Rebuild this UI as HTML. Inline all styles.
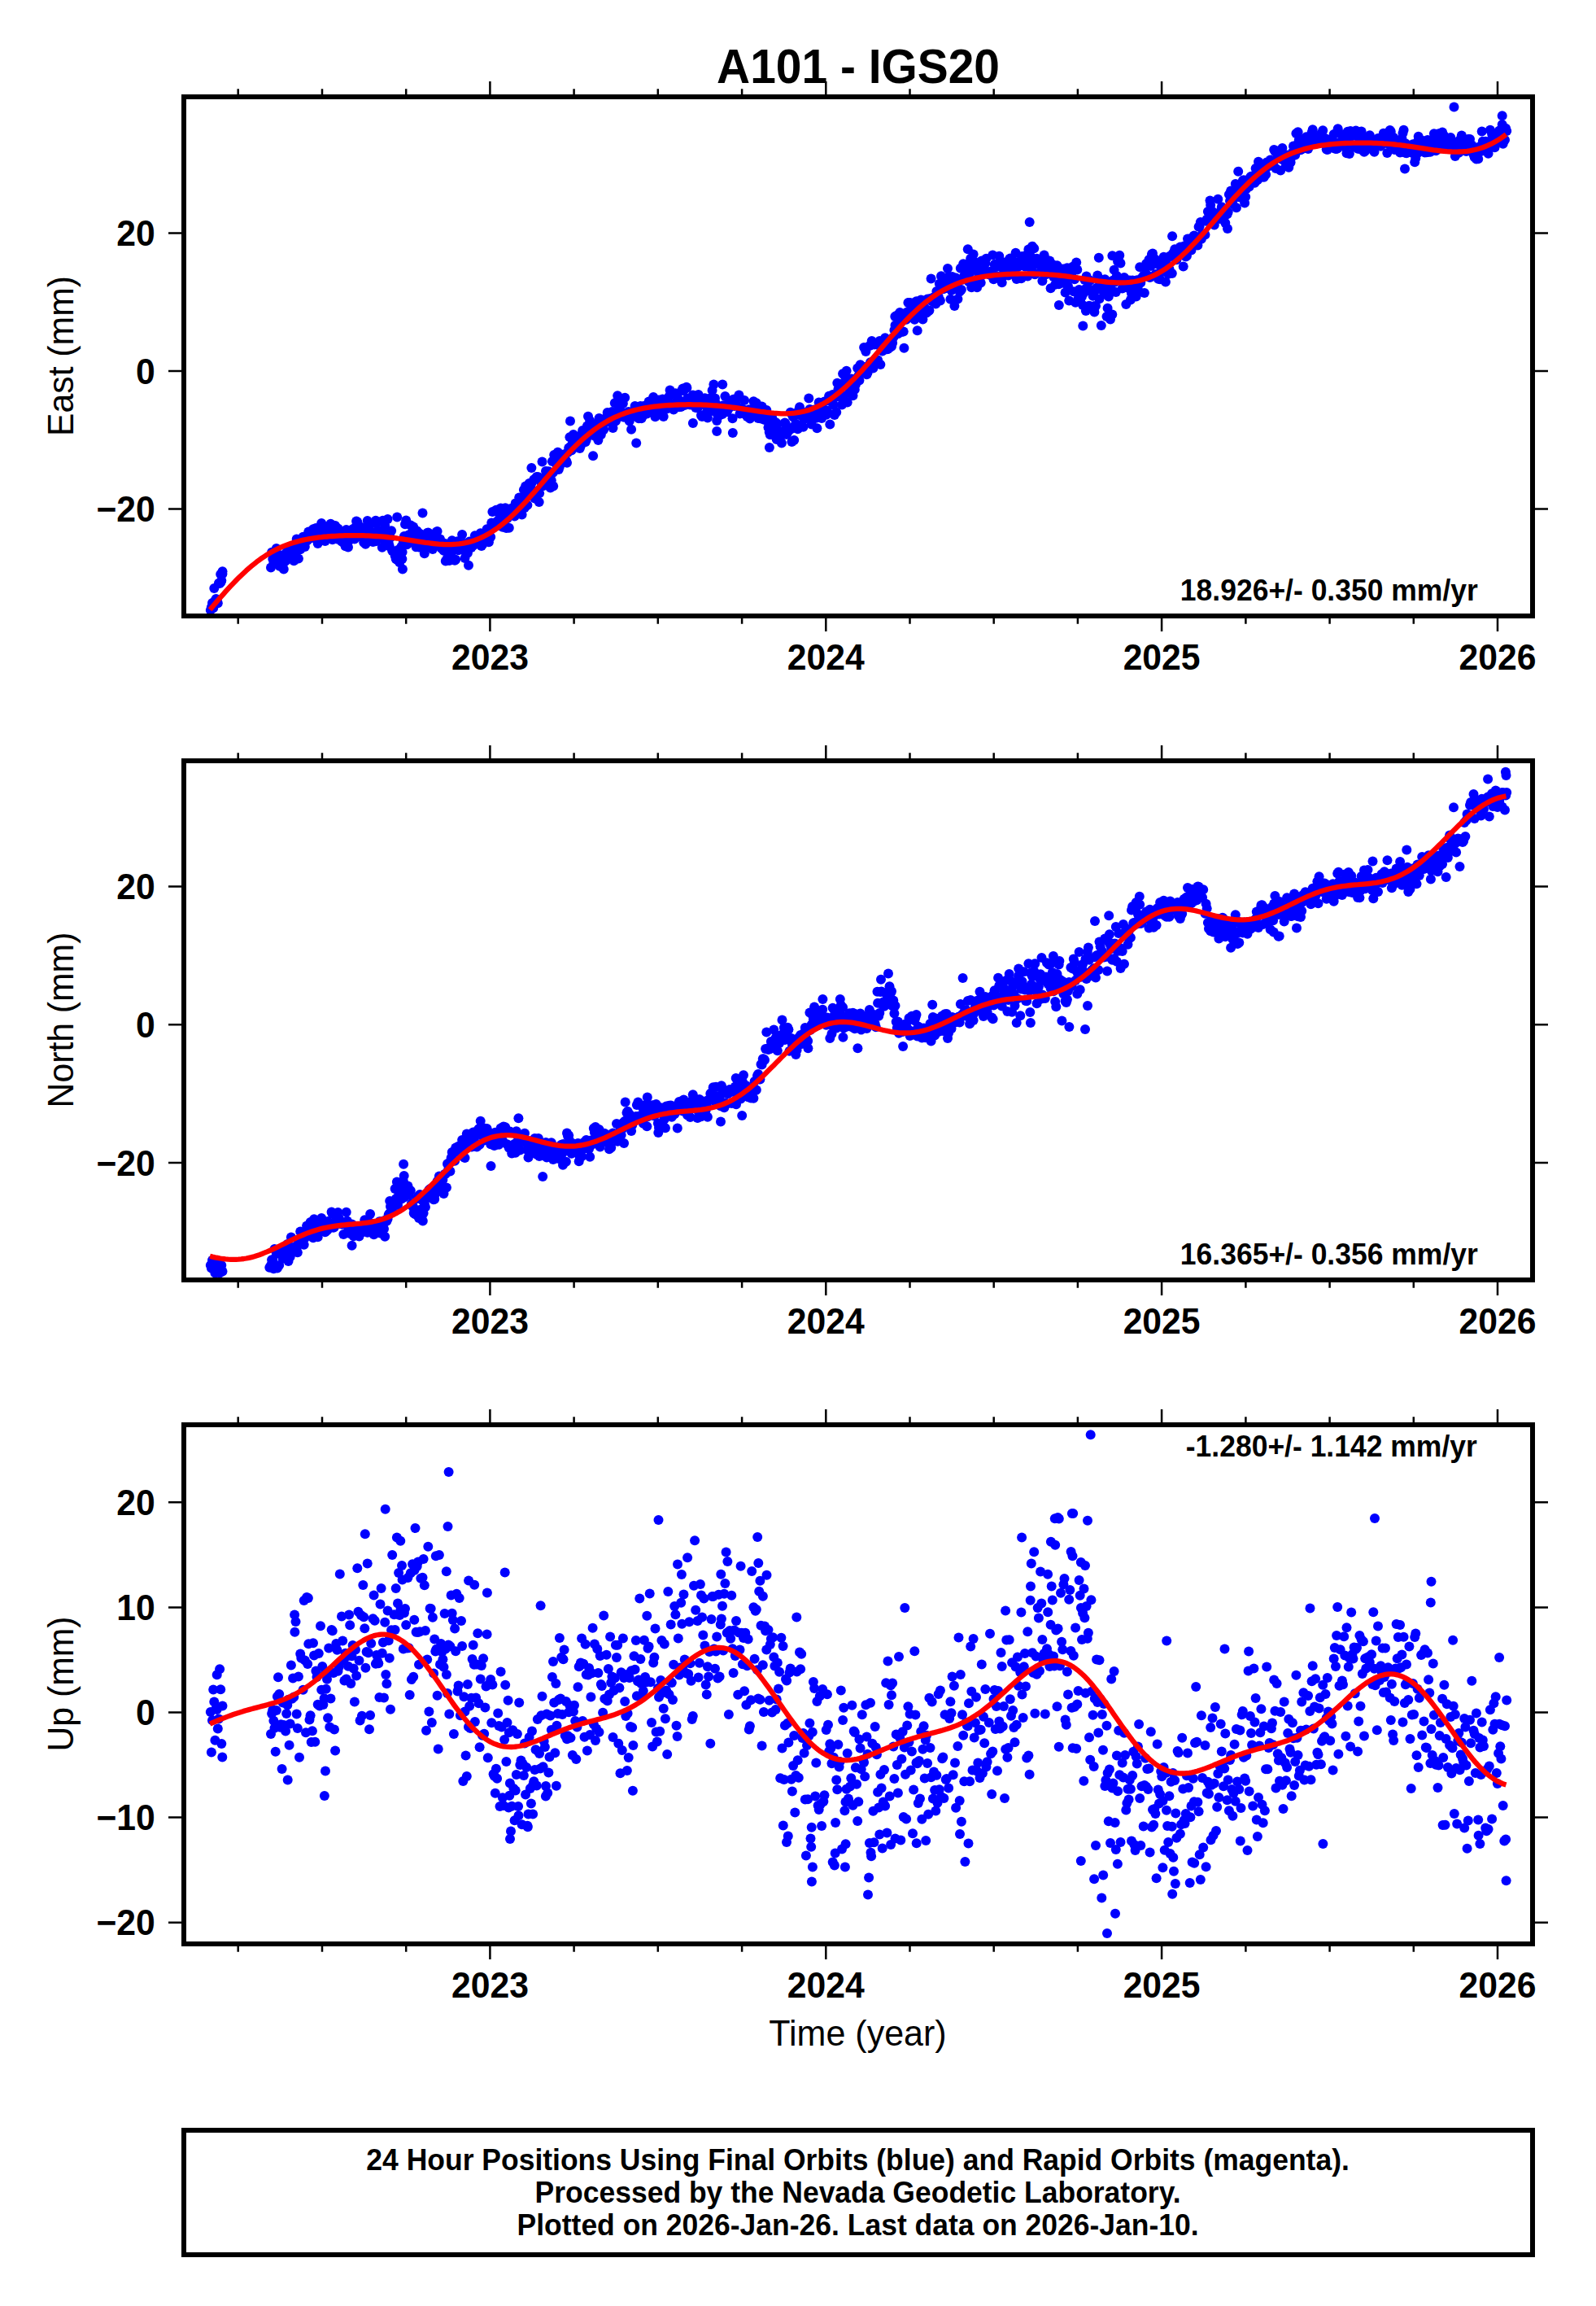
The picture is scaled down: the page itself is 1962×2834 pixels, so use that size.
<!DOCTYPE html>
<html lang="en"><head><meta charset="utf-8"><title>A101 - IGS20</title>
<style>html,body{margin:0;padding:0;background:#fff}svg{display:block}</style></head>
<body>
<svg width="1962" height="2834" viewBox="0 0 1962 2834" font-family='"Liberation Sans", Arial, Helvetica, sans-serif'>
<rect width="1962" height="2834" fill="#fff"/>
<text transform="translate(1055.0 102.0) scale(1 1.035)" font-size="56.9" font-weight="bold" text-anchor="middle">A101 - IGS20</text>
<g fill="#00f" id="dots0">
<circle cx="258.8" cy="749.9" r="6"/><circle cx="259.9" cy="746.3" r="6"/><circle cx="261.0" cy="740.9" r="6"/><circle cx="262.2" cy="747.2" r="6"/><circle cx="263.3" cy="723.1" r="6"/><circle cx="264.4" cy="738.6" r="6"/><circle cx="265.6" cy="735.9" r="6"/><circle cx="266.7" cy="737.8" r="6"/><circle cx="267.8" cy="741.3" r="6"/><circle cx="268.9" cy="716.8" r="6"/><circle cx="270.1" cy="717.1" r="6"/><circle cx="271.2" cy="705.7" r="6"/><circle cx="272.3" cy="713.4" r="6"/><circle cx="273.5" cy="702.3" r="6"/><circle cx="333.0" cy="697.6" r="6"/><circle cx="334.1" cy="678.7" r="6"/><circle cx="335.3" cy="687.0" r="6"/><circle cx="336.4" cy="691.9" r="6"/><circle cx="337.5" cy="687.7" r="6"/><circle cx="338.7" cy="684.7" r="6"/><circle cx="339.8" cy="674.1" r="6"/><circle cx="340.9" cy="681.0" r="6"/><circle cx="342.0" cy="689.4" r="6"/><circle cx="343.2" cy="695.1" r="6"/><circle cx="344.3" cy="696.0" r="6"/><circle cx="345.4" cy="682.4" r="6"/><circle cx="346.6" cy="685.6" r="6"/><circle cx="347.7" cy="692.9" r="6"/><circle cx="348.8" cy="699.5" r="6"/><circle cx="350.0" cy="686.3" r="6"/><circle cx="351.1" cy="689.5" r="6"/><circle cx="352.2" cy="678.7" r="6"/><circle cx="353.3" cy="681.0" r="6"/><circle cx="354.5" cy="680.2" r="6"/><circle cx="355.6" cy="677.0" r="6"/><circle cx="356.7" cy="675.5" r="6"/><circle cx="357.9" cy="682.8" r="6"/><circle cx="359.0" cy="672.8" r="6"/><circle cx="360.1" cy="683.5" r="6"/><circle cx="361.3" cy="689.2" r="6"/><circle cx="362.4" cy="679.3" r="6"/><circle cx="363.5" cy="669.4" r="6"/><circle cx="364.7" cy="662.5" r="6"/><circle cx="365.8" cy="672.7" r="6"/><circle cx="366.9" cy="686.6" r="6"/><circle cx="368.0" cy="671.0" r="6"/><circle cx="369.2" cy="675.3" r="6"/><circle cx="370.3" cy="670.4" r="6"/><circle cx="372.6" cy="659.7" r="6"/><circle cx="373.7" cy="670.2" r="6"/><circle cx="374.8" cy="671.9" r="6"/><circle cx="376.0" cy="663.2" r="6"/><circle cx="377.1" cy="664.7" r="6"/><circle cx="378.2" cy="663.7" r="6"/><circle cx="379.3" cy="653.5" r="6"/><circle cx="380.5" cy="659.6" r="6"/><circle cx="381.6" cy="656.9" r="6"/><circle cx="382.7" cy="659.0" r="6"/><circle cx="383.9" cy="660.9" r="6"/><circle cx="385.0" cy="650.3" r="6"/><circle cx="386.1" cy="657.2" r="6"/><circle cx="387.3" cy="654.8" r="6"/><circle cx="388.4" cy="649.1" r="6"/><circle cx="389.5" cy="658.0" r="6"/><circle cx="390.7" cy="668.1" r="6"/><circle cx="391.8" cy="661.6" r="6"/><circle cx="392.9" cy="662.4" r="6"/><circle cx="394.0" cy="652.3" r="6"/><circle cx="395.2" cy="642.9" r="6"/><circle cx="396.3" cy="653.8" r="6"/><circle cx="397.4" cy="658.5" r="6"/><circle cx="398.6" cy="648.8" r="6"/><circle cx="399.7" cy="664.9" r="6"/><circle cx="400.8" cy="656.3" r="6"/><circle cx="402.0" cy="655.4" r="6"/><circle cx="403.1" cy="658.7" r="6"/><circle cx="404.2" cy="657.7" r="6"/><circle cx="405.3" cy="655.4" r="6"/><circle cx="406.5" cy="643.8" r="6"/><circle cx="407.6" cy="653.7" r="6"/><circle cx="408.7" cy="663.2" r="6"/><circle cx="409.9" cy="657.6" r="6"/><circle cx="411.0" cy="654.6" r="6"/><circle cx="412.1" cy="645.9" r="6"/><circle cx="413.3" cy="659.1" r="6"/><circle cx="414.4" cy="662.4" r="6"/><circle cx="415.5" cy="649.6" r="6"/><circle cx="416.7" cy="651.9" r="6"/><circle cx="417.8" cy="660.7" r="6"/><circle cx="420.0" cy="665.5" r="6"/><circle cx="421.2" cy="662.7" r="6"/><circle cx="422.3" cy="656.2" r="6"/><circle cx="423.4" cy="667.9" r="6"/><circle cx="424.6" cy="671.2" r="6"/><circle cx="425.7" cy="651.1" r="6"/><circle cx="426.8" cy="670.3" r="6"/><circle cx="428.0" cy="672.6" r="6"/><circle cx="429.1" cy="664.2" r="6"/><circle cx="430.2" cy="660.4" r="6"/><circle cx="431.3" cy="655.5" r="6"/><circle cx="432.5" cy="652.4" r="6"/><circle cx="433.6" cy="650.2" r="6"/><circle cx="434.7" cy="655.9" r="6"/><circle cx="435.9" cy="662.5" r="6"/><circle cx="437.0" cy="648.1" r="6"/><circle cx="438.1" cy="640.5" r="6"/><circle cx="439.3" cy="641.5" r="6"/><circle cx="440.4" cy="644.9" r="6"/><circle cx="441.5" cy="648.4" r="6"/><circle cx="442.6" cy="659.4" r="6"/><circle cx="443.8" cy="650.2" r="6"/><circle cx="444.9" cy="654.4" r="6"/><circle cx="447.2" cy="666.8" r="6"/><circle cx="448.3" cy="648.3" r="6"/><circle cx="449.4" cy="668.7" r="6"/><circle cx="450.6" cy="661.7" r="6"/><circle cx="451.7" cy="639.9" r="6"/><circle cx="452.8" cy="659.0" r="6"/><circle cx="454.0" cy="654.9" r="6"/><circle cx="455.1" cy="643.9" r="6"/><circle cx="456.2" cy="653.5" r="6"/><circle cx="458.5" cy="666.0" r="6"/><circle cx="459.6" cy="659.4" r="6"/><circle cx="460.7" cy="654.1" r="6"/><circle cx="461.9" cy="665.3" r="6"/><circle cx="463.0" cy="643.1" r="6"/><circle cx="464.1" cy="652.7" r="6"/><circle cx="465.3" cy="652.8" r="6"/><circle cx="466.4" cy="652.1" r="6"/><circle cx="467.5" cy="653.8" r="6"/><circle cx="468.6" cy="662.0" r="6"/><circle cx="469.8" cy="672.7" r="6"/><circle cx="470.9" cy="654.1" r="6"/><circle cx="472.0" cy="657.4" r="6"/><circle cx="473.2" cy="645.5" r="6"/><circle cx="474.3" cy="668.2" r="6"/><circle cx="475.4" cy="657.9" r="6"/><circle cx="476.6" cy="638.1" r="6"/><circle cx="477.7" cy="667.4" r="6"/><circle cx="478.8" cy="671.5" r="6"/><circle cx="480.0" cy="660.5" r="6"/><circle cx="481.1" cy="652.2" r="6"/><circle cx="482.2" cy="676.9" r="6"/><circle cx="484.5" cy="677.9" r="6"/><circle cx="485.6" cy="682.9" r="6"/><circle cx="486.7" cy="686.9" r="6"/><circle cx="487.9" cy="687.8" r="6"/><circle cx="489.0" cy="675.9" r="6"/><circle cx="490.1" cy="681.8" r="6"/><circle cx="491.3" cy="691.2" r="6"/><circle cx="492.4" cy="686.3" r="6"/><circle cx="493.5" cy="671.7" r="6"/><circle cx="494.6" cy="678.5" r="6"/><circle cx="495.8" cy="665.9" r="6"/><circle cx="496.9" cy="658.9" r="6"/><circle cx="498.0" cy="644.2" r="6"/><circle cx="499.2" cy="639.6" r="6"/><circle cx="500.3" cy="669.2" r="6"/><circle cx="501.4" cy="657.9" r="6"/><circle cx="502.6" cy="657.5" r="6"/><circle cx="503.7" cy="661.1" r="6"/><circle cx="504.8" cy="645.4" r="6"/><circle cx="505.9" cy="654.9" r="6"/><circle cx="507.1" cy="663.9" r="6"/><circle cx="508.2" cy="647.5" r="6"/><circle cx="509.3" cy="656.2" r="6"/><circle cx="510.5" cy="668.7" r="6"/><circle cx="511.6" cy="672.2" r="6"/><circle cx="512.7" cy="652.4" r="6"/><circle cx="513.9" cy="665.0" r="6"/><circle cx="515.0" cy="672.5" r="6"/><circle cx="516.1" cy="655.8" r="6"/><circle cx="517.3" cy="672.7" r="6"/><circle cx="519.5" cy="667.3" r="6"/><circle cx="520.6" cy="669.7" r="6"/><circle cx="521.8" cy="680.2" r="6"/><circle cx="522.9" cy="659.6" r="6"/><circle cx="524.0" cy="673.5" r="6"/><circle cx="525.2" cy="654.9" r="6"/><circle cx="526.3" cy="654.4" r="6"/><circle cx="527.4" cy="656.3" r="6"/><circle cx="528.6" cy="657.7" r="6"/><circle cx="529.7" cy="660.0" r="6"/><circle cx="530.8" cy="660.1" r="6"/><circle cx="531.9" cy="675.1" r="6"/><circle cx="533.1" cy="666.3" r="6"/><circle cx="534.2" cy="664.8" r="6"/><circle cx="535.3" cy="657.8" r="6"/><circle cx="536.5" cy="653.8" r="6"/><circle cx="537.6" cy="653.1" r="6"/><circle cx="538.7" cy="668.3" r="6"/><circle cx="539.9" cy="668.5" r="6"/><circle cx="541.0" cy="662.6" r="6"/><circle cx="542.1" cy="673.1" r="6"/><circle cx="543.3" cy="674.2" r="6"/><circle cx="544.4" cy="673.4" r="6"/><circle cx="545.5" cy="676.8" r="6"/><circle cx="546.6" cy="667.8" r="6"/><circle cx="547.8" cy="689.5" r="6"/><circle cx="548.9" cy="675.6" r="6"/><circle cx="550.0" cy="685.7" r="6"/><circle cx="551.2" cy="674.2" r="6"/><circle cx="552.3" cy="688.9" r="6"/><circle cx="553.4" cy="679.0" r="6"/><circle cx="554.6" cy="681.8" r="6"/><circle cx="555.7" cy="664.3" r="6"/><circle cx="556.8" cy="687.8" r="6"/><circle cx="557.9" cy="671.7" r="6"/><circle cx="559.1" cy="688.8" r="6"/><circle cx="560.2" cy="687.8" r="6"/><circle cx="561.3" cy="671.4" r="6"/><circle cx="562.5" cy="665.3" r="6"/><circle cx="563.6" cy="676.3" r="6"/><circle cx="564.7" cy="668.9" r="6"/><circle cx="565.9" cy="671.3" r="6"/><circle cx="567.0" cy="669.9" r="6"/><circle cx="568.1" cy="657.1" r="6"/><circle cx="569.3" cy="675.7" r="6"/><circle cx="570.4" cy="667.9" r="6"/><circle cx="571.5" cy="686.0" r="6"/><circle cx="572.6" cy="679.1" r="6"/><circle cx="573.8" cy="668.3" r="6"/><circle cx="574.9" cy="679.8" r="6"/><circle cx="576.0" cy="694.7" r="6"/><circle cx="577.2" cy="665.4" r="6"/><circle cx="578.3" cy="666.1" r="6"/><circle cx="579.4" cy="672.9" r="6"/><circle cx="580.6" cy="669.3" r="6"/><circle cx="581.7" cy="670.6" r="6"/><circle cx="582.8" cy="667.5" r="6"/><circle cx="583.9" cy="658.3" r="6"/><circle cx="585.1" cy="666.1" r="6"/><circle cx="586.2" cy="666.2" r="6"/><circle cx="587.3" cy="667.1" r="6"/><circle cx="588.5" cy="664.1" r="6"/><circle cx="589.6" cy="669.2" r="6"/><circle cx="590.7" cy="655.2" r="6"/><circle cx="591.9" cy="671.1" r="6"/><circle cx="593.0" cy="669.3" r="6"/><circle cx="594.1" cy="660.0" r="6"/><circle cx="595.2" cy="659.7" r="6"/><circle cx="596.4" cy="654.8" r="6"/><circle cx="597.5" cy="655.0" r="6"/><circle cx="598.6" cy="650.3" r="6"/><circle cx="599.8" cy="664.3" r="6"/><circle cx="600.9" cy="666.3" r="6"/><circle cx="603.2" cy="659.9" r="6"/><circle cx="604.3" cy="642.4" r="6"/><circle cx="605.4" cy="628.9" r="6"/><circle cx="606.6" cy="647.9" r="6"/><circle cx="607.7" cy="646.3" r="6"/><circle cx="608.8" cy="644.1" r="6"/><circle cx="609.9" cy="626.8" r="6"/><circle cx="611.1" cy="640.8" r="6"/><circle cx="612.2" cy="642.6" r="6"/><circle cx="613.3" cy="646.0" r="6"/><circle cx="614.5" cy="635.6" r="6"/><circle cx="615.6" cy="624.6" r="6"/><circle cx="616.7" cy="635.2" r="6"/><circle cx="617.9" cy="647.7" r="6"/><circle cx="619.0" cy="629.5" r="6"/><circle cx="620.1" cy="638.5" r="6"/><circle cx="621.2" cy="624.2" r="6"/><circle cx="622.4" cy="649.0" r="6"/><circle cx="623.5" cy="637.3" r="6"/><circle cx="624.6" cy="635.0" r="6"/><circle cx="625.8" cy="648.7" r="6"/><circle cx="626.9" cy="629.7" r="6"/><circle cx="628.0" cy="625.1" r="6"/><circle cx="629.2" cy="630.2" r="6"/><circle cx="630.3" cy="624.7" r="6"/><circle cx="631.4" cy="626.3" r="6"/><circle cx="632.6" cy="634.5" r="6"/><circle cx="633.7" cy="618.6" r="6"/><circle cx="634.8" cy="630.4" r="6"/><circle cx="635.9" cy="626.5" r="6"/><circle cx="637.1" cy="630.9" r="6"/><circle cx="638.2" cy="611.4" r="6"/><circle cx="639.3" cy="623.0" r="6"/><circle cx="640.5" cy="621.8" r="6"/><circle cx="641.6" cy="632.4" r="6"/><circle cx="642.7" cy="612.3" r="6"/><circle cx="643.9" cy="602.0" r="6"/><circle cx="645.0" cy="624.0" r="6"/><circle cx="646.1" cy="597.5" r="6"/><circle cx="647.2" cy="602.4" r="6"/><circle cx="648.4" cy="620.7" r="6"/><circle cx="649.5" cy="606.5" r="6"/><circle cx="650.6" cy="593.9" r="6"/><circle cx="651.8" cy="602.4" r="6"/><circle cx="652.9" cy="600.0" r="6"/><circle cx="654.0" cy="593.1" r="6"/><circle cx="655.2" cy="603.9" r="6"/><circle cx="656.3" cy="589.3" r="6"/><circle cx="657.4" cy="612.4" r="6"/><circle cx="658.6" cy="612.5" r="6"/><circle cx="659.7" cy="586.1" r="6"/><circle cx="660.8" cy="586.6" r="6"/><circle cx="661.9" cy="586.2" r="6"/><circle cx="663.1" cy="606.2" r="6"/><circle cx="664.2" cy="589.8" r="6"/><circle cx="665.3" cy="592.8" r="6"/><circle cx="666.5" cy="567.6" r="6"/><circle cx="667.6" cy="597.2" r="6"/><circle cx="668.7" cy="595.0" r="6"/><circle cx="669.9" cy="586.4" r="6"/><circle cx="671.0" cy="579.1" r="6"/><circle cx="672.1" cy="590.4" r="6"/><circle cx="673.2" cy="586.0" r="6"/><circle cx="674.4" cy="579.3" r="6"/><circle cx="675.5" cy="580.8" r="6"/><circle cx="676.6" cy="599.4" r="6"/><circle cx="677.8" cy="590.5" r="6"/><circle cx="678.9" cy="567.0" r="6"/><circle cx="680.0" cy="580.7" r="6"/><circle cx="681.2" cy="559.1" r="6"/><circle cx="682.3" cy="564.0" r="6"/><circle cx="683.4" cy="564.4" r="6"/><circle cx="684.5" cy="571.6" r="6"/><circle cx="685.7" cy="555.7" r="6"/><circle cx="686.8" cy="577.0" r="6"/><circle cx="687.9" cy="573.3" r="6"/><circle cx="689.1" cy="561.1" r="6"/><circle cx="690.2" cy="558.5" r="6"/><circle cx="691.3" cy="565.8" r="6"/><circle cx="692.5" cy="566.4" r="6"/><circle cx="693.6" cy="559.4" r="6"/><circle cx="694.7" cy="557.9" r="6"/><circle cx="695.9" cy="566.0" r="6"/><circle cx="697.0" cy="568.8" r="6"/><circle cx="698.1" cy="555.9" r="6"/><circle cx="699.2" cy="550.6" r="6"/><circle cx="700.4" cy="537.3" r="6"/><circle cx="701.5" cy="548.8" r="6"/><circle cx="702.6" cy="553.6" r="6"/><circle cx="703.8" cy="545.0" r="6"/><circle cx="704.9" cy="534.1" r="6"/><circle cx="706.0" cy="549.9" r="6"/><circle cx="707.2" cy="540.9" r="6"/><circle cx="708.3" cy="544.6" r="6"/><circle cx="709.4" cy="543.4" r="6"/><circle cx="710.5" cy="549.3" r="6"/><circle cx="711.7" cy="537.2" r="6"/><circle cx="712.8" cy="550.9" r="6"/><circle cx="713.9" cy="547.8" r="6"/><circle cx="715.1" cy="533.8" r="6"/><circle cx="716.2" cy="529.0" r="6"/><circle cx="717.3" cy="531.6" r="6"/><circle cx="718.5" cy="531.8" r="6"/><circle cx="719.6" cy="543.2" r="6"/><circle cx="720.7" cy="540.7" r="6"/><circle cx="721.9" cy="523.4" r="6"/><circle cx="723.0" cy="511.7" r="6"/><circle cx="724.1" cy="535.1" r="6"/><circle cx="725.2" cy="516.9" r="6"/><circle cx="726.4" cy="521.4" r="6"/><circle cx="727.5" cy="527.2" r="6"/><circle cx="728.6" cy="532.1" r="6"/><circle cx="729.8" cy="531.3" r="6"/><circle cx="730.9" cy="535.8" r="6"/><circle cx="732.0" cy="521.5" r="6"/><circle cx="733.2" cy="533.3" r="6"/><circle cx="734.3" cy="523.9" r="6"/><circle cx="735.4" cy="541.0" r="6"/><circle cx="736.5" cy="513.9" r="6"/><circle cx="737.7" cy="515.7" r="6"/><circle cx="738.8" cy="534.2" r="6"/><circle cx="739.9" cy="520.5" r="6"/><circle cx="741.1" cy="522.0" r="6"/><circle cx="742.2" cy="528.1" r="6"/><circle cx="743.3" cy="519.5" r="6"/><circle cx="745.6" cy="512.7" r="6"/><circle cx="746.7" cy="506.9" r="6"/><circle cx="747.9" cy="518.2" r="6"/><circle cx="749.0" cy="513.6" r="6"/><circle cx="750.1" cy="509.9" r="6"/><circle cx="751.2" cy="510.8" r="6"/><circle cx="752.4" cy="506.0" r="6"/><circle cx="753.5" cy="526.1" r="6"/><circle cx="754.6" cy="513.6" r="6"/><circle cx="755.8" cy="495.2" r="6"/><circle cx="756.9" cy="517.6" r="6"/><circle cx="758.0" cy="511.1" r="6"/><circle cx="759.2" cy="486.3" r="6"/><circle cx="760.3" cy="512.5" r="6"/><circle cx="761.4" cy="501.3" r="6"/><circle cx="762.5" cy="504.7" r="6"/><circle cx="763.7" cy="507.4" r="6"/><circle cx="764.8" cy="495.6" r="6"/><circle cx="765.9" cy="496.0" r="6"/><circle cx="767.1" cy="512.8" r="6"/><circle cx="768.2" cy="488.7" r="6"/><circle cx="769.3" cy="512.3" r="6"/><circle cx="770.5" cy="507.6" r="6"/><circle cx="771.6" cy="509.3" r="6"/><circle cx="772.7" cy="506.0" r="6"/><circle cx="773.8" cy="517.6" r="6"/><circle cx="775.0" cy="507.2" r="6"/><circle cx="776.1" cy="527.8" r="6"/><circle cx="777.2" cy="508.4" r="6"/><circle cx="778.4" cy="511.6" r="6"/><circle cx="779.5" cy="509.0" r="6"/><circle cx="780.6" cy="499.1" r="6"/><circle cx="781.8" cy="500.4" r="6"/><circle cx="782.9" cy="505.1" r="6"/><circle cx="784.0" cy="500.2" r="6"/><circle cx="785.2" cy="514.3" r="6"/><circle cx="786.3" cy="505.9" r="6"/><circle cx="787.4" cy="499.0" r="6"/><circle cx="788.5" cy="514.2" r="6"/><circle cx="789.7" cy="511.9" r="6"/><circle cx="790.8" cy="509.0" r="6"/><circle cx="791.9" cy="499.1" r="6"/><circle cx="793.1" cy="499.1" r="6"/><circle cx="794.2" cy="503.5" r="6"/><circle cx="795.3" cy="508.6" r="6"/><circle cx="796.5" cy="497.6" r="6"/><circle cx="797.6" cy="493.4" r="6"/><circle cx="798.7" cy="495.7" r="6"/><circle cx="799.8" cy="505.8" r="6"/><circle cx="801.0" cy="493.5" r="6"/><circle cx="802.1" cy="499.2" r="6"/><circle cx="803.2" cy="488.1" r="6"/><circle cx="804.4" cy="502.5" r="6"/><circle cx="805.5" cy="512.2" r="6"/><circle cx="806.6" cy="498.3" r="6"/><circle cx="807.8" cy="504.5" r="6"/><circle cx="808.9" cy="500.8" r="6"/><circle cx="810.0" cy="491.5" r="6"/><circle cx="811.2" cy="507.3" r="6"/><circle cx="812.3" cy="494.7" r="6"/><circle cx="813.4" cy="493.7" r="6"/><circle cx="814.5" cy="490.4" r="6"/><circle cx="815.7" cy="512.0" r="6"/><circle cx="816.8" cy="497.2" r="6"/><circle cx="817.9" cy="502.1" r="6"/><circle cx="819.1" cy="500.1" r="6"/><circle cx="820.2" cy="502.2" r="6"/><circle cx="821.3" cy="496.9" r="6"/><circle cx="822.5" cy="487.2" r="6"/><circle cx="823.6" cy="479.4" r="6"/><circle cx="824.7" cy="485.3" r="6"/><circle cx="825.8" cy="499.5" r="6"/><circle cx="827.0" cy="485.1" r="6"/><circle cx="828.1" cy="503.4" r="6"/><circle cx="829.2" cy="496.2" r="6"/><circle cx="830.4" cy="483.2" r="6"/><circle cx="831.5" cy="498.6" r="6"/><circle cx="832.6" cy="487.1" r="6"/><circle cx="833.8" cy="494.0" r="6"/><circle cx="834.9" cy="500.2" r="6"/><circle cx="836.0" cy="492.8" r="6"/><circle cx="837.2" cy="500.1" r="6"/><circle cx="838.3" cy="479.7" r="6"/><circle cx="839.4" cy="477.5" r="6"/><circle cx="840.5" cy="480.1" r="6"/><circle cx="841.7" cy="497.9" r="6"/><circle cx="843.9" cy="475.7" r="6"/><circle cx="845.1" cy="489.4" r="6"/><circle cx="846.2" cy="491.5" r="6"/><circle cx="847.3" cy="491.5" r="6"/><circle cx="848.5" cy="497.6" r="6"/><circle cx="849.6" cy="492.0" r="6"/><circle cx="850.7" cy="490.1" r="6"/><circle cx="851.8" cy="485.4" r="6"/><circle cx="853.0" cy="491.7" r="6"/><circle cx="854.1" cy="496.0" r="6"/><circle cx="855.2" cy="500.9" r="6"/><circle cx="857.5" cy="501.4" r="6"/><circle cx="858.6" cy="485.0" r="6"/><circle cx="859.8" cy="492.3" r="6"/><circle cx="860.9" cy="495.9" r="6"/><circle cx="862.0" cy="510.4" r="6"/><circle cx="863.1" cy="512.1" r="6"/><circle cx="864.3" cy="493.0" r="6"/><circle cx="865.4" cy="493.9" r="6"/><circle cx="866.5" cy="489.3" r="6"/><circle cx="867.7" cy="498.7" r="6"/><circle cx="868.8" cy="506.5" r="6"/><circle cx="869.9" cy="513.5" r="6"/><circle cx="871.1" cy="506.6" r="6"/><circle cx="872.2" cy="491.0" r="6"/><circle cx="873.3" cy="491.2" r="6"/><circle cx="874.5" cy="488.6" r="6"/><circle cx="875.6" cy="479.8" r="6"/><circle cx="876.7" cy="505.1" r="6"/><circle cx="877.8" cy="503.1" r="6"/><circle cx="879.0" cy="489.6" r="6"/><circle cx="880.1" cy="496.1" r="6"/><circle cx="881.2" cy="517.0" r="6"/><circle cx="882.4" cy="510.7" r="6"/><circle cx="883.5" cy="505.0" r="6"/><circle cx="884.6" cy="510.4" r="6"/><circle cx="885.8" cy="504.3" r="6"/><circle cx="886.9" cy="505.0" r="6"/><circle cx="888.0" cy="508.9" r="6"/><circle cx="889.1" cy="498.2" r="6"/><circle cx="890.3" cy="499.2" r="6"/><circle cx="891.4" cy="487.0" r="6"/><circle cx="893.7" cy="506.3" r="6"/><circle cx="894.8" cy="496.8" r="6"/><circle cx="895.9" cy="502.1" r="6"/><circle cx="897.1" cy="498.0" r="6"/><circle cx="898.2" cy="493.9" r="6"/><circle cx="899.3" cy="492.7" r="6"/><circle cx="900.5" cy="514.3" r="6"/><circle cx="901.6" cy="490.7" r="6"/><circle cx="902.7" cy="499.0" r="6"/><circle cx="903.8" cy="497.7" r="6"/><circle cx="905.0" cy="497.1" r="6"/><circle cx="907.2" cy="488.3" r="6"/><circle cx="908.4" cy="485.4" r="6"/><circle cx="909.5" cy="508.5" r="6"/><circle cx="910.6" cy="502.1" r="6"/><circle cx="911.8" cy="504.6" r="6"/><circle cx="912.9" cy="507.1" r="6"/><circle cx="914.0" cy="503.4" r="6"/><circle cx="915.1" cy="492.0" r="6"/><circle cx="916.3" cy="509.3" r="6"/><circle cx="917.4" cy="507.7" r="6"/><circle cx="918.5" cy="511.9" r="6"/><circle cx="919.7" cy="507.0" r="6"/><circle cx="920.8" cy="503.3" r="6"/><circle cx="921.9" cy="514.6" r="6"/><circle cx="923.1" cy="503.5" r="6"/><circle cx="924.2" cy="510.3" r="6"/><circle cx="926.4" cy="493.3" r="6"/><circle cx="927.6" cy="500.8" r="6"/><circle cx="928.7" cy="503.5" r="6"/><circle cx="929.8" cy="495.3" r="6"/><circle cx="931.0" cy="508.3" r="6"/><circle cx="932.1" cy="514.0" r="6"/><circle cx="933.2" cy="513.1" r="6"/><circle cx="934.4" cy="504.2" r="6"/><circle cx="935.5" cy="514.4" r="6"/><circle cx="936.6" cy="499.6" r="6"/><circle cx="937.8" cy="510.4" r="6"/><circle cx="938.9" cy="513.5" r="6"/><circle cx="940.0" cy="515.9" r="6"/><circle cx="941.1" cy="507.2" r="6"/><circle cx="942.3" cy="504.1" r="6"/><circle cx="944.5" cy="525.2" r="6"/><circle cx="945.7" cy="531.1" r="6"/><circle cx="946.8" cy="534.3" r="6"/><circle cx="947.9" cy="519.7" r="6"/><circle cx="949.1" cy="512.9" r="6"/><circle cx="950.2" cy="534.5" r="6"/><circle cx="951.3" cy="523.7" r="6"/><circle cx="952.4" cy="530.3" r="6"/><circle cx="953.6" cy="519.1" r="6"/><circle cx="954.7" cy="540.0" r="6"/><circle cx="955.8" cy="520.9" r="6"/><circle cx="957.0" cy="539.1" r="6"/><circle cx="958.1" cy="537.2" r="6"/><circle cx="959.2" cy="530.0" r="6"/><circle cx="960.4" cy="531.4" r="6"/><circle cx="961.5" cy="534.8" r="6"/><circle cx="962.6" cy="531.6" r="6"/><circle cx="963.8" cy="532.4" r="6"/><circle cx="964.9" cy="519.6" r="6"/><circle cx="966.0" cy="521.2" r="6"/><circle cx="967.1" cy="533.9" r="6"/><circle cx="968.3" cy="528.8" r="6"/><circle cx="969.4" cy="529.7" r="6"/><circle cx="970.5" cy="526.7" r="6"/><circle cx="971.7" cy="506.7" r="6"/><circle cx="972.8" cy="526.9" r="6"/><circle cx="973.9" cy="509.9" r="6"/><circle cx="975.1" cy="512.4" r="6"/><circle cx="976.2" cy="541.1" r="6"/><circle cx="977.3" cy="522.9" r="6"/><circle cx="978.4" cy="520.8" r="6"/><circle cx="979.6" cy="523.6" r="6"/><circle cx="980.7" cy="527.3" r="6"/><circle cx="981.8" cy="504.5" r="6"/><circle cx="983.0" cy="500.3" r="6"/><circle cx="984.1" cy="510.6" r="6"/><circle cx="985.2" cy="523.0" r="6"/><circle cx="986.4" cy="506.8" r="6"/><circle cx="987.5" cy="524.7" r="6"/><circle cx="988.6" cy="515.3" r="6"/><circle cx="989.8" cy="507.2" r="6"/><circle cx="990.9" cy="506.7" r="6"/><circle cx="992.0" cy="509.2" r="6"/><circle cx="993.1" cy="508.7" r="6"/><circle cx="994.3" cy="489.4" r="6"/><circle cx="995.4" cy="503.0" r="6"/><circle cx="996.5" cy="513.5" r="6"/><circle cx="997.7" cy="521.5" r="6"/><circle cx="998.8" cy="506.6" r="6"/><circle cx="999.9" cy="512.8" r="6"/><circle cx="1001.1" cy="503.4" r="6"/><circle cx="1002.2" cy="510.4" r="6"/><circle cx="1003.3" cy="513.8" r="6"/><circle cx="1004.4" cy="526.2" r="6"/><circle cx="1005.6" cy="512.9" r="6"/><circle cx="1006.7" cy="494.6" r="6"/><circle cx="1007.8" cy="505.0" r="6"/><circle cx="1009.0" cy="499.2" r="6"/><circle cx="1010.1" cy="514.1" r="6"/><circle cx="1011.2" cy="494.9" r="6"/><circle cx="1012.4" cy="505.6" r="6"/><circle cx="1013.5" cy="493.5" r="6"/><circle cx="1015.7" cy="509.7" r="6"/><circle cx="1016.9" cy="504.5" r="6"/><circle cx="1018.0" cy="508.1" r="6"/><circle cx="1019.1" cy="486.8" r="6"/><circle cx="1020.3" cy="521.5" r="6"/><circle cx="1021.4" cy="493.6" r="6"/><circle cx="1022.5" cy="489.8" r="6"/><circle cx="1023.7" cy="484.9" r="6"/><circle cx="1024.8" cy="497.4" r="6"/><circle cx="1025.9" cy="510.1" r="6"/><circle cx="1027.1" cy="487.8" r="6"/><circle cx="1028.2" cy="506.6" r="6"/><circle cx="1029.3" cy="470.8" r="6"/><circle cx="1030.4" cy="478.4" r="6"/><circle cx="1031.6" cy="487.2" r="6"/><circle cx="1032.7" cy="487.5" r="6"/><circle cx="1033.8" cy="472.0" r="6"/><circle cx="1035.0" cy="497.6" r="6"/><circle cx="1036.1" cy="459.2" r="6"/><circle cx="1037.2" cy="486.6" r="6"/><circle cx="1038.4" cy="461.9" r="6"/><circle cx="1039.5" cy="473.1" r="6"/><circle cx="1040.6" cy="455.8" r="6"/><circle cx="1041.7" cy="494.5" r="6"/><circle cx="1042.9" cy="470.8" r="6"/><circle cx="1044.0" cy="478.5" r="6"/><circle cx="1045.1" cy="483.6" r="6"/><circle cx="1046.3" cy="465.4" r="6"/><circle cx="1047.4" cy="481.2" r="6"/><circle cx="1048.5" cy="486.3" r="6"/><circle cx="1049.7" cy="474.2" r="6"/><circle cx="1050.8" cy="478.8" r="6"/><circle cx="1051.9" cy="472.5" r="6"/><circle cx="1053.1" cy="464.9" r="6"/><circle cx="1054.2" cy="452.6" r="6"/><circle cx="1055.3" cy="461.7" r="6"/><circle cx="1056.4" cy="467.5" r="6"/><circle cx="1057.6" cy="448.2" r="6"/><circle cx="1058.7" cy="456.8" r="6"/><circle cx="1059.8" cy="456.7" r="6"/><circle cx="1061.0" cy="456.4" r="6"/><circle cx="1062.1" cy="427.0" r="6"/><circle cx="1063.2" cy="451.1" r="6"/><circle cx="1064.4" cy="432.1" r="6"/><circle cx="1065.5" cy="460.3" r="6"/><circle cx="1066.6" cy="457.9" r="6"/><circle cx="1068.9" cy="424.9" r="6"/><circle cx="1070.0" cy="445.2" r="6"/><circle cx="1071.1" cy="448.5" r="6"/><circle cx="1072.3" cy="447.1" r="6"/><circle cx="1073.4" cy="452.5" r="6"/><circle cx="1074.5" cy="423.5" r="6"/><circle cx="1075.7" cy="445.5" r="6"/><circle cx="1076.8" cy="423.2" r="6"/><circle cx="1077.9" cy="446.5" r="6"/><circle cx="1079.1" cy="442.6" r="6"/><circle cx="1080.2" cy="424.2" r="6"/><circle cx="1081.3" cy="419.1" r="6"/><circle cx="1082.4" cy="448.1" r="6"/><circle cx="1083.6" cy="422.9" r="6"/><circle cx="1084.7" cy="431.4" r="6"/><circle cx="1085.8" cy="426.8" r="6"/><circle cx="1087.0" cy="429.7" r="6"/><circle cx="1088.1" cy="415.3" r="6"/><circle cx="1089.2" cy="421.2" r="6"/><circle cx="1090.4" cy="429.3" r="6"/><circle cx="1091.5" cy="429.1" r="6"/><circle cx="1092.6" cy="427.7" r="6"/><circle cx="1093.7" cy="427.0" r="6"/><circle cx="1094.9" cy="419.6" r="6"/><circle cx="1096.0" cy="425.7" r="6"/><circle cx="1097.1" cy="421.5" r="6"/><circle cx="1098.3" cy="414.5" r="6"/><circle cx="1099.4" cy="405.8" r="6"/><circle cx="1100.5" cy="399.7" r="6"/><circle cx="1101.7" cy="408.9" r="6"/><circle cx="1102.8" cy="387.5" r="6"/><circle cx="1103.9" cy="410.3" r="6"/><circle cx="1105.0" cy="402.2" r="6"/><circle cx="1106.2" cy="384.0" r="6"/><circle cx="1107.3" cy="392.9" r="6"/><circle cx="1108.4" cy="408.0" r="6"/><circle cx="1109.6" cy="392.9" r="6"/><circle cx="1110.7" cy="407.5" r="6"/><circle cx="1111.8" cy="387.9" r="6"/><circle cx="1113.0" cy="387.5" r="6"/><circle cx="1114.1" cy="392.8" r="6"/><circle cx="1115.2" cy="383.6" r="6"/><circle cx="1116.4" cy="372.0" r="6"/><circle cx="1117.5" cy="371.9" r="6"/><circle cx="1118.6" cy="371.9" r="6"/><circle cx="1119.7" cy="380.0" r="6"/><circle cx="1120.9" cy="385.8" r="6"/><circle cx="1122.0" cy="386.1" r="6"/><circle cx="1123.1" cy="372.3" r="6"/><circle cx="1124.3" cy="392.7" r="6"/><circle cx="1125.4" cy="382.0" r="6"/><circle cx="1126.5" cy="370.2" r="6"/><circle cx="1127.7" cy="406.3" r="6"/><circle cx="1128.8" cy="379.3" r="6"/><circle cx="1129.9" cy="389.3" r="6"/><circle cx="1131.0" cy="380.5" r="6"/><circle cx="1132.2" cy="368.6" r="6"/><circle cx="1133.3" cy="383.9" r="6"/><circle cx="1134.4" cy="392.4" r="6"/><circle cx="1135.6" cy="381.8" r="6"/><circle cx="1136.7" cy="378.2" r="6"/><circle cx="1137.8" cy="381.9" r="6"/><circle cx="1139.0" cy="384.6" r="6"/><circle cx="1140.1" cy="367.4" r="6"/><circle cx="1141.2" cy="382.4" r="6"/><circle cx="1142.4" cy="381.6" r="6"/><circle cx="1143.5" cy="367.0" r="6"/><circle cx="1144.6" cy="342.5" r="6"/><circle cx="1145.7" cy="370.2" r="6"/><circle cx="1146.9" cy="365.8" r="6"/><circle cx="1148.0" cy="370.0" r="6"/><circle cx="1149.1" cy="367.6" r="6"/><circle cx="1150.3" cy="373.6" r="6"/><circle cx="1151.4" cy="358.1" r="6"/><circle cx="1152.5" cy="365.8" r="6"/><circle cx="1153.7" cy="364.4" r="6"/><circle cx="1154.8" cy="348.7" r="6"/><circle cx="1155.9" cy="369.5" r="6"/><circle cx="1157.0" cy="339.2" r="6"/><circle cx="1158.2" cy="346.3" r="6"/><circle cx="1159.3" cy="355.3" r="6"/><circle cx="1160.4" cy="348.6" r="6"/><circle cx="1161.6" cy="354.6" r="6"/><circle cx="1162.7" cy="347.0" r="6"/><circle cx="1163.8" cy="352.5" r="6"/><circle cx="1165.0" cy="330.1" r="6"/><circle cx="1166.1" cy="340.0" r="6"/><circle cx="1167.2" cy="344.5" r="6"/><circle cx="1168.4" cy="367.7" r="6"/><circle cx="1169.5" cy="357.1" r="6"/><circle cx="1170.6" cy="340.1" r="6"/><circle cx="1171.7" cy="348.4" r="6"/><circle cx="1172.9" cy="352.8" r="6"/><circle cx="1174.0" cy="352.1" r="6"/><circle cx="1175.1" cy="341.4" r="6"/><circle cx="1177.4" cy="367.5" r="6"/><circle cx="1178.5" cy="355.0" r="6"/><circle cx="1179.7" cy="358.6" r="6"/><circle cx="1180.8" cy="329.8" r="6"/><circle cx="1181.9" cy="356.1" r="6"/><circle cx="1183.0" cy="343.7" r="6"/><circle cx="1184.2" cy="324.3" r="6"/><circle cx="1185.3" cy="338.9" r="6"/><circle cx="1186.4" cy="330.2" r="6"/><circle cx="1187.6" cy="333.6" r="6"/><circle cx="1188.7" cy="324.7" r="6"/><circle cx="1189.8" cy="306.3" r="6"/><circle cx="1191.0" cy="346.3" r="6"/><circle cx="1192.1" cy="335.8" r="6"/><circle cx="1193.2" cy="317.8" r="6"/><circle cx="1194.3" cy="353.2" r="6"/><circle cx="1195.5" cy="331.8" r="6"/><circle cx="1196.6" cy="312.6" r="6"/><circle cx="1197.7" cy="321.6" r="6"/><circle cx="1198.9" cy="323.2" r="6"/><circle cx="1200.0" cy="348.8" r="6"/><circle cx="1201.1" cy="353.3" r="6"/><circle cx="1202.3" cy="330.4" r="6"/><circle cx="1203.4" cy="337.9" r="6"/><circle cx="1204.5" cy="334.9" r="6"/><circle cx="1205.7" cy="347.6" r="6"/><circle cx="1206.8" cy="320.5" r="6"/><circle cx="1207.9" cy="336.7" r="6"/><circle cx="1209.0" cy="334.4" r="6"/><circle cx="1210.2" cy="330.9" r="6"/><circle cx="1211.3" cy="323.8" r="6"/><circle cx="1212.4" cy="317.7" r="6"/><circle cx="1213.6" cy="336.0" r="6"/><circle cx="1215.8" cy="337.2" r="6"/><circle cx="1217.0" cy="337.8" r="6"/><circle cx="1218.1" cy="333.4" r="6"/><circle cx="1219.2" cy="336.1" r="6"/><circle cx="1220.3" cy="313.6" r="6"/><circle cx="1221.5" cy="343.2" r="6"/><circle cx="1222.6" cy="325.1" r="6"/><circle cx="1223.7" cy="324.8" r="6"/><circle cx="1224.9" cy="327.9" r="6"/><circle cx="1226.0" cy="339.4" r="6"/><circle cx="1227.1" cy="323.8" r="6"/><circle cx="1228.3" cy="314.8" r="6"/><circle cx="1229.4" cy="324.3" r="6"/><circle cx="1230.5" cy="321.0" r="6"/><circle cx="1231.7" cy="347.2" r="6"/><circle cx="1232.8" cy="339.7" r="6"/><circle cx="1233.9" cy="332.3" r="6"/><circle cx="1235.0" cy="327.5" r="6"/><circle cx="1236.2" cy="324.7" r="6"/><circle cx="1237.3" cy="336.5" r="6"/><circle cx="1238.4" cy="326.8" r="6"/><circle cx="1239.6" cy="338.5" r="6"/><circle cx="1240.7" cy="318.7" r="6"/><circle cx="1241.8" cy="317.4" r="6"/><circle cx="1243.0" cy="328.2" r="6"/><circle cx="1244.1" cy="319.5" r="6"/><circle cx="1245.2" cy="331.7" r="6"/><circle cx="1246.3" cy="333.3" r="6"/><circle cx="1247.5" cy="332.7" r="6"/><circle cx="1248.6" cy="310.8" r="6"/><circle cx="1249.7" cy="342.9" r="6"/><circle cx="1250.9" cy="322.1" r="6"/><circle cx="1252.0" cy="327.7" r="6"/><circle cx="1254.3" cy="324.7" r="6"/><circle cx="1255.4" cy="342.3" r="6"/><circle cx="1256.5" cy="314.9" r="6"/><circle cx="1257.7" cy="318.4" r="6"/><circle cx="1258.8" cy="322.2" r="6"/><circle cx="1259.9" cy="327.4" r="6"/><circle cx="1261.0" cy="327.4" r="6"/><circle cx="1262.2" cy="313.2" r="6"/><circle cx="1263.3" cy="339.5" r="6"/><circle cx="1264.4" cy="306.6" r="6"/><circle cx="1265.6" cy="324.3" r="6"/><circle cx="1266.7" cy="314.4" r="6"/><circle cx="1267.8" cy="330.3" r="6"/><circle cx="1269.0" cy="302.7" r="6"/><circle cx="1270.1" cy="320.4" r="6"/><circle cx="1271.2" cy="305.3" r="6"/><circle cx="1272.3" cy="337.3" r="6"/><circle cx="1273.5" cy="336.2" r="6"/><circle cx="1274.6" cy="317.7" r="6"/><circle cx="1275.7" cy="322.4" r="6"/><circle cx="1276.9" cy="324.9" r="6"/><circle cx="1278.0" cy="318.8" r="6"/><circle cx="1279.1" cy="325.7" r="6"/><circle cx="1280.3" cy="332.6" r="6"/><circle cx="1281.4" cy="345.3" r="6"/><circle cx="1282.5" cy="329.0" r="6"/><circle cx="1283.6" cy="313.5" r="6"/><circle cx="1284.8" cy="318.0" r="6"/><circle cx="1285.9" cy="337.3" r="6"/><circle cx="1287.0" cy="324.5" r="6"/><circle cx="1288.2" cy="332.5" r="6"/><circle cx="1289.3" cy="330.7" r="6"/><circle cx="1290.4" cy="320.4" r="6"/><circle cx="1291.6" cy="354.2" r="6"/><circle cx="1292.7" cy="327.5" r="6"/><circle cx="1293.8" cy="325.1" r="6"/><circle cx="1295.0" cy="340.0" r="6"/><circle cx="1296.1" cy="330.5" r="6"/><circle cx="1297.2" cy="349.7" r="6"/><circle cx="1298.3" cy="331.7" r="6"/><circle cx="1299.5" cy="326.2" r="6"/><circle cx="1300.6" cy="328.8" r="6"/><circle cx="1301.7" cy="349.3" r="6"/><circle cx="1302.9" cy="329.9" r="6"/><circle cx="1304.0" cy="340.9" r="6"/><circle cx="1305.1" cy="334.7" r="6"/><circle cx="1306.3" cy="342.0" r="6"/><circle cx="1307.4" cy="330.4" r="6"/><circle cx="1308.5" cy="337.0" r="6"/><circle cx="1309.6" cy="359.6" r="6"/><circle cx="1310.8" cy="349.5" r="6"/><circle cx="1311.9" cy="329.2" r="6"/><circle cx="1313.0" cy="351.8" r="6"/><circle cx="1314.2" cy="369.4" r="6"/><circle cx="1315.3" cy="340.3" r="6"/><circle cx="1316.4" cy="334.5" r="6"/><circle cx="1317.6" cy="334.9" r="6"/><circle cx="1318.7" cy="327.8" r="6"/><circle cx="1319.8" cy="358.2" r="6"/><circle cx="1321.0" cy="343.3" r="6"/><circle cx="1322.1" cy="371.7" r="6"/><circle cx="1323.2" cy="322.4" r="6"/><circle cx="1324.3" cy="331.6" r="6"/><circle cx="1325.5" cy="367.0" r="6"/><circle cx="1326.6" cy="356.1" r="6"/><circle cx="1327.7" cy="364.6" r="6"/><circle cx="1328.9" cy="366.1" r="6"/><circle cx="1330.0" cy="364.2" r="6"/><circle cx="1331.1" cy="374.9" r="6"/><circle cx="1332.3" cy="360.1" r="6"/><circle cx="1333.4" cy="343.9" r="6"/><circle cx="1334.5" cy="354.9" r="6"/><circle cx="1335.6" cy="339.4" r="6"/><circle cx="1336.8" cy="357.0" r="6"/><circle cx="1337.9" cy="353.9" r="6"/><circle cx="1339.0" cy="375.7" r="6"/><circle cx="1340.2" cy="344.8" r="6"/><circle cx="1342.4" cy="378.8" r="6"/><circle cx="1343.6" cy="363.8" r="6"/><circle cx="1344.7" cy="376.2" r="6"/><circle cx="1345.8" cy="357.5" r="6"/><circle cx="1347.0" cy="376.0" r="6"/><circle cx="1348.1" cy="353.8" r="6"/><circle cx="1349.2" cy="338.5" r="6"/><circle cx="1350.3" cy="355.3" r="6"/><circle cx="1351.5" cy="367.2" r="6"/><circle cx="1352.6" cy="343.4" r="6"/><circle cx="1354.9" cy="355.6" r="6"/><circle cx="1356.0" cy="349.1" r="6"/><circle cx="1357.1" cy="358.7" r="6"/><circle cx="1358.3" cy="343.2" r="6"/><circle cx="1359.4" cy="347.4" r="6"/><circle cx="1360.5" cy="362.0" r="6"/><circle cx="1361.6" cy="378.7" r="6"/><circle cx="1362.8" cy="364.6" r="6"/><circle cx="1363.9" cy="355.5" r="6"/><circle cx="1365.0" cy="392.5" r="6"/><circle cx="1366.2" cy="356.3" r="6"/><circle cx="1367.3" cy="386.5" r="6"/><circle cx="1368.4" cy="344.5" r="6"/><circle cx="1369.6" cy="331.7" r="6"/><circle cx="1370.7" cy="346.8" r="6"/><circle cx="1371.8" cy="359.1" r="6"/><circle cx="1372.9" cy="339.1" r="6"/><circle cx="1374.1" cy="321.3" r="6"/><circle cx="1375.2" cy="317.1" r="6"/><circle cx="1376.3" cy="313.7" r="6"/><circle cx="1377.5" cy="323.4" r="6"/><circle cx="1379.7" cy="354.4" r="6"/><circle cx="1380.9" cy="347.3" r="6"/><circle cx="1382.0" cy="341.1" r="6"/><circle cx="1383.1" cy="348.4" r="6"/><circle cx="1384.3" cy="374.1" r="6"/><circle cx="1385.4" cy="344.3" r="6"/><circle cx="1386.5" cy="353.8" r="6"/><circle cx="1387.6" cy="347.0" r="6"/><circle cx="1388.8" cy="344.5" r="6"/><circle cx="1389.9" cy="368.6" r="6"/><circle cx="1391.0" cy="360.5" r="6"/><circle cx="1392.2" cy="344.4" r="6"/><circle cx="1393.3" cy="356.1" r="6"/><circle cx="1394.4" cy="345.8" r="6"/><circle cx="1395.6" cy="358.4" r="6"/><circle cx="1396.7" cy="364.6" r="6"/><circle cx="1397.8" cy="344.2" r="6"/><circle cx="1398.9" cy="351.8" r="6"/><circle cx="1400.1" cy="358.5" r="6"/><circle cx="1401.2" cy="328.2" r="6"/><circle cx="1402.3" cy="347.6" r="6"/><circle cx="1403.5" cy="341.8" r="6"/><circle cx="1405.7" cy="338.8" r="6"/><circle cx="1406.9" cy="360.1" r="6"/><circle cx="1408.0" cy="329.2" r="6"/><circle cx="1409.1" cy="324.0" r="6"/><circle cx="1410.3" cy="337.9" r="6"/><circle cx="1411.4" cy="325.3" r="6"/><circle cx="1412.5" cy="319.1" r="6"/><circle cx="1413.6" cy="340.9" r="6"/><circle cx="1414.8" cy="326.9" r="6"/><circle cx="1415.9" cy="312.5" r="6"/><circle cx="1417.0" cy="311.6" r="6"/><circle cx="1418.2" cy="322.4" r="6"/><circle cx="1419.3" cy="318.0" r="6"/><circle cx="1420.4" cy="337.0" r="6"/><circle cx="1421.6" cy="322.3" r="6"/><circle cx="1422.7" cy="324.6" r="6"/><circle cx="1423.8" cy="342.8" r="6"/><circle cx="1424.9" cy="320.5" r="6"/><circle cx="1426.1" cy="343.2" r="6"/><circle cx="1427.2" cy="333.1" r="6"/><circle cx="1428.3" cy="324.0" r="6"/><circle cx="1429.5" cy="332.1" r="6"/><circle cx="1430.6" cy="315.7" r="6"/><circle cx="1431.7" cy="333.8" r="6"/><circle cx="1432.9" cy="346.5" r="6"/><circle cx="1434.0" cy="323.8" r="6"/><circle cx="1435.1" cy="326.9" r="6"/><circle cx="1436.2" cy="336.8" r="6"/><circle cx="1437.4" cy="330.4" r="6"/><circle cx="1438.5" cy="314.5" r="6"/><circle cx="1439.6" cy="315.1" r="6"/><circle cx="1440.8" cy="336.1" r="6"/><circle cx="1441.9" cy="311.6" r="6"/><circle cx="1443.0" cy="313.8" r="6"/><circle cx="1444.2" cy="306.2" r="6"/><circle cx="1445.3" cy="316.4" r="6"/><circle cx="1446.4" cy="319.2" r="6"/><circle cx="1447.6" cy="313.2" r="6"/><circle cx="1448.7" cy="313.5" r="6"/><circle cx="1450.9" cy="303.4" r="6"/><circle cx="1452.1" cy="307.8" r="6"/><circle cx="1453.2" cy="304.3" r="6"/><circle cx="1454.3" cy="307.9" r="6"/><circle cx="1455.5" cy="302.4" r="6"/><circle cx="1456.6" cy="307.5" r="6"/><circle cx="1457.7" cy="315.4" r="6"/><circle cx="1458.9" cy="314.6" r="6"/><circle cx="1460.0" cy="293.4" r="6"/><circle cx="1461.1" cy="296.7" r="6"/><circle cx="1463.4" cy="297.8" r="6"/><circle cx="1464.5" cy="307.4" r="6"/><circle cx="1465.6" cy="291.9" r="6"/><circle cx="1466.8" cy="298.6" r="6"/><circle cx="1467.9" cy="289.5" r="6"/><circle cx="1469.0" cy="293.5" r="6"/><circle cx="1470.2" cy="294.4" r="6"/><circle cx="1471.3" cy="292.4" r="6"/><circle cx="1472.4" cy="301.5" r="6"/><circle cx="1473.6" cy="278.8" r="6"/><circle cx="1474.7" cy="278.1" r="6"/><circle cx="1475.8" cy="272.9" r="6"/><circle cx="1476.9" cy="293.7" r="6"/><circle cx="1478.1" cy="287.4" r="6"/><circle cx="1479.2" cy="287.4" r="6"/><circle cx="1481.5" cy="288.6" r="6"/><circle cx="1482.6" cy="271.7" r="6"/><circle cx="1483.7" cy="269.4" r="6"/><circle cx="1484.9" cy="260.1" r="6"/><circle cx="1486.0" cy="261.5" r="6"/><circle cx="1487.1" cy="268.1" r="6"/><circle cx="1488.2" cy="252.1" r="6"/><circle cx="1489.4" cy="265.4" r="6"/><circle cx="1490.5" cy="260.0" r="6"/><circle cx="1491.6" cy="271.0" r="6"/><circle cx="1492.8" cy="276.4" r="6"/><circle cx="1493.9" cy="266.0" r="6"/><circle cx="1495.0" cy="266.1" r="6"/><circle cx="1496.2" cy="263.3" r="6"/><circle cx="1497.3" cy="244.7" r="6"/><circle cx="1498.4" cy="265.1" r="6"/><circle cx="1499.6" cy="268.9" r="6"/><circle cx="1500.7" cy="258.9" r="6"/><circle cx="1501.8" cy="254.3" r="6"/><circle cx="1502.9" cy="258.6" r="6"/><circle cx="1504.1" cy="257.6" r="6"/><circle cx="1505.2" cy="266.0" r="6"/><circle cx="1506.3" cy="274.1" r="6"/><circle cx="1508.6" cy="263.2" r="6"/><circle cx="1509.7" cy="260.4" r="6"/><circle cx="1510.9" cy="239.1" r="6"/><circle cx="1512.0" cy="247.1" r="6"/><circle cx="1513.1" cy="234.4" r="6"/><circle cx="1514.2" cy="245.4" r="6"/><circle cx="1515.4" cy="250.6" r="6"/><circle cx="1516.5" cy="237.1" r="6"/><circle cx="1517.6" cy="240.1" r="6"/><circle cx="1518.8" cy="226.1" r="6"/><circle cx="1519.9" cy="255.3" r="6"/><circle cx="1521.0" cy="242.0" r="6"/><circle cx="1523.3" cy="233.1" r="6"/><circle cx="1524.4" cy="242.6" r="6"/><circle cx="1525.5" cy="232.6" r="6"/><circle cx="1526.7" cy="237.0" r="6"/><circle cx="1527.8" cy="221.9" r="6"/><circle cx="1528.9" cy="221.3" r="6"/><circle cx="1530.1" cy="249.5" r="6"/><circle cx="1531.2" cy="242.0" r="6"/><circle cx="1532.3" cy="231.9" r="6"/><circle cx="1533.5" cy="229.0" r="6"/><circle cx="1534.6" cy="228.3" r="6"/><circle cx="1535.7" cy="229.4" r="6"/><circle cx="1536.9" cy="217.9" r="6"/><circle cx="1538.0" cy="216.8" r="6"/><circle cx="1539.1" cy="220.3" r="6"/><circle cx="1540.2" cy="218.6" r="6"/><circle cx="1541.4" cy="215.7" r="6"/><circle cx="1542.5" cy="224.7" r="6"/><circle cx="1543.6" cy="207.1" r="6"/><circle cx="1544.8" cy="206.4" r="6"/><circle cx="1545.9" cy="221.2" r="6"/><circle cx="1547.0" cy="198.8" r="6"/><circle cx="1548.2" cy="212.7" r="6"/><circle cx="1549.3" cy="204.1" r="6"/><circle cx="1550.4" cy="212.3" r="6"/><circle cx="1551.5" cy="217.4" r="6"/><circle cx="1552.7" cy="204.9" r="6"/><circle cx="1553.8" cy="217.8" r="6"/><circle cx="1554.9" cy="210.4" r="6"/><circle cx="1556.1" cy="214.5" r="6"/><circle cx="1557.2" cy="199.5" r="6"/><circle cx="1558.3" cy="202.7" r="6"/><circle cx="1559.5" cy="201.4" r="6"/><circle cx="1560.6" cy="204.1" r="6"/><circle cx="1561.7" cy="196.5" r="6"/><circle cx="1562.9" cy="197.9" r="6"/><circle cx="1564.0" cy="201.0" r="6"/><circle cx="1565.1" cy="200.2" r="6"/><circle cx="1566.2" cy="184.0" r="6"/><circle cx="1567.4" cy="185.9" r="6"/><circle cx="1568.5" cy="207.1" r="6"/><circle cx="1569.6" cy="185.4" r="6"/><circle cx="1570.8" cy="190.4" r="6"/><circle cx="1571.9" cy="191.0" r="6"/><circle cx="1573.0" cy="194.8" r="6"/><circle cx="1574.2" cy="209.4" r="6"/><circle cx="1575.3" cy="194.1" r="6"/><circle cx="1576.4" cy="181.9" r="6"/><circle cx="1577.5" cy="196.7" r="6"/><circle cx="1578.7" cy="196.1" r="6"/><circle cx="1579.8" cy="195.8" r="6"/><circle cx="1580.9" cy="203.9" r="6"/><circle cx="1582.1" cy="190.6" r="6"/><circle cx="1583.2" cy="199.4" r="6"/><circle cx="1584.3" cy="205.7" r="6"/><circle cx="1585.5" cy="201.0" r="6"/><circle cx="1586.6" cy="199.6" r="6"/><circle cx="1587.7" cy="193.0" r="6"/><circle cx="1588.9" cy="187.6" r="6"/><circle cx="1590.0" cy="179.4" r="6"/><circle cx="1591.1" cy="184.5" r="6"/><circle cx="1592.2" cy="190.6" r="6"/><circle cx="1593.4" cy="164.0" r="6"/><circle cx="1594.5" cy="177.9" r="6"/><circle cx="1595.6" cy="162.2" r="6"/><circle cx="1596.8" cy="172.1" r="6"/><circle cx="1597.9" cy="171.0" r="6"/><circle cx="1599.0" cy="184.2" r="6"/><circle cx="1600.2" cy="176.9" r="6"/><circle cx="1601.3" cy="182.8" r="6"/><circle cx="1602.4" cy="180.2" r="6"/><circle cx="1603.5" cy="170.8" r="6"/><circle cx="1604.7" cy="177.0" r="6"/><circle cx="1605.8" cy="168.3" r="6"/><circle cx="1608.1" cy="182.9" r="6"/><circle cx="1609.2" cy="178.1" r="6"/><circle cx="1610.3" cy="169.6" r="6"/><circle cx="1611.5" cy="171.0" r="6"/><circle cx="1612.6" cy="163.1" r="6"/><circle cx="1613.7" cy="159.3" r="6"/><circle cx="1614.8" cy="168.9" r="6"/><circle cx="1616.0" cy="168.0" r="6"/><circle cx="1617.1" cy="174.5" r="6"/><circle cx="1618.2" cy="172.5" r="6"/><circle cx="1619.4" cy="176.2" r="6"/><circle cx="1620.5" cy="173.1" r="6"/><circle cx="1621.6" cy="174.4" r="6"/><circle cx="1622.8" cy="170.8" r="6"/><circle cx="1623.9" cy="164.5" r="6"/><circle cx="1625.0" cy="166.0" r="6"/><circle cx="1626.2" cy="160.3" r="6"/><circle cx="1627.3" cy="174.6" r="6"/><circle cx="1628.4" cy="173.5" r="6"/><circle cx="1629.5" cy="170.2" r="6"/><circle cx="1630.7" cy="183.5" r="6"/><circle cx="1631.8" cy="183.9" r="6"/><circle cx="1632.9" cy="174.8" r="6"/><circle cx="1634.1" cy="181.6" r="6"/><circle cx="1635.2" cy="171.4" r="6"/><circle cx="1636.3" cy="175.8" r="6"/><circle cx="1637.5" cy="175.1" r="6"/><circle cx="1638.6" cy="181.7" r="6"/><circle cx="1639.7" cy="165.0" r="6"/><circle cx="1640.8" cy="175.3" r="6"/><circle cx="1642.0" cy="183.1" r="6"/><circle cx="1643.1" cy="182.7" r="6"/><circle cx="1644.2" cy="182.5" r="6"/><circle cx="1645.4" cy="176.3" r="6"/><circle cx="1646.5" cy="163.8" r="6"/><circle cx="1647.6" cy="175.0" r="6"/><circle cx="1649.9" cy="167.1" r="6"/><circle cx="1651.0" cy="169.7" r="6"/><circle cx="1652.2" cy="173.5" r="6"/><circle cx="1653.3" cy="180.7" r="6"/><circle cx="1654.4" cy="169.3" r="6"/><circle cx="1655.5" cy="188.2" r="6"/><circle cx="1656.7" cy="161.8" r="6"/><circle cx="1657.8" cy="173.6" r="6"/><circle cx="1658.9" cy="188.9" r="6"/><circle cx="1660.1" cy="160.9" r="6"/><circle cx="1661.2" cy="177.6" r="6"/><circle cx="1662.3" cy="166.7" r="6"/><circle cx="1663.5" cy="178.4" r="6"/><circle cx="1664.6" cy="180.5" r="6"/><circle cx="1665.7" cy="163.4" r="6"/><circle cx="1666.8" cy="160.4" r="6"/><circle cx="1668.0" cy="164.4" r="6"/><circle cx="1669.1" cy="182.8" r="6"/><circle cx="1670.2" cy="169.3" r="6"/><circle cx="1671.4" cy="182.9" r="6"/><circle cx="1672.5" cy="174.5" r="6"/><circle cx="1673.6" cy="161.4" r="6"/><circle cx="1674.8" cy="184.6" r="6"/><circle cx="1675.9" cy="184.1" r="6"/><circle cx="1677.0" cy="186.7" r="6"/><circle cx="1678.2" cy="185.4" r="6"/><circle cx="1679.3" cy="169.9" r="6"/><circle cx="1680.4" cy="178.9" r="6"/><circle cx="1681.5" cy="175.0" r="6"/><circle cx="1682.7" cy="182.4" r="6"/><circle cx="1683.8" cy="166.3" r="6"/><circle cx="1686.1" cy="172.4" r="6"/><circle cx="1687.2" cy="176.5" r="6"/><circle cx="1688.3" cy="181.2" r="6"/><circle cx="1689.5" cy="186.8" r="6"/><circle cx="1690.6" cy="173.2" r="6"/><circle cx="1691.7" cy="172.7" r="6"/><circle cx="1692.8" cy="172.5" r="6"/><circle cx="1694.0" cy="170.0" r="6"/><circle cx="1696.2" cy="171.7" r="6"/><circle cx="1697.4" cy="179.7" r="6"/><circle cx="1698.5" cy="173.3" r="6"/><circle cx="1699.6" cy="172.0" r="6"/><circle cx="1700.8" cy="163.7" r="6"/><circle cx="1701.9" cy="175.7" r="6"/><circle cx="1703.0" cy="164.5" r="6"/><circle cx="1704.1" cy="167.0" r="6"/><circle cx="1705.3" cy="188.0" r="6"/><circle cx="1706.4" cy="174.5" r="6"/><circle cx="1707.5" cy="177.2" r="6"/><circle cx="1708.7" cy="160.0" r="6"/><circle cx="1709.8" cy="161.8" r="6"/><circle cx="1710.9" cy="167.9" r="6"/><circle cx="1712.1" cy="169.7" r="6"/><circle cx="1713.2" cy="169.0" r="6"/><circle cx="1714.3" cy="184.1" r="6"/><circle cx="1715.5" cy="181.2" r="6"/><circle cx="1716.6" cy="180.3" r="6"/><circle cx="1717.7" cy="177.9" r="6"/><circle cx="1718.8" cy="179.0" r="6"/><circle cx="1720.0" cy="175.4" r="6"/><circle cx="1721.1" cy="187.6" r="6"/><circle cx="1722.2" cy="183.3" r="6"/><circle cx="1723.4" cy="170.1" r="6"/><circle cx="1724.5" cy="163.7" r="6"/><circle cx="1725.6" cy="159.8" r="6"/><circle cx="1726.8" cy="187.6" r="6"/><circle cx="1727.9" cy="176.2" r="6"/><circle cx="1729.0" cy="188.3" r="6"/><circle cx="1730.1" cy="184.0" r="6"/><circle cx="1731.3" cy="185.1" r="6"/><circle cx="1732.4" cy="180.0" r="6"/><circle cx="1733.5" cy="181.2" r="6"/><circle cx="1734.7" cy="179.0" r="6"/><circle cx="1735.8" cy="187.7" r="6"/><circle cx="1736.9" cy="177.3" r="6"/><circle cx="1738.1" cy="184.3" r="6"/><circle cx="1739.2" cy="199.2" r="6"/><circle cx="1740.3" cy="194.4" r="6"/><circle cx="1741.5" cy="189.3" r="6"/><circle cx="1742.6" cy="174.3" r="6"/><circle cx="1743.7" cy="167.7" r="6"/><circle cx="1744.8" cy="186.8" r="6"/><circle cx="1747.1" cy="175.1" r="6"/><circle cx="1748.2" cy="179.3" r="6"/><circle cx="1749.4" cy="172.9" r="6"/><circle cx="1750.5" cy="179.6" r="6"/><circle cx="1751.6" cy="187.5" r="6"/><circle cx="1752.8" cy="185.6" r="6"/><circle cx="1753.9" cy="187.3" r="6"/><circle cx="1755.0" cy="171.9" r="6"/><circle cx="1756.1" cy="186.7" r="6"/><circle cx="1757.3" cy="174.7" r="6"/><circle cx="1758.4" cy="186.7" r="6"/><circle cx="1759.5" cy="181.8" r="6"/><circle cx="1760.7" cy="175.7" r="6"/><circle cx="1761.8" cy="182.0" r="6"/><circle cx="1762.9" cy="164.3" r="6"/><circle cx="1764.1" cy="169.7" r="6"/><circle cx="1765.2" cy="185.3" r="6"/><circle cx="1767.5" cy="170.5" r="6"/><circle cx="1768.6" cy="164.2" r="6"/><circle cx="1769.7" cy="182.5" r="6"/><circle cx="1770.8" cy="176.8" r="6"/><circle cx="1773.1" cy="162.5" r="6"/><circle cx="1774.2" cy="178.5" r="6"/><circle cx="1775.4" cy="167.0" r="6"/><circle cx="1776.5" cy="174.0" r="6"/><circle cx="1777.6" cy="174.7" r="6"/><circle cx="1778.8" cy="181.4" r="6"/><circle cx="1779.9" cy="179.4" r="6"/><circle cx="1782.1" cy="183.1" r="6"/><circle cx="1783.3" cy="169.0" r="6"/><circle cx="1784.4" cy="177.7" r="6"/><circle cx="1785.5" cy="178.9" r="6"/><circle cx="1786.7" cy="179.9" r="6"/><circle cx="1787.8" cy="174.7" r="6"/><circle cx="1788.9" cy="192.0" r="6"/><circle cx="1790.1" cy="182.7" r="6"/><circle cx="1791.2" cy="179.6" r="6"/><circle cx="1792.3" cy="179.1" r="6"/><circle cx="1793.4" cy="187.7" r="6"/><circle cx="1794.6" cy="172.1" r="6"/><circle cx="1795.7" cy="179.2" r="6"/><circle cx="1796.8" cy="166.5" r="6"/><circle cx="1798.0" cy="177.5" r="6"/><circle cx="1799.1" cy="181.6" r="6"/><circle cx="1800.2" cy="178.2" r="6"/><circle cx="1801.4" cy="180.8" r="6"/><circle cx="1802.5" cy="186.0" r="6"/><circle cx="1803.6" cy="181.5" r="6"/><circle cx="1804.8" cy="171.1" r="6"/><circle cx="1805.9" cy="184.5" r="6"/><circle cx="1807.0" cy="171.1" r="6"/><circle cx="1808.1" cy="182.3" r="6"/><circle cx="1809.3" cy="178.2" r="6"/><circle cx="1811.5" cy="190.1" r="6"/><circle cx="1812.7" cy="193.3" r="6"/><circle cx="1813.8" cy="186.0" r="6"/><circle cx="1814.9" cy="195.5" r="6"/><circle cx="1817.2" cy="195.2" r="6"/><circle cx="1818.3" cy="180.6" r="6"/><circle cx="1819.4" cy="180.7" r="6"/><circle cx="1820.6" cy="186.1" r="6"/><circle cx="1821.7" cy="161.5" r="6"/><circle cx="1822.8" cy="173.8" r="6"/><circle cx="1824.0" cy="184.1" r="6"/><circle cx="1825.1" cy="175.8" r="6"/><circle cx="1826.2" cy="173.7" r="6"/><circle cx="1827.4" cy="184.6" r="6"/><circle cx="1828.5" cy="180.0" r="6"/><circle cx="1829.6" cy="188.7" r="6"/><circle cx="1830.8" cy="174.1" r="6"/><circle cx="1831.9" cy="159.8" r="6"/><circle cx="1834.1" cy="164.8" r="6"/><circle cx="1835.3" cy="167.7" r="6"/><circle cx="1836.4" cy="179.0" r="6"/><circle cx="1837.5" cy="181.3" r="6"/><circle cx="1838.7" cy="163.8" r="6"/><circle cx="1839.8" cy="169.0" r="6"/><circle cx="1840.9" cy="172.2" r="6"/><circle cx="1842.1" cy="173.6" r="6"/><circle cx="1843.2" cy="160.6" r="6"/><circle cx="1844.3" cy="162.4" r="6"/><circle cx="1845.4" cy="168.2" r="6"/><circle cx="1846.6" cy="166.1" r="6"/><circle cx="1847.7" cy="176.8" r="6"/><circle cx="1850.0" cy="171.9" r="6"/><circle cx="1851.1" cy="157.8" r="6"/><circle cx="1852.2" cy="161.0" r="6"/><circle cx="519.5" cy="630.5" r="6"/><circle cx="488.2" cy="635.5" r="6"/><circle cx="494.9" cy="699.4" r="6"/><circle cx="494.4" cy="686.9" r="6"/><circle cx="470.6" cy="639.7" r="6"/><circle cx="461.9" cy="639.7" r="6"/><circle cx="273.4" cy="705.2" r="6"/><circle cx="271.4" cy="715.7" r="6"/><circle cx="701.0" cy="517.5" r="6"/><circle cx="782.2" cy="544.4" r="6"/><circle cx="729.1" cy="560.2" r="6"/><circle cx="680.2" cy="597.5" r="6"/><circle cx="881.2" cy="530.1" r="6"/><circle cx="900.8" cy="532.1" r="6"/><circle cx="851.9" cy="520.1" r="6"/><circle cx="945.9" cy="549.9" r="6"/><circle cx="960.9" cy="544.4" r="6"/><circle cx="973.4" cy="543.1" r="6"/><circle cx="877.4" cy="472.4" r="6"/><circle cx="888.2" cy="472.4" r="6"/><circle cx="844.4" cy="476.7" r="6"/><circle cx="764.9" cy="492.5" r="6"/><circle cx="653.4" cy="574.9" r="6"/><circle cx="662.7" cy="617.0" r="6"/><circle cx="1265.7" cy="273.1" r="6"/><circle cx="1071.7" cy="418.9" r="6"/><circle cx="1111.4" cy="427.7" r="6"/><circle cx="1173.4" cy="375.9" r="6"/><circle cx="1301.8" cy="375.0" r="6"/><circle cx="1328.0" cy="370.8" r="6"/><circle cx="1331.3" cy="400.6" r="6"/><circle cx="1353.8" cy="400.0" r="6"/><circle cx="1334.9" cy="382.0" r="6"/><circle cx="1345.4" cy="383.5" r="6"/><circle cx="1360.5" cy="388.9" r="6"/><circle cx="1367.4" cy="314.3" r="6"/><circle cx="1350.8" cy="316.7" r="6"/><circle cx="1100.3" cy="388.9" r="6"/><circle cx="1441.1" cy="290.2" r="6"/><circle cx="1787.5" cy="131.5" r="6"/><circle cx="1846.7" cy="142.2" r="6"/><circle cx="1846.7" cy="153.0" r="6"/><circle cx="1522.2" cy="210.7" r="6"/><circle cx="1727.0" cy="207.6" r="6"/><circle cx="1454.7" cy="327.4" r="6"/><circle cx="1644.7" cy="158.2" r="6"/><circle cx="1509.0" cy="281.0" r="6"/><circle cx="1487.5" cy="246.6" r="6"/>
</g>
<path d="M258.1 749.2 L261.3 745.5 L264.5 741.7 L267.6 738.0 L270.8 734.4 L274.0 730.8 L277.2 727.2 L280.4 723.7 L283.6 720.2 L286.8 716.8 L290.0 713.5 L293.2 710.3 L296.4 707.2 L299.6 704.2 L302.8 701.2 L306.0 698.4 L309.2 695.7 L312.4 693.1 L315.5 690.6 L318.7 688.2 L321.9 685.9 L325.1 683.8 L328.3 681.7 L331.5 679.8 L334.7 677.9 L337.9 676.2 L341.1 674.6 L344.3 673.1 L347.5 671.7 L350.7 670.4 L353.9 669.2 L357.1 668.1 L360.3 667.0 L363.4 666.1 L366.6 665.2 L369.8 664.4 L373.0 663.6 L376.2 663.0 L379.4 662.4 L382.6 661.8 L385.8 661.3 L389.0 660.8 L392.2 660.4 L395.4 660.1 L398.6 659.7 L401.8 659.5 L405.0 659.2 L408.2 659.0 L411.3 658.8 L414.5 658.6 L417.7 658.4 L420.9 658.3 L424.1 658.2 L427.3 658.2 L430.5 658.1 L433.7 658.1 L436.9 658.1 L440.1 658.1 L443.3 658.2 L446.5 658.2 L449.7 658.3 L452.9 658.4 L456.1 658.6 L459.2 658.8 L462.4 659.0 L465.6 659.2 L468.8 659.4 L472.0 659.7 L475.2 660.0 L478.4 660.4 L481.6 660.7 L484.8 661.1 L488.0 661.5 L491.2 662.0 L494.4 662.4 L497.6 662.9 L500.8 663.3 L504.0 663.8 L507.1 664.3 L510.3 664.8 L513.5 665.3 L516.7 665.8 L519.9 666.3 L523.1 666.8 L526.3 667.2 L529.5 667.6 L532.7 668.0 L535.9 668.3 L539.1 668.6 L542.3 668.8 L545.5 669.0 L548.7 669.1 L551.9 669.1 L555.0 669.1 L558.2 668.9 L561.4 668.7 L564.6 668.4 L567.8 667.9 L571.0 667.3 L574.2 666.7 L577.4 665.9 L580.6 664.9 L583.8 663.9 L587.0 662.7 L590.2 661.4 L593.4 659.9 L596.6 658.3 L599.8 656.5 L602.9 654.7 L606.1 652.6 L609.3 650.5 L612.5 648.2 L615.7 645.7 L618.9 643.2 L622.1 640.5 L625.3 637.7 L628.5 634.7 L631.7 631.7 L634.9 628.5 L638.1 625.3 L641.3 622.0 L644.5 618.6 L647.7 615.1 L650.8 611.5 L654.0 607.9 L657.2 604.3 L660.4 600.6 L663.6 596.9 L666.8 593.2 L670.0 589.4 L673.2 585.7 L676.4 582.0 L679.6 578.3 L682.8 574.6 L686.0 571.0 L689.2 567.4 L692.4 563.8 L695.6 560.4 L698.7 557.0 L701.9 553.7 L705.1 550.4 L708.3 547.3 L711.5 544.2 L714.7 541.2 L717.9 538.4 L721.1 535.6 L724.3 533.0 L727.5 530.5 L730.7 528.0 L733.9 525.7 L737.1 523.5 L740.3 521.5 L743.5 519.5 L746.6 517.6 L749.8 515.9 L753.0 514.2 L756.2 512.7 L759.4 511.3 L762.6 509.9 L765.8 508.7 L769.0 507.5 L772.2 506.5 L775.4 505.5 L778.6 504.6 L781.8 503.8 L785.0 503.0 L788.2 502.3 L791.4 501.7 L794.5 501.1 L797.7 500.6 L800.9 500.1 L804.1 499.7 L807.3 499.3 L810.5 499.0 L813.7 498.7 L816.9 498.4 L820.1 498.2 L823.3 498.0 L826.5 497.8 L829.7 497.6 L832.9 497.5 L836.1 497.4 L839.3 497.3 L842.4 497.3 L845.6 497.2 L848.8 497.2 L852.0 497.3 L855.2 497.3 L858.4 497.4 L861.6 497.4 L864.8 497.6 L868.0 497.7 L871.2 497.9 L874.4 498.1 L877.6 498.3 L880.8 498.5 L884.0 498.8 L887.2 499.1 L890.3 499.4 L893.5 499.8 L896.7 500.2 L899.9 500.6 L903.1 501.0 L906.3 501.4 L909.5 501.9 L912.7 502.4 L915.9 502.9 L919.1 503.3 L922.3 503.8 L925.5 504.3 L928.7 504.8 L931.9 505.3 L935.1 505.8 L938.2 506.2 L941.4 506.7 L944.6 507.0 L947.8 507.4 L951.0 507.7 L954.2 507.9 L957.4 508.1 L960.6 508.3 L963.8 508.3 L967.0 508.3 L970.2 508.1 L973.4 507.9 L976.6 507.6 L979.8 507.2 L983.0 506.7 L986.1 506.0 L989.3 505.3 L992.5 504.4 L995.7 503.4 L998.9 502.2 L1002.1 500.9 L1005.3 499.5 L1008.5 497.9 L1011.7 496.2 L1014.9 494.4 L1018.1 492.4 L1021.3 490.3 L1024.5 488.0 L1027.7 485.6 L1030.9 483.1 L1034.0 480.4 L1037.2 477.6 L1040.4 474.8 L1043.6 471.7 L1046.8 468.6 L1050.0 465.4 L1053.2 462.1 L1056.4 458.7 L1059.6 455.3 L1062.8 451.7 L1066.0 448.2 L1069.2 444.5 L1072.4 440.8 L1075.6 437.1 L1078.8 433.4 L1081.9 429.7 L1085.1 425.9 L1088.3 422.2 L1091.5 418.5 L1094.7 414.8 L1097.9 411.2 L1101.1 407.6 L1104.3 404.0 L1107.5 400.5 L1110.7 397.1 L1113.9 393.8 L1117.1 390.5 L1120.3 387.3 L1123.5 384.2 L1126.7 381.2 L1129.8 378.4 L1133.0 375.6 L1136.2 372.9 L1139.4 370.3 L1142.6 367.9 L1145.8 365.5 L1149.0 363.3 L1152.2 361.2 L1155.4 359.2 L1158.6 357.3 L1161.8 355.5 L1165.0 353.9 L1168.2 352.3 L1171.4 350.8 L1174.6 349.5 L1177.7 348.2 L1180.9 347.0 L1184.1 345.9 L1187.3 344.9 L1190.5 344.0 L1193.7 343.2 L1196.9 342.4 L1200.1 341.7 L1203.3 341.0 L1206.5 340.4 L1209.7 339.9 L1212.9 339.4 L1216.1 339.0 L1219.3 338.6 L1222.5 338.2 L1225.6 337.9 L1228.8 337.7 L1232.0 337.4 L1235.2 337.2 L1238.4 337.0 L1241.6 336.8 L1244.8 336.7 L1248.0 336.6 L1251.2 336.5 L1254.4 336.4 L1257.6 336.4 L1260.8 336.4 L1264.0 336.4 L1267.2 336.4 L1270.4 336.5 L1273.5 336.6 L1276.7 336.7 L1279.9 336.8 L1283.1 337.0 L1286.3 337.1 L1289.5 337.4 L1292.7 337.6 L1295.9 337.9 L1299.1 338.2 L1302.3 338.5 L1305.5 338.8 L1308.7 339.2 L1311.9 339.6 L1315.1 340.0 L1318.3 340.5 L1321.4 340.9 L1324.6 341.4 L1327.8 341.9 L1331.0 342.4 L1334.2 342.9 L1337.4 343.4 L1340.6 343.9 L1343.8 344.3 L1347.0 344.8 L1350.2 345.3 L1353.4 345.7 L1356.6 346.1 L1359.8 346.5 L1363.0 346.8 L1366.2 347.0 L1369.3 347.2 L1372.5 347.4 L1375.7 347.5 L1378.9 347.4 L1382.1 347.3 L1385.3 347.2 L1388.5 346.9 L1391.7 346.5 L1394.9 346.0 L1398.1 345.4 L1401.3 344.7 L1404.5 343.8 L1407.7 342.8 L1410.9 341.7 L1414.1 340.5 L1417.2 339.1 L1420.4 337.6 L1423.6 335.9 L1426.8 334.1 L1430.0 332.1 L1433.2 330.1 L1436.4 327.8 L1439.6 325.5 L1442.8 323.0 L1446.0 320.4 L1449.2 317.6 L1452.4 314.8 L1455.6 311.8 L1458.8 308.7 L1462.0 305.5 L1465.1 302.2 L1468.3 298.9 L1471.5 295.4 L1474.7 291.9 L1477.9 288.4 L1481.1 284.7 L1484.3 281.1 L1487.5 277.4 L1490.7 273.7 L1493.9 269.9 L1497.1 266.2 L1500.3 262.5 L1503.5 258.7 L1506.7 255.0 L1509.9 251.4 L1513.0 247.8 L1516.2 244.2 L1519.4 240.7 L1522.6 237.3 L1525.8 233.9 L1529.0 230.6 L1532.2 227.4 L1535.4 224.3 L1538.6 221.3 L1541.8 218.3 L1545.0 215.5 L1548.2 212.8 L1551.4 210.2 L1554.6 207.7 L1557.8 205.4 L1560.9 203.1 L1564.1 201.0 L1567.3 198.9 L1570.5 197.0 L1573.7 195.2 L1576.9 193.5 L1580.1 191.9 L1583.3 190.4 L1586.5 189.0 L1589.7 187.7 L1592.9 186.5 L1596.1 185.4 L1599.3 184.4 L1602.5 183.4 L1605.7 182.6 L1608.8 181.8 L1612.0 181.0 L1615.2 180.4 L1618.4 179.8 L1621.6 179.2 L1624.8 178.7 L1628.0 178.3 L1631.2 177.9 L1634.4 177.5 L1637.6 177.2 L1640.8 176.9 L1644.0 176.6 L1647.2 176.4 L1650.4 176.2 L1653.6 176.0 L1656.7 175.9 L1659.9 175.8 L1663.1 175.7 L1666.3 175.6 L1669.5 175.6 L1672.7 175.6 L1675.9 175.6 L1679.1 175.6 L1682.3 175.6 L1685.5 175.7 L1688.7 175.8 L1691.9 175.9 L1695.1 176.1 L1698.3 176.2 L1701.5 176.5 L1704.6 176.7 L1707.8 176.9 L1711.0 177.2 L1714.2 177.5 L1717.4 177.9 L1720.6 178.2 L1723.8 178.6 L1727.0 179.0 L1730.2 179.5 L1733.4 179.9 L1736.6 180.4 L1739.8 180.9 L1743.0 181.4 L1746.2 181.9 L1749.4 182.4 L1752.5 182.9 L1755.7 183.4 L1758.9 183.8 L1762.1 184.3 L1765.3 184.7 L1768.5 185.1 L1771.7 185.5 L1774.9 185.8 L1778.1 186.1 L1781.3 186.3 L1784.5 186.5 L1787.7 186.6 L1790.9 186.6 L1794.1 186.5 L1797.3 186.4 L1800.4 186.1 L1803.6 185.8 L1806.8 185.3 L1810.0 184.7 L1813.2 184.0 L1816.4 183.2 L1819.6 182.3 L1822.8 181.2 L1826.0 180.0 L1829.2 178.7 L1832.4 177.2 L1835.6 175.5 L1838.8 173.8 L1842.0 171.9 L1845.2 169.8 L1848.3 167.6 L1851.5 165.3" fill="none" stroke="#f00" stroke-width="6.3" stroke-linejoin="round"/>
<path d="M292.7 119.0 V109.2 M292.7 757.0 V766.8 M396.0 119.0 V109.2 M396.0 757.0 V766.8 M499.2 119.0 V109.2 M499.2 757.0 V766.8 M602.4 119.0 V100.0 M602.4 757.0 V776.0 M705.6 119.0 V109.2 M705.6 757.0 V766.8 M808.8 119.0 V109.2 M808.8 757.0 V766.8 M912.1 119.0 V109.2 M912.1 757.0 V766.8 M1015.3 119.0 V100.0 M1015.3 757.0 V776.0 M1118.5 119.0 V109.2 M1118.5 757.0 V766.8 M1221.7 119.0 V109.2 M1221.7 757.0 V766.8 M1324.9 119.0 V109.2 M1324.9 757.0 V766.8 M1428.1 119.0 V100.0 M1428.1 757.0 V776.0 M1531.4 119.0 V109.2 M1531.4 757.0 V766.8 M1634.6 119.0 V109.2 M1634.6 757.0 V766.8 M1737.8 119.0 V109.2 M1737.8 757.0 V766.8 M1841.0 119.0 V100.0 M1841.0 757.0 V776.0 M226.0 286.5 H207.0 M1884.0 286.5 H1903.0 M226.0 456.0 H207.0 M1884.0 456.0 H1903.0 M226.0 625.5 H207.0 M1884.0 625.5 H1903.0" stroke="#000" stroke-width="2.5" fill="none"/>
<rect x="226.0" y="119.0" width="1658.0" height="638.0" fill="none" stroke="#000" stroke-width="6"/>
<text transform="translate(190.8 302.1) scale(1 1.035)" font-size="42.7" font-weight="bold" text-anchor="end">20</text>
<text transform="translate(190.8 471.6) scale(1 1.035)" font-size="42.7" font-weight="bold" text-anchor="end">0</text>
<text transform="translate(190.8 641.1) scale(1 1.035)" font-size="42.7" font-weight="bold" text-anchor="end">−20</text>
<text transform="translate(602.4 823.3) scale(1 1.035)" font-size="42.7" font-weight="bold" text-anchor="middle">2023</text>
<text transform="translate(1015.3 823.3) scale(1 1.035)" font-size="42.7" font-weight="bold" text-anchor="middle">2024</text>
<text transform="translate(1428.1 823.3) scale(1 1.035)" font-size="42.7" font-weight="bold" text-anchor="middle">2025</text>
<text transform="translate(1841.0 823.3) scale(1 1.035)" font-size="42.7" font-weight="bold" text-anchor="middle">2026</text>
<text transform="translate(90.0 437.5) rotate(-90) scale(1 1.035)" font-size="42.7" text-anchor="middle">East (mm)</text>
<text transform="translate(1816.8 738.0) scale(1 1.035)" font-size="35.5" font-weight="bold" text-anchor="end">18.926+/- 0.350 mm/yr</text>
<g fill="#00f" id="dots1">
<circle cx="258.8" cy="1555.1" r="6"/><circle cx="259.9" cy="1558.6" r="6"/><circle cx="261.0" cy="1548.8" r="6"/><circle cx="262.2" cy="1550.7" r="6"/><circle cx="263.3" cy="1556.8" r="6"/><circle cx="264.4" cy="1564.4" r="6"/><circle cx="265.6" cy="1563.8" r="6"/><circle cx="266.7" cy="1551.3" r="6"/><circle cx="267.8" cy="1561.8" r="6"/><circle cx="268.9" cy="1558.0" r="6"/><circle cx="270.1" cy="1564.6" r="6"/><circle cx="271.2" cy="1561.8" r="6"/><circle cx="272.3" cy="1554.9" r="6"/><circle cx="273.5" cy="1562.5" r="6"/><circle cx="333.0" cy="1555.0" r="6"/><circle cx="334.1" cy="1548.2" r="6"/><circle cx="335.3" cy="1548.2" r="6"/><circle cx="336.4" cy="1559.2" r="6"/><circle cx="337.5" cy="1535.1" r="6"/><circle cx="338.7" cy="1557.8" r="6"/><circle cx="339.8" cy="1540.7" r="6"/><circle cx="340.9" cy="1558.5" r="6"/><circle cx="342.0" cy="1536.7" r="6"/><circle cx="343.2" cy="1554.9" r="6"/><circle cx="344.3" cy="1534.9" r="6"/><circle cx="345.4" cy="1540.7" r="6"/><circle cx="346.6" cy="1534.5" r="6"/><circle cx="347.7" cy="1546.8" r="6"/><circle cx="348.8" cy="1540.3" r="6"/><circle cx="350.0" cy="1537.2" r="6"/><circle cx="351.1" cy="1538.3" r="6"/><circle cx="352.2" cy="1545.7" r="6"/><circle cx="353.3" cy="1529.0" r="6"/><circle cx="354.5" cy="1550.1" r="6"/><circle cx="355.6" cy="1545.2" r="6"/><circle cx="356.7" cy="1544.4" r="6"/><circle cx="357.9" cy="1520.4" r="6"/><circle cx="359.0" cy="1537.3" r="6"/><circle cx="360.1" cy="1537.7" r="6"/><circle cx="361.3" cy="1537.0" r="6"/><circle cx="362.4" cy="1532.3" r="6"/><circle cx="363.5" cy="1533.0" r="6"/><circle cx="364.7" cy="1533.6" r="6"/><circle cx="365.8" cy="1539.2" r="6"/><circle cx="366.9" cy="1524.5" r="6"/><circle cx="368.0" cy="1526.0" r="6"/><circle cx="369.2" cy="1513.6" r="6"/><circle cx="370.3" cy="1522.0" r="6"/><circle cx="372.6" cy="1522.3" r="6"/><circle cx="373.7" cy="1529.8" r="6"/><circle cx="374.8" cy="1521.5" r="6"/><circle cx="376.0" cy="1517.5" r="6"/><circle cx="377.1" cy="1506.5" r="6"/><circle cx="378.2" cy="1514.0" r="6"/><circle cx="379.3" cy="1514.0" r="6"/><circle cx="380.5" cy="1513.6" r="6"/><circle cx="381.6" cy="1502.1" r="6"/><circle cx="382.7" cy="1503.5" r="6"/><circle cx="383.9" cy="1509.9" r="6"/><circle cx="385.0" cy="1521.3" r="6"/><circle cx="386.1" cy="1498.2" r="6"/><circle cx="387.3" cy="1511.8" r="6"/><circle cx="388.4" cy="1517.7" r="6"/><circle cx="389.5" cy="1517.3" r="6"/><circle cx="390.7" cy="1520.2" r="6"/><circle cx="391.8" cy="1507.1" r="6"/><circle cx="392.9" cy="1508.9" r="6"/><circle cx="394.0" cy="1509.3" r="6"/><circle cx="395.2" cy="1497.0" r="6"/><circle cx="396.3" cy="1509.5" r="6"/><circle cx="397.4" cy="1503.4" r="6"/><circle cx="398.6" cy="1510.3" r="6"/><circle cx="399.7" cy="1514.3" r="6"/><circle cx="400.8" cy="1503.7" r="6"/><circle cx="402.0" cy="1512.3" r="6"/><circle cx="403.1" cy="1500.9" r="6"/><circle cx="404.2" cy="1509.8" r="6"/><circle cx="405.3" cy="1503.9" r="6"/><circle cx="406.5" cy="1506.8" r="6"/><circle cx="407.6" cy="1489.6" r="6"/><circle cx="408.7" cy="1491.9" r="6"/><circle cx="409.9" cy="1508.7" r="6"/><circle cx="411.0" cy="1507.9" r="6"/><circle cx="412.1" cy="1493.3" r="6"/><circle cx="413.3" cy="1500.7" r="6"/><circle cx="414.4" cy="1500.9" r="6"/><circle cx="415.5" cy="1489.9" r="6"/><circle cx="416.7" cy="1497.2" r="6"/><circle cx="417.8" cy="1503.7" r="6"/><circle cx="420.0" cy="1504.6" r="6"/><circle cx="421.2" cy="1504.4" r="6"/><circle cx="422.3" cy="1517.1" r="6"/><circle cx="423.4" cy="1502.2" r="6"/><circle cx="424.6" cy="1503.8" r="6"/><circle cx="425.7" cy="1489.8" r="6"/><circle cx="426.8" cy="1500.5" r="6"/><circle cx="428.0" cy="1512.6" r="6"/><circle cx="429.1" cy="1505.1" r="6"/><circle cx="430.2" cy="1515.9" r="6"/><circle cx="431.3" cy="1507.6" r="6"/><circle cx="432.5" cy="1504.4" r="6"/><circle cx="433.6" cy="1514.4" r="6"/><circle cx="434.7" cy="1519.2" r="6"/><circle cx="435.9" cy="1512.9" r="6"/><circle cx="437.0" cy="1514.2" r="6"/><circle cx="438.1" cy="1507.1" r="6"/><circle cx="439.3" cy="1515.4" r="6"/><circle cx="440.4" cy="1511.0" r="6"/><circle cx="441.5" cy="1519.4" r="6"/><circle cx="442.6" cy="1508.3" r="6"/><circle cx="443.8" cy="1515.0" r="6"/><circle cx="444.9" cy="1509.3" r="6"/><circle cx="447.2" cy="1509.2" r="6"/><circle cx="448.3" cy="1499.3" r="6"/><circle cx="449.4" cy="1505.7" r="6"/><circle cx="450.6" cy="1509.5" r="6"/><circle cx="451.7" cy="1514.8" r="6"/><circle cx="452.8" cy="1504.9" r="6"/><circle cx="454.0" cy="1502.0" r="6"/><circle cx="455.1" cy="1492.1" r="6"/><circle cx="456.2" cy="1508.6" r="6"/><circle cx="458.5" cy="1514.5" r="6"/><circle cx="459.6" cy="1517.3" r="6"/><circle cx="460.7" cy="1511.5" r="6"/><circle cx="461.9" cy="1504.6" r="6"/><circle cx="463.0" cy="1505.9" r="6"/><circle cx="464.1" cy="1505.0" r="6"/><circle cx="465.3" cy="1503.0" r="6"/><circle cx="466.4" cy="1501.3" r="6"/><circle cx="467.5" cy="1515.4" r="6"/><circle cx="468.6" cy="1501.2" r="6"/><circle cx="469.8" cy="1505.1" r="6"/><circle cx="470.9" cy="1505.4" r="6"/><circle cx="472.0" cy="1510.2" r="6"/><circle cx="473.2" cy="1519.8" r="6"/><circle cx="474.3" cy="1499.1" r="6"/><circle cx="475.4" cy="1500.8" r="6"/><circle cx="476.6" cy="1497.9" r="6"/><circle cx="477.7" cy="1492.8" r="6"/><circle cx="478.8" cy="1491.2" r="6"/><circle cx="480.0" cy="1482.7" r="6"/><circle cx="481.1" cy="1482.2" r="6"/><circle cx="482.2" cy="1488.3" r="6"/><circle cx="484.5" cy="1478.1" r="6"/><circle cx="485.6" cy="1461.1" r="6"/><circle cx="486.7" cy="1473.2" r="6"/><circle cx="487.9" cy="1452.4" r="6"/><circle cx="489.0" cy="1480.9" r="6"/><circle cx="490.1" cy="1469.2" r="6"/><circle cx="491.3" cy="1467.8" r="6"/><circle cx="492.4" cy="1465.8" r="6"/><circle cx="493.5" cy="1473.4" r="6"/><circle cx="494.6" cy="1464.5" r="6"/><circle cx="495.8" cy="1451.4" r="6"/><circle cx="496.9" cy="1471.6" r="6"/><circle cx="498.0" cy="1461.1" r="6"/><circle cx="499.2" cy="1461.3" r="6"/><circle cx="500.3" cy="1461.9" r="6"/><circle cx="501.4" cy="1457.4" r="6"/><circle cx="502.6" cy="1468.5" r="6"/><circle cx="503.7" cy="1463.1" r="6"/><circle cx="504.8" cy="1463.3" r="6"/><circle cx="505.9" cy="1479.1" r="6"/><circle cx="507.1" cy="1482.4" r="6"/><circle cx="508.2" cy="1483.5" r="6"/><circle cx="509.3" cy="1486.6" r="6"/><circle cx="510.5" cy="1492.2" r="6"/><circle cx="511.6" cy="1488.6" r="6"/><circle cx="512.7" cy="1473.1" r="6"/><circle cx="513.9" cy="1470.3" r="6"/><circle cx="515.0" cy="1497.0" r="6"/><circle cx="516.1" cy="1468.1" r="6"/><circle cx="517.3" cy="1486.6" r="6"/><circle cx="519.5" cy="1475.2" r="6"/><circle cx="520.6" cy="1491.1" r="6"/><circle cx="521.8" cy="1479.4" r="6"/><circle cx="522.9" cy="1483.4" r="6"/><circle cx="524.0" cy="1471.8" r="6"/><circle cx="525.2" cy="1472.2" r="6"/><circle cx="526.3" cy="1466.3" r="6"/><circle cx="527.4" cy="1462.2" r="6"/><circle cx="528.6" cy="1464.0" r="6"/><circle cx="529.7" cy="1460.4" r="6"/><circle cx="530.8" cy="1468.0" r="6"/><circle cx="531.9" cy="1469.2" r="6"/><circle cx="533.1" cy="1474.3" r="6"/><circle cx="534.2" cy="1473.8" r="6"/><circle cx="535.3" cy="1466.9" r="6"/><circle cx="536.5" cy="1461.2" r="6"/><circle cx="537.6" cy="1451.7" r="6"/><circle cx="538.7" cy="1461.8" r="6"/><circle cx="539.9" cy="1445.5" r="6"/><circle cx="541.0" cy="1451.9" r="6"/><circle cx="542.1" cy="1456.0" r="6"/><circle cx="543.3" cy="1450.4" r="6"/><circle cx="544.4" cy="1450.0" r="6"/><circle cx="545.5" cy="1466.9" r="6"/><circle cx="546.6" cy="1443.0" r="6"/><circle cx="547.8" cy="1442.8" r="6"/><circle cx="548.9" cy="1459.4" r="6"/><circle cx="550.0" cy="1430.3" r="6"/><circle cx="551.2" cy="1437.3" r="6"/><circle cx="552.3" cy="1429.1" r="6"/><circle cx="553.4" cy="1439.4" r="6"/><circle cx="554.6" cy="1423.1" r="6"/><circle cx="555.7" cy="1415.9" r="6"/><circle cx="556.8" cy="1416.9" r="6"/><circle cx="557.9" cy="1416.4" r="6"/><circle cx="559.1" cy="1426.7" r="6"/><circle cx="560.2" cy="1410.4" r="6"/><circle cx="561.3" cy="1414.3" r="6"/><circle cx="562.5" cy="1414.7" r="6"/><circle cx="563.6" cy="1408.7" r="6"/><circle cx="564.7" cy="1409.1" r="6"/><circle cx="565.9" cy="1416.8" r="6"/><circle cx="567.0" cy="1409.9" r="6"/><circle cx="568.1" cy="1400.9" r="6"/><circle cx="569.3" cy="1421.6" r="6"/><circle cx="570.4" cy="1410.6" r="6"/><circle cx="571.5" cy="1422.9" r="6"/><circle cx="572.6" cy="1403.0" r="6"/><circle cx="573.8" cy="1393.5" r="6"/><circle cx="574.9" cy="1403.6" r="6"/><circle cx="576.0" cy="1408.4" r="6"/><circle cx="577.2" cy="1403.8" r="6"/><circle cx="578.3" cy="1395.9" r="6"/><circle cx="579.4" cy="1409.5" r="6"/><circle cx="580.6" cy="1409.3" r="6"/><circle cx="581.7" cy="1391.4" r="6"/><circle cx="582.8" cy="1407.4" r="6"/><circle cx="583.9" cy="1396.2" r="6"/><circle cx="585.1" cy="1405.1" r="6"/><circle cx="586.2" cy="1409.5" r="6"/><circle cx="587.3" cy="1389.6" r="6"/><circle cx="588.5" cy="1387.3" r="6"/><circle cx="589.6" cy="1406.8" r="6"/><circle cx="590.7" cy="1377.8" r="6"/><circle cx="591.9" cy="1394.8" r="6"/><circle cx="593.0" cy="1389.1" r="6"/><circle cx="594.1" cy="1393.4" r="6"/><circle cx="595.2" cy="1401.5" r="6"/><circle cx="596.4" cy="1386.8" r="6"/><circle cx="597.5" cy="1389.9" r="6"/><circle cx="598.6" cy="1387.1" r="6"/><circle cx="599.8" cy="1390.7" r="6"/><circle cx="600.9" cy="1400.8" r="6"/><circle cx="603.2" cy="1406.2" r="6"/><circle cx="604.3" cy="1396.3" r="6"/><circle cx="605.4" cy="1401.1" r="6"/><circle cx="606.6" cy="1393.4" r="6"/><circle cx="607.7" cy="1408.0" r="6"/><circle cx="608.8" cy="1391.7" r="6"/><circle cx="609.9" cy="1400.5" r="6"/><circle cx="611.1" cy="1400.3" r="6"/><circle cx="612.2" cy="1391.7" r="6"/><circle cx="613.3" cy="1406.7" r="6"/><circle cx="614.5" cy="1395.0" r="6"/><circle cx="615.6" cy="1386.4" r="6"/><circle cx="616.7" cy="1403.8" r="6"/><circle cx="617.9" cy="1401.8" r="6"/><circle cx="619.0" cy="1384.4" r="6"/><circle cx="620.1" cy="1389.8" r="6"/><circle cx="621.2" cy="1385.2" r="6"/><circle cx="622.4" cy="1389.6" r="6"/><circle cx="623.5" cy="1406.2" r="6"/><circle cx="624.6" cy="1407.7" r="6"/><circle cx="625.8" cy="1410.7" r="6"/><circle cx="626.9" cy="1390.6" r="6"/><circle cx="628.0" cy="1409.0" r="6"/><circle cx="629.2" cy="1417.6" r="6"/><circle cx="630.3" cy="1412.1" r="6"/><circle cx="631.4" cy="1409.1" r="6"/><circle cx="632.6" cy="1405.7" r="6"/><circle cx="633.7" cy="1416.8" r="6"/><circle cx="634.8" cy="1390.2" r="6"/><circle cx="635.9" cy="1408.1" r="6"/><circle cx="637.1" cy="1398.5" r="6"/><circle cx="638.2" cy="1405.1" r="6"/><circle cx="639.3" cy="1413.5" r="6"/><circle cx="640.5" cy="1403.2" r="6"/><circle cx="641.6" cy="1400.2" r="6"/><circle cx="642.7" cy="1397.0" r="6"/><circle cx="643.9" cy="1394.8" r="6"/><circle cx="645.0" cy="1392.8" r="6"/><circle cx="646.1" cy="1403.0" r="6"/><circle cx="647.2" cy="1405.0" r="6"/><circle cx="648.4" cy="1413.2" r="6"/><circle cx="649.5" cy="1422.5" r="6"/><circle cx="650.6" cy="1408.5" r="6"/><circle cx="651.8" cy="1417.8" r="6"/><circle cx="652.9" cy="1410.3" r="6"/><circle cx="654.0" cy="1414.5" r="6"/><circle cx="655.2" cy="1406.7" r="6"/><circle cx="656.3" cy="1416.4" r="6"/><circle cx="657.4" cy="1399.1" r="6"/><circle cx="658.6" cy="1407.6" r="6"/><circle cx="659.7" cy="1418.7" r="6"/><circle cx="660.8" cy="1408.9" r="6"/><circle cx="661.9" cy="1399.0" r="6"/><circle cx="663.1" cy="1420.9" r="6"/><circle cx="664.2" cy="1412.1" r="6"/><circle cx="665.3" cy="1414.7" r="6"/><circle cx="666.5" cy="1411.1" r="6"/><circle cx="667.6" cy="1412.3" r="6"/><circle cx="668.7" cy="1407.2" r="6"/><circle cx="669.9" cy="1404.9" r="6"/><circle cx="671.0" cy="1404.1" r="6"/><circle cx="672.1" cy="1422.4" r="6"/><circle cx="673.2" cy="1406.6" r="6"/><circle cx="674.4" cy="1408.5" r="6"/><circle cx="675.5" cy="1418.1" r="6"/><circle cx="676.6" cy="1418.1" r="6"/><circle cx="677.8" cy="1404.2" r="6"/><circle cx="678.9" cy="1420.8" r="6"/><circle cx="680.0" cy="1424.9" r="6"/><circle cx="681.2" cy="1412.9" r="6"/><circle cx="682.3" cy="1418.4" r="6"/><circle cx="683.4" cy="1411.7" r="6"/><circle cx="684.5" cy="1417.9" r="6"/><circle cx="685.7" cy="1409.5" r="6"/><circle cx="686.8" cy="1423.9" r="6"/><circle cx="687.9" cy="1423.2" r="6"/><circle cx="689.1" cy="1412.3" r="6"/><circle cx="690.2" cy="1406.8" r="6"/><circle cx="691.3" cy="1417.6" r="6"/><circle cx="692.5" cy="1406.1" r="6"/><circle cx="693.6" cy="1411.2" r="6"/><circle cx="694.7" cy="1413.2" r="6"/><circle cx="695.9" cy="1427.7" r="6"/><circle cx="697.0" cy="1392.6" r="6"/><circle cx="698.1" cy="1396.3" r="6"/><circle cx="699.2" cy="1395.5" r="6"/><circle cx="700.4" cy="1402.4" r="6"/><circle cx="701.5" cy="1414.7" r="6"/><circle cx="702.6" cy="1417.8" r="6"/><circle cx="703.8" cy="1415.0" r="6"/><circle cx="704.9" cy="1405.6" r="6"/><circle cx="706.0" cy="1414.6" r="6"/><circle cx="707.2" cy="1416.3" r="6"/><circle cx="708.3" cy="1415.1" r="6"/><circle cx="709.4" cy="1413.9" r="6"/><circle cx="710.5" cy="1404.9" r="6"/><circle cx="711.7" cy="1427.2" r="6"/><circle cx="712.8" cy="1422.5" r="6"/><circle cx="713.9" cy="1415.6" r="6"/><circle cx="715.1" cy="1421.3" r="6"/><circle cx="716.2" cy="1409.3" r="6"/><circle cx="717.3" cy="1411.9" r="6"/><circle cx="718.5" cy="1403.5" r="6"/><circle cx="719.6" cy="1407.0" r="6"/><circle cx="720.7" cy="1400.9" r="6"/><circle cx="721.9" cy="1406.5" r="6"/><circle cx="723.0" cy="1402.3" r="6"/><circle cx="724.1" cy="1412.0" r="6"/><circle cx="725.2" cy="1421.7" r="6"/><circle cx="726.4" cy="1401.4" r="6"/><circle cx="727.5" cy="1402.5" r="6"/><circle cx="728.6" cy="1406.3" r="6"/><circle cx="729.8" cy="1386.8" r="6"/><circle cx="730.9" cy="1391.8" r="6"/><circle cx="732.0" cy="1385.0" r="6"/><circle cx="733.2" cy="1401.4" r="6"/><circle cx="734.3" cy="1402.3" r="6"/><circle cx="735.4" cy="1398.9" r="6"/><circle cx="736.5" cy="1388.0" r="6"/><circle cx="737.7" cy="1409.6" r="6"/><circle cx="738.8" cy="1399.6" r="6"/><circle cx="739.9" cy="1403.5" r="6"/><circle cx="741.1" cy="1403.4" r="6"/><circle cx="742.2" cy="1392.7" r="6"/><circle cx="743.3" cy="1392.9" r="6"/><circle cx="745.6" cy="1394.4" r="6"/><circle cx="746.7" cy="1403.8" r="6"/><circle cx="747.9" cy="1397.9" r="6"/><circle cx="749.0" cy="1412.2" r="6"/><circle cx="750.1" cy="1395.4" r="6"/><circle cx="751.2" cy="1410.6" r="6"/><circle cx="752.4" cy="1399.9" r="6"/><circle cx="753.5" cy="1392.4" r="6"/><circle cx="754.6" cy="1399.0" r="6"/><circle cx="755.8" cy="1393.8" r="6"/><circle cx="756.9" cy="1396.6" r="6"/><circle cx="758.0" cy="1380.9" r="6"/><circle cx="759.2" cy="1402.8" r="6"/><circle cx="760.3" cy="1396.3" r="6"/><circle cx="761.4" cy="1392.1" r="6"/><circle cx="762.5" cy="1388.9" r="6"/><circle cx="763.7" cy="1395.0" r="6"/><circle cx="764.8" cy="1387.7" r="6"/><circle cx="765.9" cy="1379.9" r="6"/><circle cx="767.1" cy="1405.0" r="6"/><circle cx="768.2" cy="1377.7" r="6"/><circle cx="769.3" cy="1381.8" r="6"/><circle cx="770.5" cy="1367.6" r="6"/><circle cx="771.6" cy="1365.7" r="6"/><circle cx="772.7" cy="1371.2" r="6"/><circle cx="773.8" cy="1369.2" r="6"/><circle cx="775.0" cy="1385.6" r="6"/><circle cx="776.1" cy="1390.0" r="6"/><circle cx="777.2" cy="1382.8" r="6"/><circle cx="778.4" cy="1374.7" r="6"/><circle cx="779.5" cy="1377.9" r="6"/><circle cx="780.6" cy="1373.9" r="6"/><circle cx="781.8" cy="1372.0" r="6"/><circle cx="782.9" cy="1358.0" r="6"/><circle cx="784.0" cy="1374.6" r="6"/><circle cx="785.2" cy="1375.7" r="6"/><circle cx="786.3" cy="1371.6" r="6"/><circle cx="787.4" cy="1374.1" r="6"/><circle cx="788.5" cy="1370.4" r="6"/><circle cx="789.7" cy="1360.7" r="6"/><circle cx="790.8" cy="1380.8" r="6"/><circle cx="791.9" cy="1366.1" r="6"/><circle cx="793.1" cy="1357.9" r="6"/><circle cx="794.2" cy="1362.2" r="6"/><circle cx="795.3" cy="1384.3" r="6"/><circle cx="796.5" cy="1372.2" r="6"/><circle cx="797.6" cy="1358.0" r="6"/><circle cx="798.7" cy="1366.0" r="6"/><circle cx="799.8" cy="1362.8" r="6"/><circle cx="801.0" cy="1368.4" r="6"/><circle cx="802.1" cy="1358.3" r="6"/><circle cx="803.2" cy="1364.5" r="6"/><circle cx="804.4" cy="1371.6" r="6"/><circle cx="805.5" cy="1368.6" r="6"/><circle cx="806.6" cy="1357.0" r="6"/><circle cx="807.8" cy="1363.3" r="6"/><circle cx="808.9" cy="1380.6" r="6"/><circle cx="810.0" cy="1386.1" r="6"/><circle cx="811.2" cy="1360.9" r="6"/><circle cx="812.3" cy="1382.8" r="6"/><circle cx="813.4" cy="1368.4" r="6"/><circle cx="814.5" cy="1379.0" r="6"/><circle cx="815.7" cy="1369.1" r="6"/><circle cx="816.8" cy="1375.5" r="6"/><circle cx="817.9" cy="1386.2" r="6"/><circle cx="819.1" cy="1359.5" r="6"/><circle cx="820.2" cy="1368.9" r="6"/><circle cx="821.3" cy="1370.6" r="6"/><circle cx="822.5" cy="1358.7" r="6"/><circle cx="823.6" cy="1364.7" r="6"/><circle cx="824.7" cy="1358.6" r="6"/><circle cx="825.8" cy="1372.8" r="6"/><circle cx="827.0" cy="1366.6" r="6"/><circle cx="828.1" cy="1363.1" r="6"/><circle cx="829.2" cy="1369.3" r="6"/><circle cx="830.4" cy="1359.3" r="6"/><circle cx="831.5" cy="1359.9" r="6"/><circle cx="832.6" cy="1365.3" r="6"/><circle cx="833.8" cy="1364.4" r="6"/><circle cx="834.9" cy="1353.9" r="6"/><circle cx="836.0" cy="1360.7" r="6"/><circle cx="837.2" cy="1356.9" r="6"/><circle cx="838.3" cy="1359.2" r="6"/><circle cx="839.4" cy="1365.6" r="6"/><circle cx="840.5" cy="1351.6" r="6"/><circle cx="841.7" cy="1362.9" r="6"/><circle cx="843.9" cy="1358.9" r="6"/><circle cx="845.1" cy="1370.4" r="6"/><circle cx="846.2" cy="1370.5" r="6"/><circle cx="847.3" cy="1356.1" r="6"/><circle cx="848.5" cy="1372.9" r="6"/><circle cx="849.6" cy="1353.4" r="6"/><circle cx="850.7" cy="1356.8" r="6"/><circle cx="851.8" cy="1345.2" r="6"/><circle cx="853.0" cy="1359.8" r="6"/><circle cx="854.1" cy="1359.8" r="6"/><circle cx="855.2" cy="1357.0" r="6"/><circle cx="857.5" cy="1374.0" r="6"/><circle cx="858.6" cy="1366.0" r="6"/><circle cx="859.8" cy="1351.1" r="6"/><circle cx="860.9" cy="1368.6" r="6"/><circle cx="862.0" cy="1372.3" r="6"/><circle cx="863.1" cy="1358.3" r="6"/><circle cx="864.3" cy="1353.6" r="6"/><circle cx="865.4" cy="1364.0" r="6"/><circle cx="866.5" cy="1369.6" r="6"/><circle cx="867.7" cy="1364.2" r="6"/><circle cx="868.8" cy="1358.3" r="6"/><circle cx="869.9" cy="1372.8" r="6"/><circle cx="871.1" cy="1351.4" r="6"/><circle cx="872.2" cy="1351.7" r="6"/><circle cx="873.3" cy="1344.1" r="6"/><circle cx="874.5" cy="1343.1" r="6"/><circle cx="875.6" cy="1345.1" r="6"/><circle cx="876.7" cy="1336.3" r="6"/><circle cx="877.8" cy="1350.9" r="6"/><circle cx="879.0" cy="1353.3" r="6"/><circle cx="880.1" cy="1335.7" r="6"/><circle cx="881.2" cy="1347.0" r="6"/><circle cx="882.4" cy="1353.7" r="6"/><circle cx="883.5" cy="1352.8" r="6"/><circle cx="884.6" cy="1347.8" r="6"/><circle cx="885.8" cy="1359.3" r="6"/><circle cx="886.9" cy="1334.3" r="6"/><circle cx="888.0" cy="1343.4" r="6"/><circle cx="889.1" cy="1339.0" r="6"/><circle cx="890.3" cy="1361.2" r="6"/><circle cx="891.4" cy="1355.3" r="6"/><circle cx="893.7" cy="1356.5" r="6"/><circle cx="894.8" cy="1344.3" r="6"/><circle cx="895.9" cy="1342.8" r="6"/><circle cx="897.1" cy="1339.1" r="6"/><circle cx="898.2" cy="1339.1" r="6"/><circle cx="899.3" cy="1356.0" r="6"/><circle cx="900.5" cy="1341.7" r="6"/><circle cx="901.6" cy="1340.0" r="6"/><circle cx="902.7" cy="1341.4" r="6"/><circle cx="903.8" cy="1335.5" r="6"/><circle cx="905.0" cy="1357.2" r="6"/><circle cx="907.2" cy="1346.2" r="6"/><circle cx="908.4" cy="1342.2" r="6"/><circle cx="909.5" cy="1344.6" r="6"/><circle cx="910.6" cy="1350.4" r="6"/><circle cx="911.8" cy="1331.9" r="6"/><circle cx="912.9" cy="1329.5" r="6"/><circle cx="914.0" cy="1321.3" r="6"/><circle cx="915.1" cy="1341.6" r="6"/><circle cx="916.3" cy="1341.3" r="6"/><circle cx="917.4" cy="1334.3" r="6"/><circle cx="918.5" cy="1342.0" r="6"/><circle cx="919.7" cy="1348.2" r="6"/><circle cx="920.8" cy="1338.3" r="6"/><circle cx="921.9" cy="1338.3" r="6"/><circle cx="923.1" cy="1349.6" r="6"/><circle cx="924.2" cy="1337.3" r="6"/><circle cx="926.4" cy="1349.7" r="6"/><circle cx="927.6" cy="1329.1" r="6"/><circle cx="928.7" cy="1340.0" r="6"/><circle cx="929.8" cy="1339.4" r="6"/><circle cx="931.0" cy="1321.9" r="6"/><circle cx="932.1" cy="1320.1" r="6"/><circle cx="933.2" cy="1326.2" r="6"/><circle cx="934.4" cy="1326.4" r="6"/><circle cx="935.5" cy="1308.0" r="6"/><circle cx="936.6" cy="1308.6" r="6"/><circle cx="937.8" cy="1301.2" r="6"/><circle cx="938.9" cy="1301.4" r="6"/><circle cx="940.0" cy="1302.8" r="6"/><circle cx="941.1" cy="1289.1" r="6"/><circle cx="942.3" cy="1268.5" r="6"/><circle cx="944.5" cy="1289.9" r="6"/><circle cx="945.7" cy="1287.4" r="6"/><circle cx="946.8" cy="1288.9" r="6"/><circle cx="947.9" cy="1280.1" r="6"/><circle cx="949.1" cy="1282.7" r="6"/><circle cx="950.2" cy="1287.6" r="6"/><circle cx="951.3" cy="1265.4" r="6"/><circle cx="952.4" cy="1280.2" r="6"/><circle cx="953.6" cy="1275.4" r="6"/><circle cx="954.7" cy="1280.7" r="6"/><circle cx="955.8" cy="1291.2" r="6"/><circle cx="957.0" cy="1275.8" r="6"/><circle cx="958.1" cy="1282.1" r="6"/><circle cx="959.2" cy="1272.8" r="6"/><circle cx="960.4" cy="1272.2" r="6"/><circle cx="961.5" cy="1253.5" r="6"/><circle cx="962.6" cy="1270.7" r="6"/><circle cx="963.8" cy="1262.9" r="6"/><circle cx="964.9" cy="1278.0" r="6"/><circle cx="966.0" cy="1268.0" r="6"/><circle cx="967.1" cy="1267.0" r="6"/><circle cx="968.3" cy="1262.7" r="6"/><circle cx="969.4" cy="1265.2" r="6"/><circle cx="970.5" cy="1291.7" r="6"/><circle cx="971.7" cy="1277.2" r="6"/><circle cx="972.8" cy="1276.0" r="6"/><circle cx="973.9" cy="1283.5" r="6"/><circle cx="975.1" cy="1280.4" r="6"/><circle cx="976.2" cy="1280.6" r="6"/><circle cx="977.3" cy="1279.4" r="6"/><circle cx="978.4" cy="1295.9" r="6"/><circle cx="979.6" cy="1290.6" r="6"/><circle cx="980.7" cy="1283.7" r="6"/><circle cx="981.8" cy="1275.3" r="6"/><circle cx="983.0" cy="1283.4" r="6"/><circle cx="984.1" cy="1271.9" r="6"/><circle cx="985.2" cy="1283.1" r="6"/><circle cx="986.4" cy="1273.5" r="6"/><circle cx="987.5" cy="1272.3" r="6"/><circle cx="988.6" cy="1269.3" r="6"/><circle cx="989.8" cy="1263.1" r="6"/><circle cx="990.9" cy="1275.7" r="6"/><circle cx="992.0" cy="1264.1" r="6"/><circle cx="993.1" cy="1279.3" r="6"/><circle cx="994.3" cy="1263.7" r="6"/><circle cx="995.4" cy="1244.4" r="6"/><circle cx="996.5" cy="1265.8" r="6"/><circle cx="997.7" cy="1259.3" r="6"/><circle cx="998.8" cy="1247.5" r="6"/><circle cx="999.9" cy="1252.7" r="6"/><circle cx="1001.1" cy="1237.5" r="6"/><circle cx="1002.2" cy="1261.4" r="6"/><circle cx="1003.3" cy="1248.8" r="6"/><circle cx="1004.4" cy="1241.7" r="6"/><circle cx="1005.6" cy="1259.9" r="6"/><circle cx="1006.7" cy="1245.8" r="6"/><circle cx="1007.8" cy="1253.6" r="6"/><circle cx="1009.0" cy="1249.6" r="6"/><circle cx="1010.1" cy="1246.0" r="6"/><circle cx="1011.2" cy="1240.8" r="6"/><circle cx="1012.4" cy="1250.1" r="6"/><circle cx="1013.5" cy="1255.2" r="6"/><circle cx="1015.7" cy="1259.7" r="6"/><circle cx="1016.9" cy="1250.6" r="6"/><circle cx="1018.0" cy="1256.3" r="6"/><circle cx="1019.1" cy="1253.9" r="6"/><circle cx="1020.3" cy="1276.1" r="6"/><circle cx="1021.4" cy="1259.7" r="6"/><circle cx="1022.5" cy="1270.5" r="6"/><circle cx="1023.7" cy="1238.7" r="6"/><circle cx="1024.8" cy="1249.0" r="6"/><circle cx="1025.9" cy="1241.4" r="6"/><circle cx="1027.1" cy="1256.4" r="6"/><circle cx="1028.2" cy="1263.4" r="6"/><circle cx="1029.3" cy="1257.3" r="6"/><circle cx="1030.4" cy="1245.0" r="6"/><circle cx="1031.6" cy="1255.3" r="6"/><circle cx="1032.7" cy="1244.9" r="6"/><circle cx="1033.8" cy="1235.6" r="6"/><circle cx="1035.0" cy="1248.3" r="6"/><circle cx="1036.1" cy="1238.0" r="6"/><circle cx="1037.2" cy="1263.5" r="6"/><circle cx="1038.4" cy="1257.0" r="6"/><circle cx="1039.5" cy="1254.1" r="6"/><circle cx="1040.6" cy="1252.7" r="6"/><circle cx="1041.7" cy="1261.5" r="6"/><circle cx="1042.9" cy="1256.7" r="6"/><circle cx="1044.0" cy="1245.3" r="6"/><circle cx="1045.1" cy="1245.7" r="6"/><circle cx="1046.3" cy="1251.9" r="6"/><circle cx="1047.4" cy="1262.2" r="6"/><circle cx="1048.5" cy="1244.7" r="6"/><circle cx="1049.7" cy="1250.2" r="6"/><circle cx="1050.8" cy="1264.3" r="6"/><circle cx="1051.9" cy="1246.2" r="6"/><circle cx="1053.1" cy="1259.3" r="6"/><circle cx="1054.2" cy="1256.0" r="6"/><circle cx="1055.3" cy="1262.5" r="6"/><circle cx="1056.4" cy="1249.9" r="6"/><circle cx="1057.6" cy="1245.4" r="6"/><circle cx="1058.7" cy="1265.6" r="6"/><circle cx="1059.8" cy="1258.9" r="6"/><circle cx="1061.0" cy="1256.3" r="6"/><circle cx="1062.1" cy="1255.3" r="6"/><circle cx="1063.2" cy="1248.8" r="6"/><circle cx="1064.4" cy="1250.5" r="6"/><circle cx="1065.5" cy="1264.1" r="6"/><circle cx="1066.6" cy="1254.0" r="6"/><circle cx="1068.9" cy="1241.0" r="6"/><circle cx="1070.0" cy="1245.6" r="6"/><circle cx="1071.1" cy="1248.7" r="6"/><circle cx="1072.3" cy="1257.8" r="6"/><circle cx="1073.4" cy="1255.6" r="6"/><circle cx="1074.5" cy="1246.9" r="6"/><circle cx="1075.7" cy="1258.2" r="6"/><circle cx="1076.8" cy="1262.3" r="6"/><circle cx="1077.9" cy="1248.3" r="6"/><circle cx="1079.1" cy="1232.7" r="6"/><circle cx="1080.2" cy="1248.8" r="6"/><circle cx="1081.3" cy="1244.9" r="6"/><circle cx="1082.4" cy="1219.1" r="6"/><circle cx="1083.6" cy="1218.5" r="6"/><circle cx="1084.7" cy="1234.6" r="6"/><circle cx="1085.8" cy="1231.6" r="6"/><circle cx="1087.0" cy="1236.8" r="6"/><circle cx="1088.1" cy="1235.6" r="6"/><circle cx="1089.2" cy="1221.0" r="6"/><circle cx="1090.4" cy="1231.9" r="6"/><circle cx="1091.5" cy="1222.7" r="6"/><circle cx="1092.6" cy="1230.1" r="6"/><circle cx="1093.7" cy="1225.9" r="6"/><circle cx="1094.9" cy="1220.2" r="6"/><circle cx="1096.0" cy="1218.3" r="6"/><circle cx="1097.1" cy="1236.2" r="6"/><circle cx="1098.3" cy="1229.4" r="6"/><circle cx="1099.4" cy="1245.4" r="6"/><circle cx="1100.5" cy="1236.0" r="6"/><circle cx="1101.7" cy="1255.7" r="6"/><circle cx="1102.8" cy="1263.3" r="6"/><circle cx="1103.9" cy="1255.6" r="6"/><circle cx="1105.0" cy="1269.7" r="6"/><circle cx="1106.2" cy="1262.7" r="6"/><circle cx="1107.3" cy="1259.9" r="6"/><circle cx="1108.4" cy="1267.7" r="6"/><circle cx="1109.6" cy="1267.9" r="6"/><circle cx="1110.7" cy="1261.1" r="6"/><circle cx="1111.8" cy="1259.0" r="6"/><circle cx="1113.0" cy="1262.0" r="6"/><circle cx="1114.1" cy="1258.3" r="6"/><circle cx="1115.2" cy="1264.4" r="6"/><circle cx="1116.4" cy="1264.9" r="6"/><circle cx="1117.5" cy="1251.3" r="6"/><circle cx="1118.6" cy="1273.0" r="6"/><circle cx="1119.7" cy="1268.5" r="6"/><circle cx="1120.9" cy="1248.8" r="6"/><circle cx="1122.0" cy="1267.6" r="6"/><circle cx="1123.1" cy="1270.6" r="6"/><circle cx="1124.3" cy="1254.3" r="6"/><circle cx="1125.4" cy="1250.3" r="6"/><circle cx="1126.5" cy="1247.0" r="6"/><circle cx="1127.7" cy="1273.5" r="6"/><circle cx="1128.8" cy="1261.5" r="6"/><circle cx="1129.9" cy="1270.5" r="6"/><circle cx="1131.0" cy="1268.3" r="6"/><circle cx="1132.2" cy="1264.9" r="6"/><circle cx="1133.3" cy="1275.5" r="6"/><circle cx="1134.4" cy="1265.3" r="6"/><circle cx="1135.6" cy="1263.5" r="6"/><circle cx="1136.7" cy="1264.2" r="6"/><circle cx="1137.8" cy="1275.2" r="6"/><circle cx="1139.0" cy="1264.2" r="6"/><circle cx="1140.1" cy="1274.4" r="6"/><circle cx="1141.2" cy="1274.8" r="6"/><circle cx="1142.4" cy="1269.4" r="6"/><circle cx="1143.5" cy="1258.0" r="6"/><circle cx="1144.6" cy="1279.4" r="6"/><circle cx="1145.7" cy="1264.8" r="6"/><circle cx="1146.9" cy="1250.1" r="6"/><circle cx="1148.0" cy="1263.0" r="6"/><circle cx="1149.1" cy="1272.4" r="6"/><circle cx="1150.3" cy="1265.3" r="6"/><circle cx="1151.4" cy="1251.7" r="6"/><circle cx="1152.5" cy="1265.6" r="6"/><circle cx="1153.7" cy="1268.1" r="6"/><circle cx="1154.8" cy="1259.0" r="6"/><circle cx="1155.9" cy="1263.0" r="6"/><circle cx="1157.0" cy="1264.0" r="6"/><circle cx="1158.2" cy="1248.6" r="6"/><circle cx="1159.3" cy="1266.9" r="6"/><circle cx="1160.4" cy="1260.1" r="6"/><circle cx="1161.6" cy="1246.3" r="6"/><circle cx="1162.7" cy="1257.0" r="6"/><circle cx="1163.8" cy="1246.1" r="6"/><circle cx="1165.0" cy="1275.9" r="6"/><circle cx="1166.1" cy="1269.4" r="6"/><circle cx="1167.2" cy="1259.7" r="6"/><circle cx="1168.4" cy="1251.8" r="6"/><circle cx="1169.5" cy="1264.3" r="6"/><circle cx="1170.6" cy="1250.1" r="6"/><circle cx="1171.7" cy="1257.1" r="6"/><circle cx="1172.9" cy="1257.1" r="6"/><circle cx="1174.0" cy="1254.5" r="6"/><circle cx="1175.1" cy="1253.8" r="6"/><circle cx="1177.4" cy="1255.0" r="6"/><circle cx="1178.5" cy="1249.4" r="6"/><circle cx="1179.7" cy="1256.4" r="6"/><circle cx="1180.8" cy="1233.9" r="6"/><circle cx="1181.9" cy="1249.1" r="6"/><circle cx="1183.0" cy="1246.8" r="6"/><circle cx="1184.2" cy="1248.4" r="6"/><circle cx="1185.3" cy="1243.7" r="6"/><circle cx="1186.4" cy="1242.4" r="6"/><circle cx="1187.6" cy="1241.0" r="6"/><circle cx="1188.7" cy="1249.1" r="6"/><circle cx="1189.8" cy="1230.0" r="6"/><circle cx="1191.0" cy="1244.0" r="6"/><circle cx="1192.1" cy="1258.2" r="6"/><circle cx="1193.2" cy="1229.0" r="6"/><circle cx="1194.3" cy="1248.3" r="6"/><circle cx="1195.5" cy="1244.7" r="6"/><circle cx="1196.6" cy="1254.1" r="6"/><circle cx="1197.7" cy="1245.0" r="6"/><circle cx="1198.9" cy="1237.1" r="6"/><circle cx="1200.0" cy="1230.3" r="6"/><circle cx="1201.1" cy="1242.6" r="6"/><circle cx="1202.3" cy="1237.5" r="6"/><circle cx="1203.4" cy="1228.9" r="6"/><circle cx="1204.5" cy="1218.8" r="6"/><circle cx="1205.7" cy="1226.8" r="6"/><circle cx="1206.8" cy="1236.1" r="6"/><circle cx="1207.9" cy="1242.9" r="6"/><circle cx="1209.0" cy="1249.0" r="6"/><circle cx="1210.2" cy="1234.6" r="6"/><circle cx="1211.3" cy="1225.1" r="6"/><circle cx="1212.4" cy="1237.1" r="6"/><circle cx="1213.6" cy="1243.5" r="6"/><circle cx="1215.8" cy="1230.1" r="6"/><circle cx="1217.0" cy="1235.2" r="6"/><circle cx="1218.1" cy="1235.1" r="6"/><circle cx="1219.2" cy="1250.5" r="6"/><circle cx="1220.3" cy="1223.3" r="6"/><circle cx="1221.5" cy="1235.6" r="6"/><circle cx="1222.6" cy="1217.3" r="6"/><circle cx="1223.7" cy="1232.6" r="6"/><circle cx="1224.9" cy="1224.2" r="6"/><circle cx="1226.0" cy="1232.3" r="6"/><circle cx="1227.1" cy="1201.7" r="6"/><circle cx="1228.3" cy="1211.2" r="6"/><circle cx="1229.4" cy="1228.1" r="6"/><circle cx="1230.5" cy="1209.6" r="6"/><circle cx="1231.7" cy="1236.6" r="6"/><circle cx="1232.8" cy="1207.3" r="6"/><circle cx="1233.9" cy="1218.6" r="6"/><circle cx="1235.0" cy="1215.5" r="6"/><circle cx="1236.2" cy="1221.5" r="6"/><circle cx="1237.3" cy="1204.7" r="6"/><circle cx="1238.4" cy="1243.0" r="6"/><circle cx="1239.6" cy="1229.1" r="6"/><circle cx="1240.7" cy="1197.0" r="6"/><circle cx="1241.8" cy="1204.7" r="6"/><circle cx="1243.0" cy="1219.0" r="6"/><circle cx="1244.1" cy="1243.8" r="6"/><circle cx="1245.2" cy="1211.9" r="6"/><circle cx="1246.3" cy="1221.2" r="6"/><circle cx="1247.5" cy="1236.1" r="6"/><circle cx="1248.6" cy="1207.8" r="6"/><circle cx="1249.7" cy="1256.9" r="6"/><circle cx="1250.9" cy="1227.2" r="6"/><circle cx="1252.0" cy="1199.6" r="6"/><circle cx="1254.3" cy="1248.2" r="6"/><circle cx="1255.4" cy="1215.6" r="6"/><circle cx="1256.5" cy="1205.9" r="6"/><circle cx="1257.7" cy="1211.9" r="6"/><circle cx="1258.8" cy="1194.2" r="6"/><circle cx="1259.9" cy="1216.6" r="6"/><circle cx="1261.0" cy="1230.1" r="6"/><circle cx="1262.2" cy="1230.3" r="6"/><circle cx="1263.3" cy="1216.3" r="6"/><circle cx="1264.4" cy="1184.2" r="6"/><circle cx="1265.6" cy="1217.7" r="6"/><circle cx="1266.7" cy="1195.8" r="6"/><circle cx="1267.8" cy="1209.7" r="6"/><circle cx="1269.0" cy="1200.0" r="6"/><circle cx="1270.1" cy="1212.0" r="6"/><circle cx="1271.2" cy="1193.5" r="6"/><circle cx="1272.3" cy="1184.3" r="6"/><circle cx="1273.5" cy="1217.6" r="6"/><circle cx="1274.6" cy="1233.2" r="6"/><circle cx="1275.7" cy="1214.9" r="6"/><circle cx="1276.9" cy="1212.5" r="6"/><circle cx="1278.0" cy="1202.8" r="6"/><circle cx="1279.1" cy="1197.2" r="6"/><circle cx="1280.3" cy="1227.6" r="6"/><circle cx="1281.4" cy="1222.4" r="6"/><circle cx="1282.5" cy="1224.6" r="6"/><circle cx="1283.6" cy="1205.1" r="6"/><circle cx="1284.8" cy="1227.1" r="6"/><circle cx="1285.9" cy="1200.5" r="6"/><circle cx="1287.0" cy="1183.3" r="6"/><circle cx="1288.2" cy="1209.0" r="6"/><circle cx="1289.3" cy="1185.5" r="6"/><circle cx="1290.4" cy="1205.9" r="6"/><circle cx="1291.6" cy="1214.6" r="6"/><circle cx="1292.7" cy="1183.7" r="6"/><circle cx="1293.8" cy="1194.9" r="6"/><circle cx="1295.0" cy="1218.2" r="6"/><circle cx="1296.1" cy="1204.4" r="6"/><circle cx="1297.2" cy="1231.1" r="6"/><circle cx="1298.3" cy="1237.2" r="6"/><circle cx="1299.5" cy="1197.0" r="6"/><circle cx="1300.6" cy="1210.5" r="6"/><circle cx="1301.7" cy="1185.6" r="6"/><circle cx="1302.9" cy="1203.8" r="6"/><circle cx="1304.0" cy="1208.9" r="6"/><circle cx="1305.1" cy="1213.7" r="6"/><circle cx="1306.3" cy="1205.9" r="6"/><circle cx="1307.4" cy="1221.5" r="6"/><circle cx="1308.5" cy="1212.4" r="6"/><circle cx="1309.6" cy="1230.3" r="6"/><circle cx="1310.8" cy="1231.9" r="6"/><circle cx="1311.9" cy="1228.3" r="6"/><circle cx="1313.0" cy="1217.9" r="6"/><circle cx="1314.2" cy="1206.9" r="6"/><circle cx="1315.3" cy="1211.5" r="6"/><circle cx="1316.4" cy="1189.1" r="6"/><circle cx="1317.6" cy="1212.1" r="6"/><circle cx="1318.7" cy="1190.6" r="6"/><circle cx="1319.8" cy="1178.5" r="6"/><circle cx="1321.0" cy="1182.7" r="6"/><circle cx="1322.1" cy="1205.1" r="6"/><circle cx="1323.2" cy="1192.9" r="6"/><circle cx="1324.3" cy="1221.5" r="6"/><circle cx="1325.5" cy="1198.7" r="6"/><circle cx="1326.6" cy="1170.1" r="6"/><circle cx="1327.7" cy="1216.2" r="6"/><circle cx="1328.9" cy="1200.7" r="6"/><circle cx="1330.0" cy="1189.2" r="6"/><circle cx="1331.1" cy="1185.1" r="6"/><circle cx="1332.3" cy="1195.0" r="6"/><circle cx="1333.4" cy="1198.8" r="6"/><circle cx="1334.5" cy="1178.6" r="6"/><circle cx="1335.6" cy="1203.1" r="6"/><circle cx="1336.8" cy="1170.1" r="6"/><circle cx="1337.9" cy="1164.5" r="6"/><circle cx="1339.0" cy="1179.8" r="6"/><circle cx="1340.2" cy="1194.6" r="6"/><circle cx="1342.4" cy="1192.3" r="6"/><circle cx="1343.6" cy="1199.4" r="6"/><circle cx="1344.7" cy="1190.0" r="6"/><circle cx="1345.8" cy="1176.3" r="6"/><circle cx="1347.0" cy="1201.6" r="6"/><circle cx="1348.1" cy="1174.2" r="6"/><circle cx="1349.2" cy="1174.1" r="6"/><circle cx="1350.3" cy="1191.9" r="6"/><circle cx="1351.5" cy="1157.4" r="6"/><circle cx="1352.6" cy="1163.2" r="6"/><circle cx="1354.9" cy="1168.9" r="6"/><circle cx="1356.0" cy="1172.0" r="6"/><circle cx="1357.1" cy="1176.4" r="6"/><circle cx="1358.3" cy="1153.4" r="6"/><circle cx="1359.4" cy="1175.7" r="6"/><circle cx="1360.5" cy="1155.1" r="6"/><circle cx="1361.6" cy="1175.5" r="6"/><circle cx="1362.8" cy="1157.6" r="6"/><circle cx="1363.9" cy="1148.2" r="6"/><circle cx="1365.0" cy="1161.2" r="6"/><circle cx="1366.2" cy="1165.9" r="6"/><circle cx="1367.3" cy="1179.8" r="6"/><circle cx="1368.4" cy="1159.8" r="6"/><circle cx="1369.6" cy="1178.0" r="6"/><circle cx="1370.7" cy="1159.4" r="6"/><circle cx="1371.8" cy="1138.9" r="6"/><circle cx="1372.9" cy="1181.8" r="6"/><circle cx="1374.1" cy="1168.8" r="6"/><circle cx="1375.2" cy="1147.1" r="6"/><circle cx="1376.3" cy="1168.6" r="6"/><circle cx="1377.5" cy="1165.2" r="6"/><circle cx="1379.7" cy="1169.1" r="6"/><circle cx="1380.9" cy="1136.1" r="6"/><circle cx="1382.0" cy="1184.8" r="6"/><circle cx="1383.1" cy="1145.2" r="6"/><circle cx="1384.3" cy="1150.2" r="6"/><circle cx="1385.4" cy="1141.4" r="6"/><circle cx="1386.5" cy="1160.8" r="6"/><circle cx="1387.6" cy="1144.3" r="6"/><circle cx="1388.8" cy="1152.8" r="6"/><circle cx="1389.9" cy="1152.2" r="6"/><circle cx="1391.0" cy="1118.4" r="6"/><circle cx="1392.2" cy="1113.9" r="6"/><circle cx="1393.3" cy="1134.3" r="6"/><circle cx="1394.4" cy="1134.0" r="6"/><circle cx="1395.6" cy="1117.3" r="6"/><circle cx="1396.7" cy="1109.0" r="6"/><circle cx="1397.8" cy="1135.5" r="6"/><circle cx="1398.9" cy="1123.2" r="6"/><circle cx="1400.1" cy="1126.5" r="6"/><circle cx="1401.2" cy="1111.8" r="6"/><circle cx="1402.3" cy="1135.1" r="6"/><circle cx="1403.5" cy="1134.2" r="6"/><circle cx="1405.7" cy="1125.2" r="6"/><circle cx="1406.9" cy="1127.9" r="6"/><circle cx="1408.0" cy="1129.8" r="6"/><circle cx="1409.1" cy="1120.5" r="6"/><circle cx="1410.3" cy="1120.5" r="6"/><circle cx="1411.4" cy="1126.5" r="6"/><circle cx="1412.5" cy="1140.6" r="6"/><circle cx="1413.6" cy="1117.8" r="6"/><circle cx="1414.8" cy="1119.1" r="6"/><circle cx="1415.9" cy="1133.8" r="6"/><circle cx="1417.0" cy="1131.1" r="6"/><circle cx="1418.2" cy="1139.7" r="6"/><circle cx="1419.3" cy="1125.0" r="6"/><circle cx="1420.4" cy="1122.7" r="6"/><circle cx="1421.6" cy="1137.0" r="6"/><circle cx="1422.7" cy="1116.3" r="6"/><circle cx="1423.8" cy="1119.6" r="6"/><circle cx="1424.9" cy="1123.6" r="6"/><circle cx="1426.1" cy="1108.9" r="6"/><circle cx="1427.2" cy="1113.4" r="6"/><circle cx="1428.3" cy="1111.2" r="6"/><circle cx="1429.5" cy="1118.6" r="6"/><circle cx="1430.6" cy="1106.8" r="6"/><circle cx="1431.7" cy="1125.0" r="6"/><circle cx="1432.9" cy="1110.0" r="6"/><circle cx="1434.0" cy="1126.7" r="6"/><circle cx="1435.1" cy="1113.8" r="6"/><circle cx="1436.2" cy="1123.4" r="6"/><circle cx="1437.4" cy="1126.8" r="6"/><circle cx="1438.5" cy="1107.5" r="6"/><circle cx="1439.6" cy="1112.3" r="6"/><circle cx="1440.8" cy="1114.5" r="6"/><circle cx="1441.9" cy="1118.3" r="6"/><circle cx="1443.0" cy="1112.1" r="6"/><circle cx="1444.2" cy="1116.5" r="6"/><circle cx="1445.3" cy="1117.6" r="6"/><circle cx="1446.4" cy="1113.0" r="6"/><circle cx="1447.6" cy="1108.9" r="6"/><circle cx="1448.7" cy="1125.4" r="6"/><circle cx="1450.9" cy="1129.1" r="6"/><circle cx="1452.1" cy="1124.3" r="6"/><circle cx="1453.2" cy="1123.0" r="6"/><circle cx="1454.3" cy="1109.9" r="6"/><circle cx="1455.5" cy="1104.9" r="6"/><circle cx="1456.6" cy="1104.4" r="6"/><circle cx="1457.7" cy="1114.3" r="6"/><circle cx="1458.9" cy="1102.4" r="6"/><circle cx="1460.0" cy="1090.9" r="6"/><circle cx="1461.1" cy="1101.5" r="6"/><circle cx="1463.4" cy="1092.7" r="6"/><circle cx="1464.5" cy="1110.3" r="6"/><circle cx="1465.6" cy="1094.6" r="6"/><circle cx="1466.8" cy="1093.0" r="6"/><circle cx="1467.9" cy="1107.6" r="6"/><circle cx="1469.0" cy="1096.6" r="6"/><circle cx="1470.2" cy="1094.4" r="6"/><circle cx="1471.3" cy="1106.3" r="6"/><circle cx="1472.4" cy="1089.6" r="6"/><circle cx="1473.6" cy="1089.7" r="6"/><circle cx="1474.7" cy="1097.2" r="6"/><circle cx="1475.8" cy="1101.3" r="6"/><circle cx="1476.9" cy="1102.5" r="6"/><circle cx="1478.1" cy="1103.0" r="6"/><circle cx="1479.2" cy="1093.3" r="6"/><circle cx="1481.5" cy="1122.8" r="6"/><circle cx="1482.6" cy="1110.8" r="6"/><circle cx="1483.7" cy="1116.5" r="6"/><circle cx="1484.9" cy="1134.0" r="6"/><circle cx="1486.0" cy="1141.2" r="6"/><circle cx="1487.1" cy="1132.9" r="6"/><circle cx="1488.2" cy="1144.3" r="6"/><circle cx="1489.4" cy="1130.3" r="6"/><circle cx="1490.5" cy="1136.5" r="6"/><circle cx="1491.6" cy="1145.6" r="6"/><circle cx="1492.8" cy="1137.8" r="6"/><circle cx="1493.9" cy="1144.1" r="6"/><circle cx="1495.0" cy="1146.0" r="6"/><circle cx="1496.2" cy="1129.1" r="6"/><circle cx="1497.3" cy="1143.0" r="6"/><circle cx="1498.4" cy="1153.4" r="6"/><circle cx="1499.6" cy="1136.9" r="6"/><circle cx="1500.7" cy="1150.0" r="6"/><circle cx="1501.8" cy="1149.3" r="6"/><circle cx="1502.9" cy="1127.7" r="6"/><circle cx="1504.1" cy="1139.7" r="6"/><circle cx="1505.2" cy="1130.3" r="6"/><circle cx="1506.3" cy="1151.2" r="6"/><circle cx="1508.6" cy="1147.1" r="6"/><circle cx="1509.7" cy="1147.2" r="6"/><circle cx="1510.9" cy="1136.7" r="6"/><circle cx="1512.0" cy="1150.4" r="6"/><circle cx="1513.1" cy="1164.8" r="6"/><circle cx="1514.2" cy="1140.4" r="6"/><circle cx="1515.4" cy="1154.3" r="6"/><circle cx="1516.5" cy="1147.0" r="6"/><circle cx="1517.6" cy="1134.0" r="6"/><circle cx="1518.8" cy="1124.2" r="6"/><circle cx="1519.9" cy="1147.5" r="6"/><circle cx="1521.0" cy="1131.7" r="6"/><circle cx="1523.3" cy="1158.6" r="6"/><circle cx="1524.4" cy="1144.4" r="6"/><circle cx="1525.5" cy="1142.3" r="6"/><circle cx="1526.7" cy="1139.0" r="6"/><circle cx="1527.8" cy="1146.4" r="6"/><circle cx="1528.9" cy="1144.1" r="6"/><circle cx="1530.1" cy="1133.6" r="6"/><circle cx="1531.2" cy="1142.8" r="6"/><circle cx="1532.3" cy="1144.2" r="6"/><circle cx="1533.5" cy="1147.7" r="6"/><circle cx="1534.6" cy="1140.0" r="6"/><circle cx="1535.7" cy="1141.6" r="6"/><circle cx="1536.9" cy="1141.8" r="6"/><circle cx="1538.0" cy="1141.2" r="6"/><circle cx="1539.1" cy="1132.5" r="6"/><circle cx="1540.2" cy="1138.9" r="6"/><circle cx="1541.4" cy="1133.2" r="6"/><circle cx="1542.5" cy="1131.2" r="6"/><circle cx="1543.6" cy="1129.3" r="6"/><circle cx="1544.8" cy="1120.6" r="6"/><circle cx="1545.9" cy="1126.4" r="6"/><circle cx="1547.0" cy="1140.1" r="6"/><circle cx="1548.2" cy="1122.5" r="6"/><circle cx="1549.3" cy="1117.8" r="6"/><circle cx="1550.4" cy="1112.4" r="6"/><circle cx="1551.5" cy="1112.2" r="6"/><circle cx="1552.7" cy="1136.0" r="6"/><circle cx="1553.8" cy="1121.8" r="6"/><circle cx="1554.9" cy="1116.0" r="6"/><circle cx="1556.1" cy="1119.5" r="6"/><circle cx="1557.2" cy="1129.2" r="6"/><circle cx="1558.3" cy="1123.1" r="6"/><circle cx="1559.5" cy="1133.7" r="6"/><circle cx="1560.6" cy="1123.0" r="6"/><circle cx="1561.7" cy="1142.2" r="6"/><circle cx="1562.9" cy="1124.7" r="6"/><circle cx="1564.0" cy="1114.6" r="6"/><circle cx="1565.1" cy="1131.2" r="6"/><circle cx="1566.2" cy="1110.5" r="6"/><circle cx="1567.4" cy="1101.1" r="6"/><circle cx="1568.5" cy="1111.6" r="6"/><circle cx="1569.6" cy="1120.8" r="6"/><circle cx="1570.8" cy="1119.8" r="6"/><circle cx="1571.9" cy="1124.0" r="6"/><circle cx="1573.0" cy="1108.1" r="6"/><circle cx="1574.2" cy="1122.8" r="6"/><circle cx="1575.3" cy="1112.3" r="6"/><circle cx="1576.4" cy="1124.0" r="6"/><circle cx="1577.5" cy="1114.2" r="6"/><circle cx="1578.7" cy="1132.4" r="6"/><circle cx="1579.8" cy="1122.4" r="6"/><circle cx="1580.9" cy="1125.6" r="6"/><circle cx="1582.1" cy="1103.3" r="6"/><circle cx="1583.2" cy="1117.5" r="6"/><circle cx="1584.3" cy="1115.9" r="6"/><circle cx="1585.5" cy="1107.0" r="6"/><circle cx="1586.6" cy="1125.8" r="6"/><circle cx="1587.7" cy="1126.1" r="6"/><circle cx="1588.9" cy="1113.3" r="6"/><circle cx="1590.0" cy="1123.9" r="6"/><circle cx="1591.1" cy="1098.4" r="6"/><circle cx="1592.2" cy="1110.0" r="6"/><circle cx="1593.4" cy="1109.0" r="6"/><circle cx="1594.5" cy="1116.0" r="6"/><circle cx="1595.6" cy="1126.3" r="6"/><circle cx="1596.8" cy="1102.2" r="6"/><circle cx="1597.9" cy="1111.4" r="6"/><circle cx="1599.0" cy="1127.0" r="6"/><circle cx="1600.2" cy="1119.6" r="6"/><circle cx="1601.3" cy="1108.8" r="6"/><circle cx="1602.4" cy="1099.4" r="6"/><circle cx="1603.5" cy="1104.0" r="6"/><circle cx="1604.7" cy="1096.2" r="6"/><circle cx="1605.8" cy="1098.5" r="6"/><circle cx="1608.1" cy="1106.3" r="6"/><circle cx="1609.2" cy="1107.1" r="6"/><circle cx="1610.3" cy="1100.9" r="6"/><circle cx="1611.5" cy="1111.2" r="6"/><circle cx="1612.6" cy="1096.7" r="6"/><circle cx="1613.7" cy="1091.7" r="6"/><circle cx="1614.8" cy="1101.9" r="6"/><circle cx="1616.0" cy="1100.3" r="6"/><circle cx="1617.1" cy="1101.2" r="6"/><circle cx="1618.2" cy="1097.9" r="6"/><circle cx="1619.4" cy="1083.3" r="6"/><circle cx="1620.5" cy="1110.3" r="6"/><circle cx="1621.6" cy="1077.3" r="6"/><circle cx="1622.8" cy="1089.5" r="6"/><circle cx="1623.9" cy="1095.0" r="6"/><circle cx="1625.0" cy="1096.1" r="6"/><circle cx="1626.2" cy="1085.6" r="6"/><circle cx="1627.3" cy="1091.6" r="6"/><circle cx="1628.4" cy="1085.5" r="6"/><circle cx="1629.5" cy="1097.2" r="6"/><circle cx="1630.7" cy="1104.7" r="6"/><circle cx="1631.8" cy="1097.8" r="6"/><circle cx="1632.9" cy="1088.0" r="6"/><circle cx="1634.1" cy="1101.4" r="6"/><circle cx="1635.2" cy="1096.1" r="6"/><circle cx="1636.3" cy="1099.0" r="6"/><circle cx="1637.5" cy="1088.0" r="6"/><circle cx="1638.6" cy="1086.3" r="6"/><circle cx="1639.7" cy="1107.8" r="6"/><circle cx="1640.8" cy="1101.6" r="6"/><circle cx="1642.0" cy="1094.0" r="6"/><circle cx="1643.1" cy="1096.6" r="6"/><circle cx="1644.2" cy="1073.6" r="6"/><circle cx="1645.4" cy="1071.7" r="6"/><circle cx="1646.5" cy="1083.0" r="6"/><circle cx="1647.6" cy="1086.6" r="6"/><circle cx="1649.9" cy="1100.0" r="6"/><circle cx="1651.0" cy="1097.7" r="6"/><circle cx="1652.2" cy="1085.5" r="6"/><circle cx="1653.3" cy="1074.4" r="6"/><circle cx="1654.4" cy="1092.3" r="6"/><circle cx="1655.5" cy="1087.5" r="6"/><circle cx="1656.7" cy="1078.7" r="6"/><circle cx="1657.8" cy="1072.0" r="6"/><circle cx="1658.9" cy="1096.2" r="6"/><circle cx="1660.1" cy="1082.8" r="6"/><circle cx="1661.2" cy="1076.2" r="6"/><circle cx="1662.3" cy="1097.0" r="6"/><circle cx="1663.5" cy="1088.1" r="6"/><circle cx="1664.6" cy="1084.0" r="6"/><circle cx="1665.7" cy="1091.0" r="6"/><circle cx="1666.8" cy="1085.9" r="6"/><circle cx="1668.0" cy="1094.1" r="6"/><circle cx="1669.1" cy="1102.9" r="6"/><circle cx="1670.2" cy="1097.8" r="6"/><circle cx="1671.4" cy="1103.3" r="6"/><circle cx="1672.5" cy="1094.7" r="6"/><circle cx="1673.6" cy="1076.9" r="6"/><circle cx="1674.8" cy="1079.9" r="6"/><circle cx="1675.9" cy="1078.1" r="6"/><circle cx="1677.0" cy="1069.5" r="6"/><circle cx="1678.2" cy="1092.3" r="6"/><circle cx="1679.3" cy="1090.2" r="6"/><circle cx="1680.4" cy="1082.6" r="6"/><circle cx="1681.5" cy="1069.1" r="6"/><circle cx="1682.7" cy="1078.7" r="6"/><circle cx="1683.8" cy="1084.3" r="6"/><circle cx="1686.1" cy="1084.2" r="6"/><circle cx="1687.2" cy="1094.3" r="6"/><circle cx="1688.3" cy="1104.2" r="6"/><circle cx="1689.5" cy="1084.3" r="6"/><circle cx="1690.6" cy="1087.3" r="6"/><circle cx="1691.7" cy="1078.7" r="6"/><circle cx="1692.8" cy="1095.4" r="6"/><circle cx="1694.0" cy="1095.9" r="6"/><circle cx="1696.2" cy="1079.9" r="6"/><circle cx="1697.4" cy="1082.1" r="6"/><circle cx="1698.5" cy="1074.2" r="6"/><circle cx="1699.6" cy="1085.0" r="6"/><circle cx="1700.8" cy="1077.7" r="6"/><circle cx="1701.9" cy="1071.3" r="6"/><circle cx="1703.0" cy="1074.0" r="6"/><circle cx="1704.1" cy="1078.4" r="6"/><circle cx="1705.3" cy="1076.6" r="6"/><circle cx="1706.4" cy="1077.2" r="6"/><circle cx="1707.5" cy="1081.3" r="6"/><circle cx="1708.7" cy="1081.8" r="6"/><circle cx="1709.8" cy="1073.4" r="6"/><circle cx="1710.9" cy="1091.3" r="6"/><circle cx="1712.1" cy="1078.5" r="6"/><circle cx="1713.2" cy="1087.1" r="6"/><circle cx="1714.3" cy="1073.0" r="6"/><circle cx="1715.5" cy="1074.4" r="6"/><circle cx="1716.6" cy="1067.6" r="6"/><circle cx="1717.7" cy="1072.1" r="6"/><circle cx="1718.8" cy="1075.7" r="6"/><circle cx="1720.0" cy="1081.4" r="6"/><circle cx="1721.1" cy="1059.1" r="6"/><circle cx="1722.2" cy="1083.1" r="6"/><circle cx="1723.4" cy="1087.8" r="6"/><circle cx="1724.5" cy="1072.0" r="6"/><circle cx="1725.6" cy="1067.4" r="6"/><circle cx="1726.8" cy="1073.7" r="6"/><circle cx="1727.9" cy="1079.3" r="6"/><circle cx="1729.0" cy="1088.4" r="6"/><circle cx="1730.1" cy="1065.8" r="6"/><circle cx="1731.3" cy="1096.0" r="6"/><circle cx="1732.4" cy="1076.8" r="6"/><circle cx="1733.5" cy="1092.8" r="6"/><circle cx="1734.7" cy="1085.6" r="6"/><circle cx="1735.8" cy="1077.7" r="6"/><circle cx="1736.9" cy="1076.4" r="6"/><circle cx="1738.1" cy="1066.9" r="6"/><circle cx="1739.2" cy="1077.8" r="6"/><circle cx="1740.3" cy="1074.1" r="6"/><circle cx="1741.5" cy="1086.2" r="6"/><circle cx="1742.6" cy="1062.4" r="6"/><circle cx="1743.7" cy="1072.4" r="6"/><circle cx="1744.8" cy="1075.9" r="6"/><circle cx="1747.1" cy="1063.4" r="6"/><circle cx="1748.2" cy="1053.0" r="6"/><circle cx="1749.4" cy="1060.5" r="6"/><circle cx="1750.5" cy="1067.9" r="6"/><circle cx="1751.6" cy="1057.5" r="6"/><circle cx="1752.8" cy="1057.9" r="6"/><circle cx="1753.9" cy="1054.5" r="6"/><circle cx="1755.0" cy="1063.2" r="6"/><circle cx="1756.1" cy="1051.2" r="6"/><circle cx="1757.3" cy="1066.4" r="6"/><circle cx="1758.4" cy="1057.2" r="6"/><circle cx="1759.5" cy="1069.9" r="6"/><circle cx="1760.7" cy="1062.3" r="6"/><circle cx="1761.8" cy="1069.5" r="6"/><circle cx="1762.9" cy="1057.1" r="6"/><circle cx="1764.1" cy="1068.2" r="6"/><circle cx="1765.2" cy="1052.6" r="6"/><circle cx="1767.5" cy="1071.3" r="6"/><circle cx="1768.6" cy="1051.4" r="6"/><circle cx="1769.7" cy="1064.7" r="6"/><circle cx="1770.8" cy="1058.8" r="6"/><circle cx="1773.1" cy="1061.9" r="6"/><circle cx="1774.2" cy="1042.6" r="6"/><circle cx="1775.4" cy="1050.5" r="6"/><circle cx="1776.5" cy="1045.9" r="6"/><circle cx="1777.6" cy="1052.4" r="6"/><circle cx="1778.8" cy="1041.7" r="6"/><circle cx="1779.9" cy="1053.9" r="6"/><circle cx="1782.1" cy="1026.6" r="6"/><circle cx="1783.3" cy="1031.9" r="6"/><circle cx="1784.4" cy="1037.9" r="6"/><circle cx="1785.5" cy="1045.5" r="6"/><circle cx="1786.7" cy="1044.9" r="6"/><circle cx="1787.8" cy="1031.4" r="6"/><circle cx="1788.9" cy="1036.7" r="6"/><circle cx="1790.1" cy="1047.4" r="6"/><circle cx="1791.2" cy="1031.9" r="6"/><circle cx="1792.3" cy="1030.6" r="6"/><circle cx="1793.4" cy="1033.4" r="6"/><circle cx="1794.6" cy="1031.2" r="6"/><circle cx="1795.7" cy="1031.7" r="6"/><circle cx="1796.8" cy="1033.5" r="6"/><circle cx="1798.0" cy="1035.1" r="6"/><circle cx="1799.1" cy="1033.8" r="6"/><circle cx="1800.2" cy="1010.9" r="6"/><circle cx="1801.4" cy="1028.1" r="6"/><circle cx="1802.5" cy="1008.2" r="6"/><circle cx="1803.6" cy="1000.6" r="6"/><circle cx="1804.8" cy="1002.1" r="6"/><circle cx="1805.9" cy="1003.8" r="6"/><circle cx="1807.0" cy="989.6" r="6"/><circle cx="1808.1" cy="986.0" r="6"/><circle cx="1809.3" cy="989.3" r="6"/><circle cx="1811.5" cy="976.1" r="6"/><circle cx="1812.7" cy="1005.9" r="6"/><circle cx="1813.8" cy="982.6" r="6"/><circle cx="1814.9" cy="991.9" r="6"/><circle cx="1817.2" cy="988.9" r="6"/><circle cx="1818.3" cy="993.5" r="6"/><circle cx="1819.4" cy="996.1" r="6"/><circle cx="1820.6" cy="1002.6" r="6"/><circle cx="1821.7" cy="981.7" r="6"/><circle cx="1822.8" cy="985.4" r="6"/><circle cx="1824.0" cy="994.4" r="6"/><circle cx="1825.1" cy="982.8" r="6"/><circle cx="1826.2" cy="985.7" r="6"/><circle cx="1827.4" cy="984.3" r="6"/><circle cx="1828.5" cy="979.9" r="6"/><circle cx="1829.6" cy="979.3" r="6"/><circle cx="1830.8" cy="1003.5" r="6"/><circle cx="1831.9" cy="985.3" r="6"/><circle cx="1834.1" cy="975.3" r="6"/><circle cx="1835.3" cy="991.1" r="6"/><circle cx="1836.4" cy="982.0" r="6"/><circle cx="1837.5" cy="974.6" r="6"/><circle cx="1838.7" cy="971.4" r="6"/><circle cx="1839.8" cy="989.1" r="6"/><circle cx="1840.9" cy="992.0" r="6"/><circle cx="1842.1" cy="983.8" r="6"/><circle cx="1843.2" cy="984.2" r="6"/><circle cx="1844.3" cy="978.0" r="6"/><circle cx="1845.4" cy="974.2" r="6"/><circle cx="1846.6" cy="991.6" r="6"/><circle cx="1847.7" cy="973.9" r="6"/><circle cx="1850.0" cy="995.4" r="6"/><circle cx="1851.1" cy="977.5" r="6"/><circle cx="1852.2" cy="973.9" r="6"/><circle cx="496.1" cy="1430.8" r="6"/><circle cx="496.7" cy="1445.0" r="6"/><circle cx="493.7" cy="1457.0" r="6"/><circle cx="519.8" cy="1500.6" r="6"/><circle cx="508.7" cy="1491.0" r="6"/><circle cx="479.2" cy="1476.0" r="6"/><circle cx="637.4" cy="1374.3" r="6"/><circle cx="667.2" cy="1445.9" r="6"/><circle cx="603.5" cy="1432.9" r="6"/><circle cx="432.6" cy="1530.7" r="6"/><circle cx="331.3" cy="1557.7" r="6"/><circle cx="338.8" cy="1557.7" r="6"/><circle cx="1092.0" cy="1196.5" r="6"/><circle cx="1083.0" cy="1203.8" r="6"/><circle cx="1093.5" cy="1212.2" r="6"/><circle cx="1078.5" cy="1218.8" r="6"/><circle cx="1092.6" cy="1222.7" r="6"/><circle cx="1011.4" cy="1228.1" r="6"/><circle cx="1032.8" cy="1228.1" r="6"/><circle cx="1146.2" cy="1234.7" r="6"/><circle cx="1054.4" cy="1288.3" r="6"/><circle cx="993.4" cy="1288.3" r="6"/><circle cx="1036.4" cy="1274.7" r="6"/><circle cx="1110.1" cy="1285.9" r="6"/><circle cx="912.2" cy="1371.0" r="6"/><circle cx="886.0" cy="1378.5" r="6"/><circle cx="809.3" cy="1392.0" r="6"/><circle cx="832.8" cy="1386.6" r="6"/><circle cx="768.7" cy="1354.4" r="6"/><circle cx="784.4" cy="1354.4" r="6"/><circle cx="795.8" cy="1348.4" r="6"/><circle cx="904.7" cy="1325.0" r="6"/><circle cx="692.0" cy="1431.7" r="6"/><circle cx="1183.6" cy="1202.0" r="6"/><circle cx="1252.2" cy="1190.5" r="6"/><circle cx="1280.5" cy="1177.0" r="6"/><circle cx="1294.9" cy="1174.9" r="6"/><circle cx="1302.4" cy="1180.9" r="6"/><circle cx="1346.0" cy="1131.9" r="6"/><circle cx="1363.2" cy="1125.3" r="6"/><circle cx="1400.8" cy="1101.8" r="6"/><circle cx="1462.7" cy="1092.8" r="6"/><circle cx="1473.8" cy="1098.8" r="6"/><circle cx="1521.4" cy="1159.8" r="6"/><circle cx="1571.6" cy="1150.8" r="6"/><circle cx="1361.1" cy="1193.5" r="6"/><circle cx="1377.6" cy="1189.9" r="6"/><circle cx="1334.0" cy="1265.1" r="6"/><circle cx="1314.4" cy="1262.1" r="6"/><circle cx="1305.4" cy="1254.6" r="6"/><circle cx="1266.9" cy="1257.0" r="6"/><circle cx="1266.3" cy="1244.1" r="6"/><circle cx="1220.6" cy="1252.2" r="6"/><circle cx="1337.0" cy="1235.9" r="6"/><circle cx="1850.9" cy="948.8" r="6"/><circle cx="1851.5" cy="953.0" r="6"/><circle cx="1829.1" cy="957.6" r="6"/><circle cx="1787.0" cy="992.2" r="6"/><circle cx="1521.3" cy="1159.8" r="6"/><circle cx="1572.7" cy="1150.6" r="6"/><circle cx="1565.7" cy="1145.6" r="6"/><circle cx="1594.0" cy="1140.6" r="6"/><circle cx="1777.7" cy="1077.9" r="6"/><circle cx="1758.9" cy="1080.4" r="6"/><circle cx="1794.5" cy="1064.9" r="6"/><circle cx="1729.3" cy="1044.6" r="6"/><circle cx="1687.5" cy="1058.6" r="6"/><circle cx="1705.5" cy="1057.3" r="6"/>
</g>
<path d="M258.1 1543.8 L261.3 1544.6 L264.5 1545.3 L267.6 1545.9 L270.8 1546.5 L274.0 1547.0 L277.2 1547.4 L280.4 1547.7 L283.6 1547.8 L286.8 1547.9 L290.0 1547.9 L293.2 1547.7 L296.4 1547.4 L299.6 1547.0 L302.8 1546.5 L306.0 1545.8 L309.2 1545.1 L312.4 1544.2 L315.5 1543.2 L318.7 1542.2 L321.9 1541.0 L325.1 1539.7 L328.3 1538.4 L331.5 1537.0 L334.7 1535.6 L337.9 1534.1 L341.1 1532.6 L344.3 1531.0 L347.5 1529.4 L350.7 1527.9 L353.9 1526.3 L357.1 1524.7 L360.3 1523.2 L363.4 1521.7 L366.6 1520.2 L369.8 1518.8 L373.0 1517.5 L376.2 1516.2 L379.4 1514.9 L382.6 1513.8 L385.8 1512.7 L389.0 1511.7 L392.2 1510.8 L395.4 1509.9 L398.6 1509.2 L401.8 1508.5 L405.0 1507.8 L408.2 1507.3 L411.3 1506.8 L414.5 1506.3 L417.7 1506.0 L420.9 1505.6 L424.1 1505.3 L427.3 1505.0 L430.5 1504.7 L433.7 1504.5 L436.9 1504.2 L440.1 1503.9 L443.3 1503.6 L446.5 1503.2 L449.7 1502.8 L452.9 1502.4 L456.1 1501.8 L459.2 1501.2 L462.4 1500.5 L465.6 1499.7 L468.8 1498.7 L472.0 1497.7 L475.2 1496.5 L478.4 1495.3 L481.6 1493.8 L484.8 1492.3 L488.0 1490.6 L491.2 1488.8 L494.4 1486.8 L497.6 1484.7 L500.8 1482.5 L504.0 1480.1 L507.1 1477.6 L510.3 1475.0 L513.5 1472.3 L516.7 1469.4 L519.9 1466.5 L523.1 1463.5 L526.3 1460.4 L529.5 1457.3 L532.7 1454.1 L535.9 1450.9 L539.1 1447.6 L542.3 1444.4 L545.5 1441.1 L548.7 1437.9 L551.9 1434.7 L555.0 1431.5 L558.2 1428.5 L561.4 1425.5 L564.6 1422.6 L567.8 1419.7 L571.0 1417.0 L574.2 1414.5 L577.4 1412.0 L580.6 1409.7 L583.8 1407.6 L587.0 1405.6 L590.2 1403.8 L593.4 1402.2 L596.6 1400.7 L599.8 1399.4 L602.9 1398.3 L606.1 1397.3 L609.3 1396.6 L612.5 1396.0 L615.7 1395.5 L618.9 1395.3 L622.1 1395.1 L625.3 1395.2 L628.5 1395.3 L631.7 1395.6 L634.9 1396.0 L638.1 1396.5 L641.3 1397.1 L644.5 1397.8 L647.7 1398.5 L650.8 1399.3 L654.0 1400.2 L657.2 1401.0 L660.4 1401.9 L663.6 1402.7 L666.8 1403.6 L670.0 1404.4 L673.2 1405.2 L676.4 1405.9 L679.6 1406.6 L682.8 1407.2 L686.0 1407.7 L689.2 1408.1 L692.4 1408.4 L695.6 1408.6 L698.7 1408.7 L701.9 1408.7 L705.1 1408.6 L708.3 1408.3 L711.5 1407.9 L714.7 1407.5 L717.9 1406.8 L721.1 1406.1 L724.3 1405.3 L727.5 1404.3 L730.7 1403.3 L733.9 1402.2 L737.1 1400.9 L740.3 1399.6 L743.5 1398.3 L746.6 1396.8 L749.8 1395.4 L753.0 1393.8 L756.2 1392.3 L759.4 1390.7 L762.6 1389.1 L765.8 1387.6 L769.0 1386.0 L772.2 1384.5 L775.4 1382.9 L778.6 1381.5 L781.8 1380.0 L785.0 1378.7 L788.2 1377.4 L791.4 1376.1 L794.5 1374.9 L797.7 1373.8 L800.9 1372.8 L804.1 1371.9 L807.3 1371.0 L810.5 1370.2 L813.7 1369.5 L816.9 1368.8 L820.1 1368.3 L823.3 1367.7 L826.5 1367.3 L829.7 1366.9 L832.9 1366.5 L836.1 1366.2 L839.3 1365.9 L842.4 1365.6 L845.6 1365.4 L848.8 1365.1 L852.0 1364.8 L855.2 1364.5 L858.4 1364.2 L861.6 1363.8 L864.8 1363.3 L868.0 1362.8 L871.2 1362.2 L874.4 1361.5 L877.6 1360.7 L880.8 1359.8 L884.0 1358.8 L887.2 1357.7 L890.3 1356.5 L893.5 1355.1 L896.7 1353.6 L899.9 1351.9 L903.1 1350.1 L906.3 1348.2 L909.5 1346.2 L912.7 1344.0 L915.9 1341.6 L919.1 1339.2 L922.3 1336.6 L925.5 1333.9 L928.7 1331.1 L931.9 1328.2 L935.1 1325.2 L938.2 1322.2 L941.4 1319.0 L944.6 1315.8 L947.8 1312.6 L951.0 1309.4 L954.2 1306.1 L957.4 1302.9 L960.6 1299.6 L963.8 1296.4 L967.0 1293.3 L970.2 1290.2 L973.4 1287.2 L976.6 1284.2 L979.8 1281.4 L983.0 1278.6 L986.1 1276.0 L989.3 1273.6 L992.5 1271.2 L995.7 1269.0 L998.9 1267.0 L1002.1 1265.2 L1005.3 1263.5 L1008.5 1261.9 L1011.7 1260.6 L1014.9 1259.4 L1018.1 1258.4 L1021.3 1257.6 L1024.5 1257.0 L1027.7 1256.5 L1030.9 1256.2 L1034.0 1256.0 L1037.2 1256.0 L1040.4 1256.1 L1043.6 1256.3 L1046.8 1256.7 L1050.0 1257.2 L1053.2 1257.8 L1056.4 1258.4 L1059.6 1259.1 L1062.8 1259.9 L1066.0 1260.7 L1069.2 1261.6 L1072.4 1262.4 L1075.6 1263.3 L1078.8 1264.2 L1081.9 1265.0 L1085.1 1265.8 L1088.3 1266.5 L1091.5 1267.2 L1094.7 1267.8 L1097.9 1268.4 L1101.1 1268.8 L1104.3 1269.2 L1107.5 1269.4 L1110.7 1269.5 L1113.9 1269.5 L1117.1 1269.4 L1120.3 1269.2 L1123.5 1268.9 L1126.7 1268.4 L1129.8 1267.9 L1133.0 1267.2 L1136.2 1266.4 L1139.4 1265.4 L1142.6 1264.4 L1145.8 1263.3 L1149.0 1262.1 L1152.2 1260.8 L1155.4 1259.5 L1158.6 1258.1 L1161.8 1256.6 L1165.0 1255.1 L1168.2 1253.6 L1171.4 1252.0 L1174.6 1250.4 L1177.7 1248.8 L1180.9 1247.3 L1184.1 1245.7 L1187.3 1244.2 L1190.5 1242.7 L1193.7 1241.3 L1196.9 1239.9 L1200.1 1238.6 L1203.3 1237.3 L1206.5 1236.1 L1209.7 1235.0 L1212.9 1233.9 L1216.1 1232.9 L1219.3 1232.1 L1222.5 1231.2 L1225.6 1230.5 L1228.8 1229.8 L1232.0 1229.2 L1235.2 1228.7 L1238.4 1228.2 L1241.6 1227.8 L1244.8 1227.5 L1248.0 1227.1 L1251.2 1226.8 L1254.4 1226.5 L1257.6 1226.3 L1260.8 1226.0 L1264.0 1225.7 L1267.2 1225.4 L1270.4 1225.1 L1273.5 1224.7 L1276.7 1224.3 L1279.9 1223.8 L1283.1 1223.2 L1286.3 1222.5 L1289.5 1221.8 L1292.7 1220.9 L1295.9 1220.0 L1299.1 1218.9 L1302.3 1217.7 L1305.5 1216.3 L1308.7 1214.9 L1311.9 1213.2 L1315.1 1211.5 L1318.3 1209.6 L1321.4 1207.6 L1324.6 1205.4 L1327.8 1203.1 L1331.0 1200.7 L1334.2 1198.2 L1337.4 1195.5 L1340.6 1192.7 L1343.8 1189.9 L1347.0 1186.9 L1350.2 1183.9 L1353.4 1180.8 L1356.6 1177.6 L1359.8 1174.4 L1363.0 1171.2 L1366.2 1167.9 L1369.3 1164.6 L1372.5 1161.4 L1375.7 1158.2 L1378.9 1155.0 L1382.1 1151.9 L1385.3 1148.8 L1388.5 1145.9 L1391.7 1143.0 L1394.9 1140.2 L1398.1 1137.6 L1401.3 1135.1 L1404.5 1132.7 L1407.7 1130.5 L1410.9 1128.4 L1414.1 1126.5 L1417.2 1124.8 L1420.4 1123.2 L1423.6 1121.8 L1426.8 1120.6 L1430.0 1119.5 L1433.2 1118.6 L1436.4 1118.0 L1439.6 1117.4 L1442.8 1117.1 L1446.0 1116.8 L1449.2 1116.8 L1452.4 1116.9 L1455.6 1117.1 L1458.8 1117.4 L1462.0 1117.9 L1465.1 1118.4 L1468.3 1119.0 L1471.5 1119.7 L1474.7 1120.5 L1477.9 1121.3 L1481.1 1122.2 L1484.3 1123.0 L1487.5 1123.9 L1490.7 1124.7 L1493.9 1125.6 L1497.1 1126.4 L1500.3 1127.1 L1503.5 1127.9 L1506.7 1128.5 L1509.9 1129.0 L1513.0 1129.5 L1516.2 1129.9 L1519.4 1130.2 L1522.6 1130.3 L1525.8 1130.4 L1529.0 1130.3 L1532.2 1130.1 L1535.4 1129.8 L1538.6 1129.4 L1541.8 1128.9 L1545.0 1128.2 L1548.2 1127.4 L1551.4 1126.5 L1554.6 1125.6 L1557.8 1124.5 L1560.9 1123.3 L1564.1 1122.0 L1567.3 1120.7 L1570.5 1119.3 L1573.7 1117.9 L1576.9 1116.4 L1580.1 1114.8 L1583.3 1113.3 L1586.5 1111.7 L1589.7 1110.1 L1592.9 1108.6 L1596.1 1107.0 L1599.3 1105.5 L1602.5 1104.0 L1605.7 1102.5 L1608.8 1101.1 L1612.0 1099.8 L1615.2 1098.5 L1618.4 1097.3 L1621.6 1096.1 L1624.8 1095.0 L1628.0 1094.0 L1631.2 1093.1 L1634.4 1092.3 L1637.6 1091.5 L1640.8 1090.8 L1644.0 1090.2 L1647.2 1089.7 L1650.4 1089.2 L1653.6 1088.8 L1656.7 1088.4 L1659.9 1088.0 L1663.1 1087.7 L1666.3 1087.4 L1669.5 1087.2 L1672.7 1086.9 L1675.9 1086.6 L1679.1 1086.3 L1682.3 1086.0 L1685.5 1085.6 L1688.7 1085.2 L1691.9 1084.8 L1695.1 1084.2 L1698.3 1083.6 L1701.5 1082.8 L1704.6 1082.0 L1707.8 1081.1 L1711.0 1080.0 L1714.2 1078.9 L1717.4 1077.6 L1720.6 1076.1 L1723.8 1074.6 L1727.0 1072.8 L1730.2 1071.0 L1733.4 1069.0 L1736.6 1066.9 L1739.8 1064.6 L1743.0 1062.3 L1746.2 1059.7 L1749.4 1057.1 L1752.5 1054.4 L1755.7 1051.5 L1758.9 1048.6 L1762.1 1045.6 L1765.3 1042.5 L1768.5 1039.3 L1771.7 1036.2 L1774.9 1032.9 L1778.1 1029.7 L1781.3 1026.4 L1784.5 1023.2 L1787.7 1019.9 L1790.9 1016.8 L1794.1 1013.6 L1797.3 1010.6 L1800.4 1007.6 L1803.6 1004.7 L1806.8 1001.9 L1810.0 999.2 L1813.2 996.6 L1816.4 994.2 L1819.6 991.9 L1822.8 989.8 L1826.0 987.9 L1829.2 986.1 L1832.4 984.4 L1835.6 983.0 L1838.8 981.7 L1842.0 980.6 L1845.2 979.7 L1848.3 979.0 L1851.5 978.4" fill="none" stroke="#f00" stroke-width="6.3" stroke-linejoin="round"/>
<path d="M292.7 935.0 V925.2 M292.7 1573.0 V1582.8 M396.0 935.0 V925.2 M396.0 1573.0 V1582.8 M499.2 935.0 V925.2 M499.2 1573.0 V1582.8 M602.4 935.0 V916.0 M602.4 1573.0 V1592.0 M705.6 935.0 V925.2 M705.6 1573.0 V1582.8 M808.8 935.0 V925.2 M808.8 1573.0 V1582.8 M912.1 935.0 V925.2 M912.1 1573.0 V1582.8 M1015.3 935.0 V916.0 M1015.3 1573.0 V1592.0 M1118.5 935.0 V925.2 M1118.5 1573.0 V1582.8 M1221.7 935.0 V925.2 M1221.7 1573.0 V1582.8 M1324.9 935.0 V925.2 M1324.9 1573.0 V1582.8 M1428.1 935.0 V916.0 M1428.1 1573.0 V1592.0 M1531.4 935.0 V925.2 M1531.4 1573.0 V1582.8 M1634.6 935.0 V925.2 M1634.6 1573.0 V1582.8 M1737.8 935.0 V925.2 M1737.8 1573.0 V1582.8 M1841.0 935.0 V916.0 M1841.0 1573.0 V1592.0 M226.0 1089.4 H207.0 M1884.0 1089.4 H1903.0 M226.0 1259.2 H207.0 M1884.0 1259.2 H1903.0 M226.0 1429.0 H207.0 M1884.0 1429.0 H1903.0" stroke="#000" stroke-width="2.5" fill="none"/>
<rect x="226.0" y="935.0" width="1658.0" height="638.0" fill="none" stroke="#000" stroke-width="6"/>
<text transform="translate(190.8 1105.0) scale(1 1.035)" font-size="42.7" font-weight="bold" text-anchor="end">20</text>
<text transform="translate(190.8 1274.8) scale(1 1.035)" font-size="42.7" font-weight="bold" text-anchor="end">0</text>
<text transform="translate(190.8 1444.6) scale(1 1.035)" font-size="42.7" font-weight="bold" text-anchor="end">−20</text>
<text transform="translate(602.4 1639.3) scale(1 1.035)" font-size="42.7" font-weight="bold" text-anchor="middle">2023</text>
<text transform="translate(1015.3 1639.3) scale(1 1.035)" font-size="42.7" font-weight="bold" text-anchor="middle">2024</text>
<text transform="translate(1428.1 1639.3) scale(1 1.035)" font-size="42.7" font-weight="bold" text-anchor="middle">2025</text>
<text transform="translate(1841.0 1639.3) scale(1 1.035)" font-size="42.7" font-weight="bold" text-anchor="middle">2026</text>
<text transform="translate(90.0 1253.5) rotate(-90) scale(1 1.035)" font-size="42.7" text-anchor="middle">North (mm)</text>
<text transform="translate(1816.8 1554.0) scale(1 1.035)" font-size="35.5" font-weight="bold" text-anchor="end">16.365+/- 0.356 mm/yr</text>
<g fill="#00f" id="dots2">
<circle cx="258.8" cy="2104.1" r="6"/><circle cx="259.9" cy="2153.5" r="6"/><circle cx="261.0" cy="2114.2" r="6"/><circle cx="262.2" cy="2076.5" r="6"/><circle cx="263.3" cy="2091.4" r="6"/><circle cx="264.4" cy="2138.8" r="6"/><circle cx="265.6" cy="2099.8" r="6"/><circle cx="266.7" cy="2101.1" r="6"/><circle cx="267.8" cy="2124.4" r="6"/><circle cx="268.9" cy="2112.6" r="6"/><circle cx="270.1" cy="2051.3" r="6"/><circle cx="271.2" cy="2076.2" r="6"/><circle cx="272.3" cy="2143.0" r="6"/><circle cx="273.5" cy="2096.4" r="6"/><circle cx="333.0" cy="2130.9" r="6"/><circle cx="334.1" cy="2106.0" r="6"/><circle cx="335.3" cy="2101.6" r="6"/><circle cx="336.4" cy="2114.8" r="6"/><circle cx="337.5" cy="2123.8" r="6"/><circle cx="338.7" cy="2152.8" r="6"/><circle cx="339.8" cy="2102.0" r="6"/><circle cx="340.9" cy="2084.9" r="6"/><circle cx="342.0" cy="2061.3" r="6"/><circle cx="343.2" cy="2082.0" r="6"/><circle cx="344.3" cy="2122.7" r="6"/><circle cx="345.4" cy="2119.2" r="6"/><circle cx="346.6" cy="2174.1" r="6"/><circle cx="347.7" cy="2092.5" r="6"/><circle cx="348.8" cy="2120.0" r="6"/><circle cx="350.0" cy="2123.7" r="6"/><circle cx="351.1" cy="2127.6" r="6"/><circle cx="352.2" cy="2105.9" r="6"/><circle cx="353.3" cy="2095.4" r="6"/><circle cx="354.5" cy="2088.7" r="6"/><circle cx="355.6" cy="2144.8" r="6"/><circle cx="356.7" cy="2118.5" r="6"/><circle cx="357.9" cy="2046.5" r="6"/><circle cx="359.0" cy="2087.8" r="6"/><circle cx="360.1" cy="2062.4" r="6"/><circle cx="361.3" cy="2085.4" r="6"/><circle cx="362.4" cy="2005.8" r="6"/><circle cx="363.5" cy="1992.9" r="6"/><circle cx="364.7" cy="2106.5" r="6"/><circle cx="365.8" cy="2124.1" r="6"/><circle cx="366.9" cy="2060.5" r="6"/><circle cx="368.0" cy="2159.7" r="6"/><circle cx="369.2" cy="2032.6" r="6"/><circle cx="370.3" cy="2037.7" r="6"/><circle cx="372.6" cy="2076.8" r="6"/><circle cx="373.7" cy="1966.9" r="6"/><circle cx="374.8" cy="2040.5" r="6"/><circle cx="376.0" cy="2129.2" r="6"/><circle cx="377.1" cy="1963.0" r="6"/><circle cx="378.2" cy="2045.0" r="6"/><circle cx="379.3" cy="2020.2" r="6"/><circle cx="380.5" cy="2113.6" r="6"/><circle cx="381.6" cy="2108.3" r="6"/><circle cx="382.7" cy="2141.0" r="6"/><circle cx="383.9" cy="2127.2" r="6"/><circle cx="385.0" cy="2019.2" r="6"/><circle cx="386.1" cy="2034.6" r="6"/><circle cx="387.3" cy="2140.8" r="6"/><circle cx="388.4" cy="2053.4" r="6"/><circle cx="389.5" cy="2060.9" r="6"/><circle cx="390.7" cy="2094.8" r="6"/><circle cx="391.8" cy="2032.1" r="6"/><circle cx="392.9" cy="2096.4" r="6"/><circle cx="394.0" cy="1998.2" r="6"/><circle cx="395.2" cy="2076.7" r="6"/><circle cx="396.3" cy="2047.9" r="6"/><circle cx="397.4" cy="2095.0" r="6"/><circle cx="398.6" cy="2087.3" r="6"/><circle cx="399.7" cy="2056.8" r="6"/><circle cx="400.8" cy="2075.7" r="6"/><circle cx="402.0" cy="2063.7" r="6"/><circle cx="403.1" cy="2111.3" r="6"/><circle cx="404.2" cy="2025.4" r="6"/><circle cx="405.3" cy="2122.6" r="6"/><circle cx="406.5" cy="2087.5" r="6"/><circle cx="407.6" cy="2003.0" r="6"/><circle cx="408.7" cy="2004.3" r="6"/><circle cx="409.9" cy="2056.0" r="6"/><circle cx="411.0" cy="2125.4" r="6"/><circle cx="412.1" cy="2151.6" r="6"/><circle cx="413.3" cy="2020.0" r="6"/><circle cx="414.4" cy="2027.7" r="6"/><circle cx="415.5" cy="2053.7" r="6"/><circle cx="416.7" cy="2048.6" r="6"/><circle cx="417.8" cy="1934.4" r="6"/><circle cx="420.0" cy="1986.6" r="6"/><circle cx="421.2" cy="2016.5" r="6"/><circle cx="422.3" cy="2040.7" r="6"/><circle cx="423.4" cy="2065.5" r="6"/><circle cx="424.6" cy="2031.7" r="6"/><circle cx="425.7" cy="2063.5" r="6"/><circle cx="426.8" cy="2035.5" r="6"/><circle cx="428.0" cy="2047.7" r="6"/><circle cx="429.1" cy="1984.4" r="6"/><circle cx="430.2" cy="1997.2" r="6"/><circle cx="431.3" cy="2068.9" r="6"/><circle cx="432.5" cy="2035.2" r="6"/><circle cx="433.6" cy="2022.0" r="6"/><circle cx="434.7" cy="2050.5" r="6"/><circle cx="435.9" cy="2091.4" r="6"/><circle cx="437.0" cy="2027.5" r="6"/><circle cx="438.1" cy="2059.6" r="6"/><circle cx="439.3" cy="1927.2" r="6"/><circle cx="440.4" cy="1980.8" r="6"/><circle cx="441.5" cy="2040.8" r="6"/><circle cx="442.6" cy="2114.5" r="6"/><circle cx="443.8" cy="1985.1" r="6"/><circle cx="444.9" cy="2108.7" r="6"/><circle cx="447.2" cy="1987.3" r="6"/><circle cx="448.3" cy="2001.2" r="6"/><circle cx="449.4" cy="2049.8" r="6"/><circle cx="450.6" cy="2029.9" r="6"/><circle cx="451.7" cy="1921.4" r="6"/><circle cx="452.8" cy="2031.2" r="6"/><circle cx="454.0" cy="2125.3" r="6"/><circle cx="455.1" cy="2108.1" r="6"/><circle cx="456.2" cy="2019.7" r="6"/><circle cx="458.5" cy="1989.2" r="6"/><circle cx="459.6" cy="1960.4" r="6"/><circle cx="460.7" cy="1991.7" r="6"/><circle cx="461.9" cy="2044.8" r="6"/><circle cx="463.0" cy="2033.9" r="6"/><circle cx="464.1" cy="2041.6" r="6"/><circle cx="465.3" cy="2044.3" r="6"/><circle cx="466.4" cy="2086.0" r="6"/><circle cx="467.5" cy="1971.4" r="6"/><circle cx="468.6" cy="1951.9" r="6"/><circle cx="469.8" cy="2031.7" r="6"/><circle cx="470.9" cy="2018.6" r="6"/><circle cx="472.0" cy="2086.4" r="6"/><circle cx="473.2" cy="1993.8" r="6"/><circle cx="474.3" cy="2057.9" r="6"/><circle cx="475.4" cy="2069.2" r="6"/><circle cx="476.6" cy="1979.6" r="6"/><circle cx="477.7" cy="2016.2" r="6"/><circle cx="478.8" cy="2037.7" r="6"/><circle cx="480.0" cy="2100.8" r="6"/><circle cx="481.1" cy="2003.3" r="6"/><circle cx="482.2" cy="1911.0" r="6"/><circle cx="484.5" cy="1984.2" r="6"/><circle cx="485.6" cy="2002.9" r="6"/><circle cx="486.7" cy="1952.0" r="6"/><circle cx="487.9" cy="1889.5" r="6"/><circle cx="489.0" cy="1970.5" r="6"/><circle cx="490.1" cy="1933.0" r="6"/><circle cx="491.3" cy="1985.1" r="6"/><circle cx="492.4" cy="1978.5" r="6"/><circle cx="493.5" cy="1980.5" r="6"/><circle cx="494.6" cy="1941.6" r="6"/><circle cx="495.8" cy="2026.6" r="6"/><circle cx="496.9" cy="1982.2" r="6"/><circle cx="498.0" cy="1977.1" r="6"/><circle cx="499.2" cy="1997.0" r="6"/><circle cx="500.3" cy="2025.4" r="6"/><circle cx="501.4" cy="1939.0" r="6"/><circle cx="502.6" cy="2025.2" r="6"/><circle cx="503.7" cy="2083.0" r="6"/><circle cx="504.8" cy="1933.2" r="6"/><circle cx="505.9" cy="2064.1" r="6"/><circle cx="507.1" cy="1922.2" r="6"/><circle cx="508.2" cy="2060.8" r="6"/><circle cx="509.3" cy="1990.7" r="6"/><circle cx="510.5" cy="1878.1" r="6"/><circle cx="511.6" cy="2005.8" r="6"/><circle cx="512.7" cy="1925.0" r="6"/><circle cx="513.9" cy="2006.0" r="6"/><circle cx="515.0" cy="2045.7" r="6"/><circle cx="516.1" cy="2005.3" r="6"/><circle cx="517.3" cy="1939.8" r="6"/><circle cx="519.5" cy="1938.8" r="6"/><circle cx="520.6" cy="1916.1" r="6"/><circle cx="521.8" cy="1948.2" r="6"/><circle cx="522.9" cy="2003.9" r="6"/><circle cx="524.0" cy="2126.7" r="6"/><circle cx="525.2" cy="2039.4" r="6"/><circle cx="526.3" cy="1900.7" r="6"/><circle cx="527.4" cy="2103.4" r="6"/><circle cx="528.6" cy="1976.8" r="6"/><circle cx="529.7" cy="1976.9" r="6"/><circle cx="530.8" cy="2117.1" r="6"/><circle cx="531.9" cy="1987.8" r="6"/><circle cx="533.1" cy="2056.6" r="6"/><circle cx="534.2" cy="2014.5" r="6"/><circle cx="535.3" cy="2029.4" r="6"/><circle cx="536.5" cy="2026.8" r="6"/><circle cx="537.6" cy="2083.8" r="6"/><circle cx="538.7" cy="2149.5" r="6"/><circle cx="539.9" cy="1911.1" r="6"/><circle cx="541.0" cy="2045.5" r="6"/><circle cx="542.1" cy="2019.9" r="6"/><circle cx="543.3" cy="2030.1" r="6"/><circle cx="544.4" cy="2039.2" r="6"/><circle cx="545.5" cy="2048.7" r="6"/><circle cx="546.6" cy="1982.9" r="6"/><circle cx="547.8" cy="2026.4" r="6"/><circle cx="548.9" cy="2057.9" r="6"/><circle cx="550.0" cy="2081.0" r="6"/><circle cx="551.2" cy="2021.6" r="6"/><circle cx="552.3" cy="2106.4" r="6"/><circle cx="553.4" cy="2023.2" r="6"/><circle cx="554.6" cy="1960.6" r="6"/><circle cx="555.7" cy="1982.7" r="6"/><circle cx="556.8" cy="1990.9" r="6"/><circle cx="557.9" cy="2131.1" r="6"/><circle cx="559.1" cy="2001.5" r="6"/><circle cx="560.2" cy="2029.2" r="6"/><circle cx="561.3" cy="1958.8" r="6"/><circle cx="562.5" cy="2078.4" r="6"/><circle cx="563.6" cy="2071.5" r="6"/><circle cx="564.7" cy="1964.1" r="6"/><circle cx="565.9" cy="2108.2" r="6"/><circle cx="567.0" cy="1992.1" r="6"/><circle cx="568.1" cy="2022.9" r="6"/><circle cx="569.3" cy="2189.1" r="6"/><circle cx="570.4" cy="2085.3" r="6"/><circle cx="571.5" cy="2103.4" r="6"/><circle cx="572.6" cy="2157.4" r="6"/><circle cx="573.8" cy="2182.9" r="6"/><circle cx="574.9" cy="2070.0" r="6"/><circle cx="576.0" cy="2122.3" r="6"/><circle cx="577.2" cy="2096.7" r="6"/><circle cx="578.3" cy="2124.0" r="6"/><circle cx="579.4" cy="2086.7" r="6"/><circle cx="580.6" cy="2038.9" r="6"/><circle cx="581.7" cy="2021.8" r="6"/><circle cx="582.8" cy="2045.8" r="6"/><circle cx="583.9" cy="2116.0" r="6"/><circle cx="585.1" cy="2086.4" r="6"/><circle cx="586.2" cy="2045.5" r="6"/><circle cx="587.3" cy="2007.3" r="6"/><circle cx="588.5" cy="2093.2" r="6"/><circle cx="589.6" cy="2147.3" r="6"/><circle cx="590.7" cy="2063.5" r="6"/><circle cx="591.9" cy="2046.9" r="6"/><circle cx="593.0" cy="2132.7" r="6"/><circle cx="594.1" cy="2038.2" r="6"/><circle cx="595.2" cy="2130.8" r="6"/><circle cx="596.4" cy="2098.5" r="6"/><circle cx="597.5" cy="2072.6" r="6"/><circle cx="598.6" cy="2008.5" r="6"/><circle cx="599.8" cy="2160.3" r="6"/><circle cx="600.9" cy="2070.0" r="6"/><circle cx="603.2" cy="2063.9" r="6"/><circle cx="604.3" cy="2117.2" r="6"/><circle cx="605.4" cy="2070.6" r="6"/><circle cx="606.6" cy="2180.3" r="6"/><circle cx="607.7" cy="2182.7" r="6"/><circle cx="608.8" cy="2203.7" r="6"/><circle cx="609.9" cy="2173.8" r="6"/><circle cx="611.1" cy="2185.8" r="6"/><circle cx="612.2" cy="2105.6" r="6"/><circle cx="613.3" cy="2121.1" r="6"/><circle cx="614.5" cy="2220.1" r="6"/><circle cx="615.6" cy="2054.6" r="6"/><circle cx="616.7" cy="2122.4" r="6"/><circle cx="617.9" cy="2209.3" r="6"/><circle cx="619.0" cy="2219.1" r="6"/><circle cx="620.1" cy="2138.0" r="6"/><circle cx="621.2" cy="2070.8" r="6"/><circle cx="622.4" cy="2164.9" r="6"/><circle cx="623.5" cy="2116.9" r="6"/><circle cx="624.6" cy="2089.7" r="6"/><circle cx="625.8" cy="2129.2" r="6"/><circle cx="626.9" cy="2191.5" r="6"/><circle cx="628.0" cy="2250.5" r="6"/><circle cx="629.2" cy="2219.7" r="6"/><circle cx="630.3" cy="2126.3" r="6"/><circle cx="631.4" cy="2198.1" r="6"/><circle cx="632.6" cy="2237.2" r="6"/><circle cx="633.7" cy="2200.5" r="6"/><circle cx="634.8" cy="2181.1" r="6"/><circle cx="635.9" cy="2131.0" r="6"/><circle cx="637.1" cy="2220.0" r="6"/><circle cx="638.2" cy="2092.5" r="6"/><circle cx="639.3" cy="2169.1" r="6"/><circle cx="640.5" cy="2163.6" r="6"/><circle cx="641.6" cy="2242.2" r="6"/><circle cx="642.7" cy="2167.8" r="6"/><circle cx="643.9" cy="2181.9" r="6"/><circle cx="645.0" cy="2142.4" r="6"/><circle cx="646.1" cy="2205.4" r="6"/><circle cx="647.2" cy="2171.9" r="6"/><circle cx="648.4" cy="2243.7" r="6"/><circle cx="649.5" cy="2229.4" r="6"/><circle cx="650.6" cy="2135.0" r="6"/><circle cx="651.8" cy="2197.9" r="6"/><circle cx="652.9" cy="2216.6" r="6"/><circle cx="654.0" cy="2127.5" r="6"/><circle cx="655.2" cy="2193.8" r="6"/><circle cx="656.3" cy="2189.2" r="6"/><circle cx="657.4" cy="2174.9" r="6"/><circle cx="658.6" cy="2150.2" r="6"/><circle cx="659.7" cy="2194.5" r="6"/><circle cx="660.8" cy="2113.1" r="6"/><circle cx="661.9" cy="2152.5" r="6"/><circle cx="663.1" cy="2155.0" r="6"/><circle cx="664.2" cy="2173.4" r="6"/><circle cx="665.3" cy="2108.3" r="6"/><circle cx="666.5" cy="2084.8" r="6"/><circle cx="667.6" cy="2171.3" r="6"/><circle cx="668.7" cy="2140.0" r="6"/><circle cx="669.9" cy="2147.0" r="6"/><circle cx="671.0" cy="2194.9" r="6"/><circle cx="672.1" cy="2106.6" r="6"/><circle cx="673.2" cy="2203.6" r="6"/><circle cx="674.4" cy="2178.4" r="6"/><circle cx="675.5" cy="2159.3" r="6"/><circle cx="676.6" cy="2108.5" r="6"/><circle cx="677.8" cy="2126.1" r="6"/><circle cx="678.9" cy="2061.1" r="6"/><circle cx="680.0" cy="2042.0" r="6"/><circle cx="681.2" cy="2092.4" r="6"/><circle cx="682.3" cy="2154.2" r="6"/><circle cx="683.4" cy="2069.0" r="6"/><circle cx="684.5" cy="2120.7" r="6"/><circle cx="685.7" cy="2105.9" r="6"/><circle cx="686.8" cy="2089.0" r="6"/><circle cx="687.9" cy="2012.9" r="6"/><circle cx="689.1" cy="2087.5" r="6"/><circle cx="690.2" cy="2036.7" r="6"/><circle cx="691.3" cy="2107.0" r="6"/><circle cx="692.5" cy="2039.2" r="6"/><circle cx="693.6" cy="2027.4" r="6"/><circle cx="694.7" cy="2133.0" r="6"/><circle cx="695.9" cy="2090.9" r="6"/><circle cx="697.0" cy="2137.2" r="6"/><circle cx="698.1" cy="2133.3" r="6"/><circle cx="699.2" cy="2104.3" r="6"/><circle cx="700.4" cy="2096.1" r="6"/><circle cx="701.5" cy="2135.7" r="6"/><circle cx="702.6" cy="2099.8" r="6"/><circle cx="703.8" cy="2157.1" r="6"/><circle cx="704.9" cy="2103.4" r="6"/><circle cx="706.0" cy="2095.7" r="6"/><circle cx="707.2" cy="2115.1" r="6"/><circle cx="708.3" cy="2162.0" r="6"/><circle cx="709.4" cy="2122.5" r="6"/><circle cx="710.5" cy="2073.2" r="6"/><circle cx="711.7" cy="2048.2" r="6"/><circle cx="712.8" cy="2047.3" r="6"/><circle cx="713.9" cy="2043.6" r="6"/><circle cx="715.1" cy="2013.6" r="6"/><circle cx="716.2" cy="2115.0" r="6"/><circle cx="717.3" cy="2044.8" r="6"/><circle cx="718.5" cy="2134.7" r="6"/><circle cx="719.6" cy="2020.8" r="6"/><circle cx="720.7" cy="2058.1" r="6"/><circle cx="721.9" cy="2151.6" r="6"/><circle cx="723.0" cy="2058.5" r="6"/><circle cx="724.1" cy="2049.9" r="6"/><circle cx="725.2" cy="2131.9" r="6"/><circle cx="726.4" cy="2085.4" r="6"/><circle cx="727.5" cy="2056.2" r="6"/><circle cx="728.6" cy="2000.7" r="6"/><circle cx="729.8" cy="2119.0" r="6"/><circle cx="730.9" cy="2020.4" r="6"/><circle cx="732.0" cy="2139.0" r="6"/><circle cx="733.2" cy="2124.5" r="6"/><circle cx="734.3" cy="2026.5" r="6"/><circle cx="735.4" cy="2056.1" r="6"/><circle cx="736.5" cy="2128.7" r="6"/><circle cx="737.7" cy="2035.1" r="6"/><circle cx="738.8" cy="2070.0" r="6"/><circle cx="739.9" cy="2071.9" r="6"/><circle cx="741.1" cy="2104.8" r="6"/><circle cx="742.2" cy="1985.4" r="6"/><circle cx="743.3" cy="2087.7" r="6"/><circle cx="745.6" cy="2033.8" r="6"/><circle cx="746.7" cy="2090.3" r="6"/><circle cx="747.9" cy="2051.1" r="6"/><circle cx="749.0" cy="2082.5" r="6"/><circle cx="750.1" cy="2011.6" r="6"/><circle cx="751.2" cy="2067.9" r="6"/><circle cx="752.4" cy="2060.6" r="6"/><circle cx="753.5" cy="2135.0" r="6"/><circle cx="754.6" cy="2077.7" r="6"/><circle cx="755.8" cy="2062.3" r="6"/><circle cx="756.9" cy="2021.8" r="6"/><circle cx="758.0" cy="2037.0" r="6"/><circle cx="759.2" cy="2021.7" r="6"/><circle cx="760.3" cy="2142.7" r="6"/><circle cx="761.4" cy="2074.2" r="6"/><circle cx="762.5" cy="2179.2" r="6"/><circle cx="763.7" cy="2055.2" r="6"/><circle cx="764.8" cy="2150.9" r="6"/><circle cx="765.9" cy="2013.4" r="6"/><circle cx="767.1" cy="2062.0" r="6"/><circle cx="768.2" cy="2090.9" r="6"/><circle cx="769.3" cy="2108.9" r="6"/><circle cx="770.5" cy="2058.0" r="6"/><circle cx="771.6" cy="2105.8" r="6"/><circle cx="772.7" cy="2159.9" r="6"/><circle cx="773.8" cy="2062.1" r="6"/><circle cx="775.0" cy="2121.9" r="6"/><circle cx="776.1" cy="2053.2" r="6"/><circle cx="777.2" cy="2123.1" r="6"/><circle cx="778.4" cy="2144.9" r="6"/><circle cx="779.5" cy="2035.2" r="6"/><circle cx="780.6" cy="2051.8" r="6"/><circle cx="781.8" cy="2016.0" r="6"/><circle cx="782.9" cy="2084.3" r="6"/><circle cx="784.0" cy="2066.2" r="6"/><circle cx="785.2" cy="2064.6" r="6"/><circle cx="786.3" cy="1964.4" r="6"/><circle cx="787.4" cy="2039.0" r="6"/><circle cx="788.5" cy="2069.2" r="6"/><circle cx="789.7" cy="2085.3" r="6"/><circle cx="790.8" cy="2078.1" r="6"/><circle cx="791.9" cy="2015.7" r="6"/><circle cx="793.1" cy="2061.1" r="6"/><circle cx="794.2" cy="2067.4" r="6"/><circle cx="795.3" cy="1985.7" r="6"/><circle cx="796.5" cy="2025.7" r="6"/><circle cx="797.6" cy="2023.5" r="6"/><circle cx="798.7" cy="1958.5" r="6"/><circle cx="799.8" cy="2067.3" r="6"/><circle cx="801.0" cy="2117.0" r="6"/><circle cx="802.1" cy="2146.6" r="6"/><circle cx="803.2" cy="2043.4" r="6"/><circle cx="804.4" cy="2036.7" r="6"/><circle cx="805.5" cy="2001.6" r="6"/><circle cx="806.6" cy="2128.5" r="6"/><circle cx="807.8" cy="2140.6" r="6"/><circle cx="808.9" cy="2074.8" r="6"/><circle cx="810.0" cy="2085.7" r="6"/><circle cx="811.2" cy="2127.8" r="6"/><circle cx="812.3" cy="2064.9" r="6"/><circle cx="813.4" cy="2016.0" r="6"/><circle cx="814.5" cy="2080.4" r="6"/><circle cx="815.7" cy="2099.7" r="6"/><circle cx="816.8" cy="2020.4" r="6"/><circle cx="817.9" cy="2112.2" r="6"/><circle cx="819.1" cy="2077.5" r="6"/><circle cx="820.2" cy="2156.0" r="6"/><circle cx="821.3" cy="1956.0" r="6"/><circle cx="822.5" cy="2082.3" r="6"/><circle cx="823.6" cy="2066.2" r="6"/><circle cx="824.7" cy="1996.6" r="6"/><circle cx="825.8" cy="2067.9" r="6"/><circle cx="827.0" cy="2089.0" r="6"/><circle cx="828.1" cy="2045.7" r="6"/><circle cx="829.2" cy="1974.1" r="6"/><circle cx="830.4" cy="1984.3" r="6"/><circle cx="831.5" cy="2120.7" r="6"/><circle cx="832.6" cy="2134.0" r="6"/><circle cx="833.8" cy="2013.6" r="6"/><circle cx="834.9" cy="2058.4" r="6"/><circle cx="836.0" cy="2049.6" r="6"/><circle cx="837.2" cy="1969.7" r="6"/><circle cx="838.3" cy="1995.8" r="6"/><circle cx="839.4" cy="2050.7" r="6"/><circle cx="840.5" cy="1959.6" r="6"/><circle cx="841.7" cy="2039.5" r="6"/><circle cx="843.9" cy="2056.5" r="6"/><circle cx="845.1" cy="1914.2" r="6"/><circle cx="846.2" cy="2057.3" r="6"/><circle cx="847.3" cy="1993.3" r="6"/><circle cx="848.5" cy="2044.2" r="6"/><circle cx="849.6" cy="2065.7" r="6"/><circle cx="850.7" cy="2112.9" r="6"/><circle cx="851.8" cy="2108.9" r="6"/><circle cx="853.0" cy="1948.8" r="6"/><circle cx="854.1" cy="1893.2" r="6"/><circle cx="855.2" cy="1978.7" r="6"/><circle cx="857.5" cy="1992.1" r="6"/><circle cx="858.6" cy="2061.6" r="6"/><circle cx="859.8" cy="2043.7" r="6"/><circle cx="860.9" cy="1946.9" r="6"/><circle cx="862.0" cy="1960.5" r="6"/><circle cx="863.1" cy="1987.4" r="6"/><circle cx="864.3" cy="2009.6" r="6"/><circle cx="865.4" cy="1964.5" r="6"/><circle cx="866.5" cy="2022.5" r="6"/><circle cx="867.7" cy="2070.5" r="6"/><circle cx="868.8" cy="2082.5" r="6"/><circle cx="869.9" cy="2048.2" r="6"/><circle cx="871.1" cy="2060.5" r="6"/><circle cx="872.2" cy="2030.0" r="6"/><circle cx="873.3" cy="2142.7" r="6"/><circle cx="874.5" cy="1989.9" r="6"/><circle cx="875.6" cy="1962.1" r="6"/><circle cx="876.7" cy="1962.0" r="6"/><circle cx="877.8" cy="2026.6" r="6"/><circle cx="879.0" cy="2050.8" r="6"/><circle cx="880.1" cy="2029.4" r="6"/><circle cx="881.2" cy="2011.6" r="6"/><circle cx="882.4" cy="2062.5" r="6"/><circle cx="883.5" cy="1959.8" r="6"/><circle cx="884.6" cy="2060.6" r="6"/><circle cx="885.8" cy="1996.4" r="6"/><circle cx="886.9" cy="1989.4" r="6"/><circle cx="888.0" cy="1973.7" r="6"/><circle cx="889.1" cy="2028.4" r="6"/><circle cx="890.3" cy="1958.7" r="6"/><circle cx="891.4" cy="1946.0" r="6"/><circle cx="893.7" cy="2006.7" r="6"/><circle cx="894.8" cy="2006.2" r="6"/><circle cx="895.9" cy="2106.9" r="6"/><circle cx="897.1" cy="2004.1" r="6"/><circle cx="898.2" cy="2013.8" r="6"/><circle cx="899.3" cy="1960.8" r="6"/><circle cx="900.5" cy="2026.2" r="6"/><circle cx="901.6" cy="2056.1" r="6"/><circle cx="902.7" cy="2003.5" r="6"/><circle cx="903.8" cy="2035.0" r="6"/><circle cx="905.0" cy="1991.9" r="6"/><circle cx="907.2" cy="2082.7" r="6"/><circle cx="908.4" cy="2006.5" r="6"/><circle cx="909.5" cy="2027.6" r="6"/><circle cx="910.6" cy="1924.8" r="6"/><circle cx="911.8" cy="2006.8" r="6"/><circle cx="912.9" cy="2045.3" r="6"/><circle cx="914.0" cy="2012.9" r="6"/><circle cx="915.1" cy="2078.2" r="6"/><circle cx="916.3" cy="2006.7" r="6"/><circle cx="917.4" cy="2095.3" r="6"/><circle cx="918.5" cy="2047.2" r="6"/><circle cx="919.7" cy="2014.6" r="6"/><circle cx="920.8" cy="2125.4" r="6"/><circle cx="921.9" cy="2121.3" r="6"/><circle cx="923.1" cy="2089.3" r="6"/><circle cx="924.2" cy="1930.9" r="6"/><circle cx="926.4" cy="1975.3" r="6"/><circle cx="927.6" cy="2038.8" r="6"/><circle cx="928.7" cy="1979.8" r="6"/><circle cx="929.8" cy="1978.0" r="6"/><circle cx="931.0" cy="2052.3" r="6"/><circle cx="932.1" cy="2087.4" r="6"/><circle cx="933.2" cy="1955.8" r="6"/><circle cx="934.4" cy="2088.8" r="6"/><circle cx="935.5" cy="1997.8" r="6"/><circle cx="936.6" cy="2145.5" r="6"/><circle cx="937.8" cy="2046.2" r="6"/><circle cx="938.9" cy="2104.1" r="6"/><circle cx="940.0" cy="1998.4" r="6"/><circle cx="941.1" cy="2004.3" r="6"/><circle cx="942.3" cy="2027.5" r="6"/><circle cx="944.5" cy="2003.0" r="6"/><circle cx="945.7" cy="2089.8" r="6"/><circle cx="946.8" cy="2021.1" r="6"/><circle cx="947.9" cy="2014.0" r="6"/><circle cx="949.1" cy="2104.6" r="6"/><circle cx="950.2" cy="2012.3" r="6"/><circle cx="951.3" cy="2036.5" r="6"/><circle cx="952.4" cy="2047.5" r="6"/><circle cx="953.6" cy="2100.9" r="6"/><circle cx="954.7" cy="2088.5" r="6"/><circle cx="955.8" cy="2043.4" r="6"/><circle cx="957.0" cy="2075.5" r="6"/><circle cx="958.1" cy="2054.8" r="6"/><circle cx="959.2" cy="2185.2" r="6"/><circle cx="960.4" cy="2012.8" r="6"/><circle cx="961.5" cy="2148.4" r="6"/><circle cx="962.6" cy="2022.9" r="6"/><circle cx="963.8" cy="2187.1" r="6"/><circle cx="964.9" cy="2120.4" r="6"/><circle cx="966.0" cy="2063.4" r="6"/><circle cx="967.1" cy="2065.5" r="6"/><circle cx="968.3" cy="2117.8" r="6"/><circle cx="969.4" cy="2141.4" r="6"/><circle cx="970.5" cy="2055.5" r="6"/><circle cx="971.7" cy="2050.6" r="6"/><circle cx="972.8" cy="2186.8" r="6"/><circle cx="973.9" cy="2201.6" r="6"/><circle cx="975.1" cy="2170.0" r="6"/><circle cx="976.2" cy="2133.1" r="6"/><circle cx="977.3" cy="2227.6" r="6"/><circle cx="978.4" cy="2181.9" r="6"/><circle cx="979.6" cy="2054.4" r="6"/><circle cx="980.7" cy="2163.2" r="6"/><circle cx="981.8" cy="2184.8" r="6"/><circle cx="983.0" cy="2030.6" r="6"/><circle cx="984.1" cy="2051.2" r="6"/><circle cx="985.2" cy="2032.7" r="6"/><circle cx="986.4" cy="2135.9" r="6"/><circle cx="987.5" cy="2130.0" r="6"/><circle cx="988.6" cy="2154.5" r="6"/><circle cx="989.8" cy="2211.4" r="6"/><circle cx="990.9" cy="2280.5" r="6"/><circle cx="992.0" cy="2145.1" r="6"/><circle cx="993.1" cy="2211.3" r="6"/><circle cx="994.3" cy="2133.4" r="6"/><circle cx="995.4" cy="2117.7" r="6"/><circle cx="996.5" cy="2259.5" r="6"/><circle cx="997.7" cy="2245.8" r="6"/><circle cx="998.8" cy="2128.7" r="6"/><circle cx="999.9" cy="2067.1" r="6"/><circle cx="1001.1" cy="2075.0" r="6"/><circle cx="1002.2" cy="2207.5" r="6"/><circle cx="1003.3" cy="2166.4" r="6"/><circle cx="1004.4" cy="2091.0" r="6"/><circle cx="1005.6" cy="2219.0" r="6"/><circle cx="1006.7" cy="2223.9" r="6"/><circle cx="1007.8" cy="2084.5" r="6"/><circle cx="1009.0" cy="2216.9" r="6"/><circle cx="1010.1" cy="2244.0" r="6"/><circle cx="1011.2" cy="2076.1" r="6"/><circle cx="1012.4" cy="2214.0" r="6"/><circle cx="1013.5" cy="2206.3" r="6"/><circle cx="1015.7" cy="2126.0" r="6"/><circle cx="1016.9" cy="2082.3" r="6"/><circle cx="1018.0" cy="2119.8" r="6"/><circle cx="1019.1" cy="2152.5" r="6"/><circle cx="1020.3" cy="2143.2" r="6"/><circle cx="1021.4" cy="2148.5" r="6"/><circle cx="1022.5" cy="2167.3" r="6"/><circle cx="1023.7" cy="2288.5" r="6"/><circle cx="1024.8" cy="2159.8" r="6"/><circle cx="1025.9" cy="2292.4" r="6"/><circle cx="1027.1" cy="2240.1" r="6"/><circle cx="1028.2" cy="2187.6" r="6"/><circle cx="1029.3" cy="2199.3" r="6"/><circle cx="1030.4" cy="2143.9" r="6"/><circle cx="1031.6" cy="2171.4" r="6"/><circle cx="1032.7" cy="2164.9" r="6"/><circle cx="1033.8" cy="2077.6" r="6"/><circle cx="1035.0" cy="2272.5" r="6"/><circle cx="1036.1" cy="2113.9" r="6"/><circle cx="1037.2" cy="2098.8" r="6"/><circle cx="1038.4" cy="2225.3" r="6"/><circle cx="1039.5" cy="2214.5" r="6"/><circle cx="1040.6" cy="2198.7" r="6"/><circle cx="1041.7" cy="2154.8" r="6"/><circle cx="1042.9" cy="2210.6" r="6"/><circle cx="1044.0" cy="2214.8" r="6"/><circle cx="1045.1" cy="2195.6" r="6"/><circle cx="1046.3" cy="2185.3" r="6"/><circle cx="1047.4" cy="2095.7" r="6"/><circle cx="1048.5" cy="2218.7" r="6"/><circle cx="1049.7" cy="2127.5" r="6"/><circle cx="1050.8" cy="2129.0" r="6"/><circle cx="1051.9" cy="2172.3" r="6"/><circle cx="1053.1" cy="2192.7" r="6"/><circle cx="1054.2" cy="2237.9" r="6"/><circle cx="1055.3" cy="2214.2" r="6"/><circle cx="1056.4" cy="2137.6" r="6"/><circle cx="1057.6" cy="2148.4" r="6"/><circle cx="1058.7" cy="2174.3" r="6"/><circle cx="1059.8" cy="2107.3" r="6"/><circle cx="1061.0" cy="2162.4" r="6"/><circle cx="1062.1" cy="2165.9" r="6"/><circle cx="1063.2" cy="2183.2" r="6"/><circle cx="1064.4" cy="2095.3" r="6"/><circle cx="1065.5" cy="2134.6" r="6"/><circle cx="1066.6" cy="2155.8" r="6"/><circle cx="1068.9" cy="2265.0" r="6"/><circle cx="1070.0" cy="2092.8" r="6"/><circle cx="1071.1" cy="2281.2" r="6"/><circle cx="1072.3" cy="2142.8" r="6"/><circle cx="1073.4" cy="2225.8" r="6"/><circle cx="1074.5" cy="2264.3" r="6"/><circle cx="1075.7" cy="2122.1" r="6"/><circle cx="1076.8" cy="2147.6" r="6"/><circle cx="1077.9" cy="2156.2" r="6"/><circle cx="1079.1" cy="2202.5" r="6"/><circle cx="1080.2" cy="2221.5" r="6"/><circle cx="1081.3" cy="2254.5" r="6"/><circle cx="1082.4" cy="2180.7" r="6"/><circle cx="1083.6" cy="2197.6" r="6"/><circle cx="1084.7" cy="2271.4" r="6"/><circle cx="1085.8" cy="2214.5" r="6"/><circle cx="1087.0" cy="2174.9" r="6"/><circle cx="1088.1" cy="2219.6" r="6"/><circle cx="1089.2" cy="2068.2" r="6"/><circle cx="1090.4" cy="2252.6" r="6"/><circle cx="1091.5" cy="2041.4" r="6"/><circle cx="1092.6" cy="2095.1" r="6"/><circle cx="1093.7" cy="2207.4" r="6"/><circle cx="1094.9" cy="2071.3" r="6"/><circle cx="1096.0" cy="2083.2" r="6"/><circle cx="1097.1" cy="2068.5" r="6"/><circle cx="1098.3" cy="2146.5" r="6"/><circle cx="1099.4" cy="2185.9" r="6"/><circle cx="1100.5" cy="2259.4" r="6"/><circle cx="1101.7" cy="2131.5" r="6"/><circle cx="1102.8" cy="2168.9" r="6"/><circle cx="1103.9" cy="2203.6" r="6"/><circle cx="1105.0" cy="2036.1" r="6"/><circle cx="1106.2" cy="2135.5" r="6"/><circle cx="1107.3" cy="2261.5" r="6"/><circle cx="1108.4" cy="2161.8" r="6"/><circle cx="1109.6" cy="2128.2" r="6"/><circle cx="1110.7" cy="2232.9" r="6"/><circle cx="1111.8" cy="2147.5" r="6"/><circle cx="1113.0" cy="2180.8" r="6"/><circle cx="1114.1" cy="2235.5" r="6"/><circle cx="1115.2" cy="2120.6" r="6"/><circle cx="1116.4" cy="2097.3" r="6"/><circle cx="1117.5" cy="2141.1" r="6"/><circle cx="1118.6" cy="2106.6" r="6"/><circle cx="1119.7" cy="2175.5" r="6"/><circle cx="1120.9" cy="2152.5" r="6"/><circle cx="1122.0" cy="2253.3" r="6"/><circle cx="1123.1" cy="2199.5" r="6"/><circle cx="1124.3" cy="2029.2" r="6"/><circle cx="1125.4" cy="2107.4" r="6"/><circle cx="1126.5" cy="2166.3" r="6"/><circle cx="1127.7" cy="2167.3" r="6"/><circle cx="1128.8" cy="2215.9" r="6"/><circle cx="1129.9" cy="2163.9" r="6"/><circle cx="1131.0" cy="2210.6" r="6"/><circle cx="1132.2" cy="2128.1" r="6"/><circle cx="1133.3" cy="2235.8" r="6"/><circle cx="1134.4" cy="2149.7" r="6"/><circle cx="1135.6" cy="2121.2" r="6"/><circle cx="1136.7" cy="2185.4" r="6"/><circle cx="1137.8" cy="2138.5" r="6"/><circle cx="1139.0" cy="2132.8" r="6"/><circle cx="1140.1" cy="2167.1" r="6"/><circle cx="1141.2" cy="2229.8" r="6"/><circle cx="1142.4" cy="2086.8" r="6"/><circle cx="1143.5" cy="2147.9" r="6"/><circle cx="1144.6" cy="2184.3" r="6"/><circle cx="1145.7" cy="2091.5" r="6"/><circle cx="1146.9" cy="2210.6" r="6"/><circle cx="1148.0" cy="2177.4" r="6"/><circle cx="1149.1" cy="2200.1" r="6"/><circle cx="1150.3" cy="2225.4" r="6"/><circle cx="1151.4" cy="2181.7" r="6"/><circle cx="1152.5" cy="2215.8" r="6"/><circle cx="1153.7" cy="2082.1" r="6"/><circle cx="1154.8" cy="2199.2" r="6"/><circle cx="1155.9" cy="2077.6" r="6"/><circle cx="1157.0" cy="2208.0" r="6"/><circle cx="1158.2" cy="2161.3" r="6"/><circle cx="1159.3" cy="2159.6" r="6"/><circle cx="1160.4" cy="2210.1" r="6"/><circle cx="1161.6" cy="2107.3" r="6"/><circle cx="1162.7" cy="2187.1" r="6"/><circle cx="1163.8" cy="2186.0" r="6"/><circle cx="1165.0" cy="2108.2" r="6"/><circle cx="1166.1" cy="2197.6" r="6"/><circle cx="1167.2" cy="2112.0" r="6"/><circle cx="1168.4" cy="2091.2" r="6"/><circle cx="1169.5" cy="2105.2" r="6"/><circle cx="1170.6" cy="2060.4" r="6"/><circle cx="1171.7" cy="2181.2" r="6"/><circle cx="1172.9" cy="2071.7" r="6"/><circle cx="1174.0" cy="2166.6" r="6"/><circle cx="1175.1" cy="2221.8" r="6"/><circle cx="1177.4" cy="2146.0" r="6"/><circle cx="1178.5" cy="2012.4" r="6"/><circle cx="1179.7" cy="2212.9" r="6"/><circle cx="1180.8" cy="2058.0" r="6"/><circle cx="1181.9" cy="2238.8" r="6"/><circle cx="1183.0" cy="2107.3" r="6"/><circle cx="1184.2" cy="2132.8" r="6"/><circle cx="1185.3" cy="2189.2" r="6"/><circle cx="1186.4" cy="2288.0" r="6"/><circle cx="1187.6" cy="2117.0" r="6"/><circle cx="1188.7" cy="2120.5" r="6"/><circle cx="1189.8" cy="2121.2" r="6"/><circle cx="1191.0" cy="2093.3" r="6"/><circle cx="1192.1" cy="2189.2" r="6"/><circle cx="1193.2" cy="2023.6" r="6"/><circle cx="1194.3" cy="2078.8" r="6"/><circle cx="1195.5" cy="2175.4" r="6"/><circle cx="1196.6" cy="2013.9" r="6"/><circle cx="1197.7" cy="2135.5" r="6"/><circle cx="1198.9" cy="2117.2" r="6"/><circle cx="1200.0" cy="2085.7" r="6"/><circle cx="1201.1" cy="2176.8" r="6"/><circle cx="1202.3" cy="2166.6" r="6"/><circle cx="1203.4" cy="2126.2" r="6"/><circle cx="1204.5" cy="2184.9" r="6"/><circle cx="1205.7" cy="2125.7" r="6"/><circle cx="1206.8" cy="2045.5" r="6"/><circle cx="1207.9" cy="2179.2" r="6"/><circle cx="1209.0" cy="2109.7" r="6"/><circle cx="1210.2" cy="2142.2" r="6"/><circle cx="1211.3" cy="2076.0" r="6"/><circle cx="1212.4" cy="2171.6" r="6"/><circle cx="1213.6" cy="2165.2" r="6"/><circle cx="1215.8" cy="2116.9" r="6"/><circle cx="1217.0" cy="2007.7" r="6"/><circle cx="1218.1" cy="2155.2" r="6"/><circle cx="1219.2" cy="2205.0" r="6"/><circle cx="1220.3" cy="2152.5" r="6"/><circle cx="1221.5" cy="2088.0" r="6"/><circle cx="1222.6" cy="2076.9" r="6"/><circle cx="1223.7" cy="2125.1" r="6"/><circle cx="1224.9" cy="2096.9" r="6"/><circle cx="1226.0" cy="2176.2" r="6"/><circle cx="1227.1" cy="2078.0" r="6"/><circle cx="1228.3" cy="2115.4" r="6"/><circle cx="1229.4" cy="2124.4" r="6"/><circle cx="1230.5" cy="2030.9" r="6"/><circle cx="1231.7" cy="2048.0" r="6"/><circle cx="1232.8" cy="2121.7" r="6"/><circle cx="1233.9" cy="2097.1" r="6"/><circle cx="1235.0" cy="2209.9" r="6"/><circle cx="1236.2" cy="2149.7" r="6"/><circle cx="1237.3" cy="2015.6" r="6"/><circle cx="1238.4" cy="2159.8" r="6"/><circle cx="1239.6" cy="2147.9" r="6"/><circle cx="1240.7" cy="2015.3" r="6"/><circle cx="1241.8" cy="2088.3" r="6"/><circle cx="1243.0" cy="2108.8" r="6"/><circle cx="1244.1" cy="2043.3" r="6"/><circle cx="1245.2" cy="2102.0" r="6"/><circle cx="1246.3" cy="2123.1" r="6"/><circle cx="1247.5" cy="2141.3" r="6"/><circle cx="1248.6" cy="2048.5" r="6"/><circle cx="1249.7" cy="2119.8" r="6"/><circle cx="1250.9" cy="2036.5" r="6"/><circle cx="1252.0" cy="2071.7" r="6"/><circle cx="1254.3" cy="2055.3" r="6"/><circle cx="1255.4" cy="1981.5" r="6"/><circle cx="1256.5" cy="2082.4" r="6"/><circle cx="1257.7" cy="2111.1" r="6"/><circle cx="1258.8" cy="2048.2" r="6"/><circle cx="1259.9" cy="2032.1" r="6"/><circle cx="1261.0" cy="2072.5" r="6"/><circle cx="1262.2" cy="2160.4" r="6"/><circle cx="1263.3" cy="2005.3" r="6"/><circle cx="1264.4" cy="2157.4" r="6"/><circle cx="1265.6" cy="2180.8" r="6"/><circle cx="1266.7" cy="1966.8" r="6"/><circle cx="1267.8" cy="1921.5" r="6"/><circle cx="1269.0" cy="2031.2" r="6"/><circle cx="1270.1" cy="2055.8" r="6"/><circle cx="1271.2" cy="1907.2" r="6"/><circle cx="1272.3" cy="2105.8" r="6"/><circle cx="1273.5" cy="2035.6" r="6"/><circle cx="1274.6" cy="2057.7" r="6"/><circle cx="1275.7" cy="1975.9" r="6"/><circle cx="1276.9" cy="1988.4" r="6"/><circle cx="1278.0" cy="2053.6" r="6"/><circle cx="1279.1" cy="1931.5" r="6"/><circle cx="1280.3" cy="1970.5" r="6"/><circle cx="1281.4" cy="2014.9" r="6"/><circle cx="1282.5" cy="2040.8" r="6"/><circle cx="1283.6" cy="2032.0" r="6"/><circle cx="1284.8" cy="2106.5" r="6"/><circle cx="1285.9" cy="2033.9" r="6"/><circle cx="1287.0" cy="2026.3" r="6"/><circle cx="1288.2" cy="1981.2" r="6"/><circle cx="1289.3" cy="2032.9" r="6"/><circle cx="1290.4" cy="2047.9" r="6"/><circle cx="1291.6" cy="1996.8" r="6"/><circle cx="1292.7" cy="1949.4" r="6"/><circle cx="1293.8" cy="1966.6" r="6"/><circle cx="1295.0" cy="2035.4" r="6"/><circle cx="1296.1" cy="2047.4" r="6"/><circle cx="1297.2" cy="1898.7" r="6"/><circle cx="1298.3" cy="2003.6" r="6"/><circle cx="1299.5" cy="2097.2" r="6"/><circle cx="1300.6" cy="2001.5" r="6"/><circle cx="1301.7" cy="2146.7" r="6"/><circle cx="1302.9" cy="2047.3" r="6"/><circle cx="1304.0" cy="1957.8" r="6"/><circle cx="1305.1" cy="2017.7" r="6"/><circle cx="1306.3" cy="2027.3" r="6"/><circle cx="1307.4" cy="1947.2" r="6"/><circle cx="1308.5" cy="1939.9" r="6"/><circle cx="1309.6" cy="2113.5" r="6"/><circle cx="1310.8" cy="2119.7" r="6"/><circle cx="1311.9" cy="2054.6" r="6"/><circle cx="1313.0" cy="2082.4" r="6"/><circle cx="1314.2" cy="1965.8" r="6"/><circle cx="1315.3" cy="1953.9" r="6"/><circle cx="1316.4" cy="2029.1" r="6"/><circle cx="1317.6" cy="2098.7" r="6"/><circle cx="1318.7" cy="2148.2" r="6"/><circle cx="1319.8" cy="2034.8" r="6"/><circle cx="1321.0" cy="2097.8" r="6"/><circle cx="1322.1" cy="2000.4" r="6"/><circle cx="1323.2" cy="2149.0" r="6"/><circle cx="1324.3" cy="2094.4" r="6"/><circle cx="1325.5" cy="2078.1" r="6"/><circle cx="1326.6" cy="1941.9" r="6"/><circle cx="1327.7" cy="1960.7" r="6"/><circle cx="1328.9" cy="1976.0" r="6"/><circle cx="1330.0" cy="2015.1" r="6"/><circle cx="1331.1" cy="1982.4" r="6"/><circle cx="1332.3" cy="2188.7" r="6"/><circle cx="1333.4" cy="1988.2" r="6"/><circle cx="1334.5" cy="2080.8" r="6"/><circle cx="1335.6" cy="1974.0" r="6"/><circle cx="1336.8" cy="2013.8" r="6"/><circle cx="1337.9" cy="2006.7" r="6"/><circle cx="1339.0" cy="2135.2" r="6"/><circle cx="1340.2" cy="2162.7" r="6"/><circle cx="1342.4" cy="2078.6" r="6"/><circle cx="1343.6" cy="2107.7" r="6"/><circle cx="1344.7" cy="2171.1" r="6"/><circle cx="1345.8" cy="2087.4" r="6"/><circle cx="1347.0" cy="2267.9" r="6"/><circle cx="1348.1" cy="2039.5" r="6"/><circle cx="1349.2" cy="2091.9" r="6"/><circle cx="1350.3" cy="2129.4" r="6"/><circle cx="1351.5" cy="2040.2" r="6"/><circle cx="1352.6" cy="2088.0" r="6"/><circle cx="1354.9" cy="2106.9" r="6"/><circle cx="1356.0" cy="2150.8" r="6"/><circle cx="1357.1" cy="2094.1" r="6"/><circle cx="1358.3" cy="2195.1" r="6"/><circle cx="1359.4" cy="2187.7" r="6"/><circle cx="1360.5" cy="2120.8" r="6"/><circle cx="1361.6" cy="2179.0" r="6"/><circle cx="1362.8" cy="2238.2" r="6"/><circle cx="1363.9" cy="2174.5" r="6"/><circle cx="1365.0" cy="2265.0" r="6"/><circle cx="1366.2" cy="2063.4" r="6"/><circle cx="1367.3" cy="2197.5" r="6"/><circle cx="1368.4" cy="2191.4" r="6"/><circle cx="1369.6" cy="2054.1" r="6"/><circle cx="1370.7" cy="2240.1" r="6"/><circle cx="1371.8" cy="2273.1" r="6"/><circle cx="1372.9" cy="2157.5" r="6"/><circle cx="1374.1" cy="2201.2" r="6"/><circle cx="1375.2" cy="2126.8" r="6"/><circle cx="1376.3" cy="2181.3" r="6"/><circle cx="1377.5" cy="2263.9" r="6"/><circle cx="1379.7" cy="2166.6" r="6"/><circle cx="1380.9" cy="2184.4" r="6"/><circle cx="1382.0" cy="2129.8" r="6"/><circle cx="1383.1" cy="2157.1" r="6"/><circle cx="1384.3" cy="2224.6" r="6"/><circle cx="1385.4" cy="2216.1" r="6"/><circle cx="1386.5" cy="2198.7" r="6"/><circle cx="1387.6" cy="2211.4" r="6"/><circle cx="1388.8" cy="2187.5" r="6"/><circle cx="1389.9" cy="2198.7" r="6"/><circle cx="1391.0" cy="2262.4" r="6"/><circle cx="1392.2" cy="2181.9" r="6"/><circle cx="1393.3" cy="2152.8" r="6"/><circle cx="1394.4" cy="2267.0" r="6"/><circle cx="1395.6" cy="2274.1" r="6"/><circle cx="1396.7" cy="2158.7" r="6"/><circle cx="1397.8" cy="2167.6" r="6"/><circle cx="1398.9" cy="2146.5" r="6"/><circle cx="1400.1" cy="2119.0" r="6"/><circle cx="1401.2" cy="2209.9" r="6"/><circle cx="1402.3" cy="2268.1" r="6"/><circle cx="1403.5" cy="2195.3" r="6"/><circle cx="1405.7" cy="2244.4" r="6"/><circle cx="1406.9" cy="2193.9" r="6"/><circle cx="1408.0" cy="2160.8" r="6"/><circle cx="1409.1" cy="2195.7" r="6"/><circle cx="1410.3" cy="2174.1" r="6"/><circle cx="1411.4" cy="2199.1" r="6"/><circle cx="1412.5" cy="2173.6" r="6"/><circle cx="1413.6" cy="2276.6" r="6"/><circle cx="1414.8" cy="2128.2" r="6"/><circle cx="1415.9" cy="2245.5" r="6"/><circle cx="1417.0" cy="2224.1" r="6"/><circle cx="1418.2" cy="2242.7" r="6"/><circle cx="1419.3" cy="2223.0" r="6"/><circle cx="1420.4" cy="2229.0" r="6"/><circle cx="1421.6" cy="2308.2" r="6"/><circle cx="1422.7" cy="2143.5" r="6"/><circle cx="1423.8" cy="2199.6" r="6"/><circle cx="1424.9" cy="2216.6" r="6"/><circle cx="1426.1" cy="2205.0" r="6"/><circle cx="1427.2" cy="2177.0" r="6"/><circle cx="1428.3" cy="2183.2" r="6"/><circle cx="1429.5" cy="2213.2" r="6"/><circle cx="1430.6" cy="2171.9" r="6"/><circle cx="1431.7" cy="2273.8" r="6"/><circle cx="1432.9" cy="2179.0" r="6"/><circle cx="1434.0" cy="2224.8" r="6"/><circle cx="1435.1" cy="2244.1" r="6"/><circle cx="1436.2" cy="2264.0" r="6"/><circle cx="1437.4" cy="2207.3" r="6"/><circle cx="1438.5" cy="2278.0" r="6"/><circle cx="1439.6" cy="2189.7" r="6"/><circle cx="1440.8" cy="2244.8" r="6"/><circle cx="1441.9" cy="2179.1" r="6"/><circle cx="1443.0" cy="2299.8" r="6"/><circle cx="1444.2" cy="2188.1" r="6"/><circle cx="1445.3" cy="2228.5" r="6"/><circle cx="1446.4" cy="2258.8" r="6"/><circle cx="1447.6" cy="2151.9" r="6"/><circle cx="1448.7" cy="2154.0" r="6"/><circle cx="1450.9" cy="2253.7" r="6"/><circle cx="1452.1" cy="2242.2" r="6"/><circle cx="1453.2" cy="2135.8" r="6"/><circle cx="1454.3" cy="2198.6" r="6"/><circle cx="1455.5" cy="2237.0" r="6"/><circle cx="1456.6" cy="2241.1" r="6"/><circle cx="1457.7" cy="2229.0" r="6"/><circle cx="1458.9" cy="2182.3" r="6"/><circle cx="1460.0" cy="2154.5" r="6"/><circle cx="1461.1" cy="2196.9" r="6"/><circle cx="1463.4" cy="2233.3" r="6"/><circle cx="1464.5" cy="2219.5" r="6"/><circle cx="1465.6" cy="2288.5" r="6"/><circle cx="1466.8" cy="2185.7" r="6"/><circle cx="1467.9" cy="2214.2" r="6"/><circle cx="1469.0" cy="2141.9" r="6"/><circle cx="1470.2" cy="2073.1" r="6"/><circle cx="1471.3" cy="2140.8" r="6"/><circle cx="1472.4" cy="2214.7" r="6"/><circle cx="1473.6" cy="2226.3" r="6"/><circle cx="1474.7" cy="2279.3" r="6"/><circle cx="1475.8" cy="2309.9" r="6"/><circle cx="1476.9" cy="2108.3" r="6"/><circle cx="1478.1" cy="2184.9" r="6"/><circle cx="1479.2" cy="2270.5" r="6"/><circle cx="1481.5" cy="2144.9" r="6"/><circle cx="1482.6" cy="2294.2" r="6"/><circle cx="1483.7" cy="2203.4" r="6"/><circle cx="1484.9" cy="2189.7" r="6"/><circle cx="1486.0" cy="2204.7" r="6"/><circle cx="1487.1" cy="2193.8" r="6"/><circle cx="1488.2" cy="2123.1" r="6"/><circle cx="1489.4" cy="2193.7" r="6"/><circle cx="1490.5" cy="2111.5" r="6"/><circle cx="1491.6" cy="2255.7" r="6"/><circle cx="1492.8" cy="2191.8" r="6"/><circle cx="1493.9" cy="2098.1" r="6"/><circle cx="1495.0" cy="2250.1" r="6"/><circle cx="1496.2" cy="2220.8" r="6"/><circle cx="1497.3" cy="2179.8" r="6"/><circle cx="1498.4" cy="2208.9" r="6"/><circle cx="1499.6" cy="2170.3" r="6"/><circle cx="1500.7" cy="2118.7" r="6"/><circle cx="1501.8" cy="2152.5" r="6"/><circle cx="1502.9" cy="2169.7" r="6"/><circle cx="1504.1" cy="2195.3" r="6"/><circle cx="1505.2" cy="2173.4" r="6"/><circle cx="1506.3" cy="2130.4" r="6"/><circle cx="1508.6" cy="2212.2" r="6"/><circle cx="1509.7" cy="2187.6" r="6"/><circle cx="1510.9" cy="2225.3" r="6"/><circle cx="1512.0" cy="2163.0" r="6"/><circle cx="1513.1" cy="2156.9" r="6"/><circle cx="1514.2" cy="2199.0" r="6"/><circle cx="1515.4" cy="2231.8" r="6"/><circle cx="1516.5" cy="2203.8" r="6"/><circle cx="1517.6" cy="2143.7" r="6"/><circle cx="1518.8" cy="2213.7" r="6"/><circle cx="1519.9" cy="2125.1" r="6"/><circle cx="1521.0" cy="2189.5" r="6"/><circle cx="1523.3" cy="2198.9" r="6"/><circle cx="1524.4" cy="2126.4" r="6"/><circle cx="1525.5" cy="2221.9" r="6"/><circle cx="1526.7" cy="2107.3" r="6"/><circle cx="1527.8" cy="2103.0" r="6"/><circle cx="1528.9" cy="2159.8" r="6"/><circle cx="1530.1" cy="2185.5" r="6"/><circle cx="1531.2" cy="2188.8" r="6"/><circle cx="1532.3" cy="2157.6" r="6"/><circle cx="1533.5" cy="2274.0" r="6"/><circle cx="1534.6" cy="2053.4" r="6"/><circle cx="1535.7" cy="2201.5" r="6"/><circle cx="1536.9" cy="2109.1" r="6"/><circle cx="1538.0" cy="2130.0" r="6"/><circle cx="1539.1" cy="2144.6" r="6"/><circle cx="1540.2" cy="2219.6" r="6"/><circle cx="1541.4" cy="2050.6" r="6"/><circle cx="1542.5" cy="2116.4" r="6"/><circle cx="1543.6" cy="2087.1" r="6"/><circle cx="1544.8" cy="2236.6" r="6"/><circle cx="1545.9" cy="2256.9" r="6"/><circle cx="1547.0" cy="2209.1" r="6"/><circle cx="1548.2" cy="2145.4" r="6"/><circle cx="1549.3" cy="2129.3" r="6"/><circle cx="1550.4" cy="2100.3" r="6"/><circle cx="1551.5" cy="2217.7" r="6"/><circle cx="1552.7" cy="2240.2" r="6"/><circle cx="1553.8" cy="2121.5" r="6"/><circle cx="1554.9" cy="2225.2" r="6"/><circle cx="1556.1" cy="2174.2" r="6"/><circle cx="1557.2" cy="2048.5" r="6"/><circle cx="1558.3" cy="2174.2" r="6"/><circle cx="1559.5" cy="2148.0" r="6"/><circle cx="1560.6" cy="2142.0" r="6"/><circle cx="1561.7" cy="2144.1" r="6"/><circle cx="1562.9" cy="2124.2" r="6"/><circle cx="1564.0" cy="2117.6" r="6"/><circle cx="1565.1" cy="2144.3" r="6"/><circle cx="1566.2" cy="2064.5" r="6"/><circle cx="1567.4" cy="2102.8" r="6"/><circle cx="1568.5" cy="2197.5" r="6"/><circle cx="1569.6" cy="2069.1" r="6"/><circle cx="1570.8" cy="2155.3" r="6"/><circle cx="1571.9" cy="2163.6" r="6"/><circle cx="1573.0" cy="2188.8" r="6"/><circle cx="1574.2" cy="2104.1" r="6"/><circle cx="1575.3" cy="2160.2" r="6"/><circle cx="1576.4" cy="2193.8" r="6"/><circle cx="1577.5" cy="2223.1" r="6"/><circle cx="1578.7" cy="2091.6" r="6"/><circle cx="1579.8" cy="2166.5" r="6"/><circle cx="1580.9" cy="2188.2" r="6"/><circle cx="1582.1" cy="2172.0" r="6"/><circle cx="1583.2" cy="2129.9" r="6"/><circle cx="1584.3" cy="2112.8" r="6"/><circle cx="1585.5" cy="2149.4" r="6"/><circle cx="1586.6" cy="2153.7" r="6"/><circle cx="1587.7" cy="2207.2" r="6"/><circle cx="1588.9" cy="2117.2" r="6"/><circle cx="1590.0" cy="2136.3" r="6"/><circle cx="1591.1" cy="2194.0" r="6"/><circle cx="1592.2" cy="2165.1" r="6"/><circle cx="1593.4" cy="2058.7" r="6"/><circle cx="1594.5" cy="2135.8" r="6"/><circle cx="1595.6" cy="2157.0" r="6"/><circle cx="1596.8" cy="2182.5" r="6"/><circle cx="1597.9" cy="2175.8" r="6"/><circle cx="1599.0" cy="2126.8" r="6"/><circle cx="1600.2" cy="2091.4" r="6"/><circle cx="1601.3" cy="2127.1" r="6"/><circle cx="1602.4" cy="2080.2" r="6"/><circle cx="1603.5" cy="2187.4" r="6"/><circle cx="1604.7" cy="2169.5" r="6"/><circle cx="1605.8" cy="2125.5" r="6"/><circle cx="1608.1" cy="2084.1" r="6"/><circle cx="1609.2" cy="2170.7" r="6"/><circle cx="1610.3" cy="2103.0" r="6"/><circle cx="1611.5" cy="2187.2" r="6"/><circle cx="1612.6" cy="2066.3" r="6"/><circle cx="1613.7" cy="2047.2" r="6"/><circle cx="1614.8" cy="2124.4" r="6"/><circle cx="1616.0" cy="2097.6" r="6"/><circle cx="1617.1" cy="2063.3" r="6"/><circle cx="1618.2" cy="2168.7" r="6"/><circle cx="1619.4" cy="2153.8" r="6"/><circle cx="1620.5" cy="2156.3" r="6"/><circle cx="1621.6" cy="2099.6" r="6"/><circle cx="1622.8" cy="2086.2" r="6"/><circle cx="1623.9" cy="2168.2" r="6"/><circle cx="1625.0" cy="2139.8" r="6"/><circle cx="1626.2" cy="2070.8" r="6"/><circle cx="1627.3" cy="2135.7" r="6"/><circle cx="1628.4" cy="2134.3" r="6"/><circle cx="1629.5" cy="2081.9" r="6"/><circle cx="1630.7" cy="2111.2" r="6"/><circle cx="1631.8" cy="2062.0" r="6"/><circle cx="1632.9" cy="2103.4" r="6"/><circle cx="1634.1" cy="2114.8" r="6"/><circle cx="1635.2" cy="2139.2" r="6"/><circle cx="1636.3" cy="2110.1" r="6"/><circle cx="1637.5" cy="2118.4" r="6"/><circle cx="1638.6" cy="2175.5" r="6"/><circle cx="1639.7" cy="2038.5" r="6"/><circle cx="1640.8" cy="2024.9" r="6"/><circle cx="1642.0" cy="2048.1" r="6"/><circle cx="1643.1" cy="2010.0" r="6"/><circle cx="1644.2" cy="1975.0" r="6"/><circle cx="1645.4" cy="2155.7" r="6"/><circle cx="1646.5" cy="2071.7" r="6"/><circle cx="1647.6" cy="2027.2" r="6"/><circle cx="1649.9" cy="2065.4" r="6"/><circle cx="1651.0" cy="2070.2" r="6"/><circle cx="1652.2" cy="2011.3" r="6"/><circle cx="1653.3" cy="2034.5" r="6"/><circle cx="1654.4" cy="2133.7" r="6"/><circle cx="1655.5" cy="2000.3" r="6"/><circle cx="1656.7" cy="2096.6" r="6"/><circle cx="1657.8" cy="2048.4" r="6"/><circle cx="1658.9" cy="2037.8" r="6"/><circle cx="1660.1" cy="2146.6" r="6"/><circle cx="1661.2" cy="1981.5" r="6"/><circle cx="1662.3" cy="2033.2" r="6"/><circle cx="1663.5" cy="2038.5" r="6"/><circle cx="1664.6" cy="2024.6" r="6"/><circle cx="1665.7" cy="2081.3" r="6"/><circle cx="1666.8" cy="2026.8" r="6"/><circle cx="1668.0" cy="2025.0" r="6"/><circle cx="1669.1" cy="2152.4" r="6"/><circle cx="1670.2" cy="2115.5" r="6"/><circle cx="1671.4" cy="2010.1" r="6"/><circle cx="1672.5" cy="2096.7" r="6"/><circle cx="1673.6" cy="2015.0" r="6"/><circle cx="1674.8" cy="2056.9" r="6"/><circle cx="1675.9" cy="2017.2" r="6"/><circle cx="1677.0" cy="2133.5" r="6"/><circle cx="1678.2" cy="2038.3" r="6"/><circle cx="1679.3" cy="2050.4" r="6"/><circle cx="1680.4" cy="2037.2" r="6"/><circle cx="1681.5" cy="2039.2" r="6"/><circle cx="1682.7" cy="2035.9" r="6"/><circle cx="1683.8" cy="2042.8" r="6"/><circle cx="1686.1" cy="2033.3" r="6"/><circle cx="1687.2" cy="2070.0" r="6"/><circle cx="1688.3" cy="1981.2" r="6"/><circle cx="1689.5" cy="2050.7" r="6"/><circle cx="1690.6" cy="2071.2" r="6"/><circle cx="1691.7" cy="2016.6" r="6"/><circle cx="1692.8" cy="2126.2" r="6"/><circle cx="1694.0" cy="1998.6" r="6"/><circle cx="1696.2" cy="2065.0" r="6"/><circle cx="1697.4" cy="2047.3" r="6"/><circle cx="1698.5" cy="2054.6" r="6"/><circle cx="1699.6" cy="2025.6" r="6"/><circle cx="1700.8" cy="2080.1" r="6"/><circle cx="1701.9" cy="2061.1" r="6"/><circle cx="1703.0" cy="2025.4" r="6"/><circle cx="1704.1" cy="2079.5" r="6"/><circle cx="1705.3" cy="2055.5" r="6"/><circle cx="1706.4" cy="2049.3" r="6"/><circle cx="1707.5" cy="2054.6" r="6"/><circle cx="1708.7" cy="2086.5" r="6"/><circle cx="1709.8" cy="2113.9" r="6"/><circle cx="1710.9" cy="2069.7" r="6"/><circle cx="1712.1" cy="2131.6" r="6"/><circle cx="1713.2" cy="2138.9" r="6"/><circle cx="1714.3" cy="2091.0" r="6"/><circle cx="1715.5" cy="2050.5" r="6"/><circle cx="1716.6" cy="1996.1" r="6"/><circle cx="1717.7" cy="2038.3" r="6"/><circle cx="1718.8" cy="2012.0" r="6"/><circle cx="1720.0" cy="2050.3" r="6"/><circle cx="1721.1" cy="1996.9" r="6"/><circle cx="1722.2" cy="2049.3" r="6"/><circle cx="1723.4" cy="2033.6" r="6"/><circle cx="1724.5" cy="2116.4" r="6"/><circle cx="1725.6" cy="2011.8" r="6"/><circle cx="1726.8" cy="2093.0" r="6"/><circle cx="1727.9" cy="2070.3" r="6"/><circle cx="1729.0" cy="2045.4" r="6"/><circle cx="1730.1" cy="2067.0" r="6"/><circle cx="1731.3" cy="2089.1" r="6"/><circle cx="1732.4" cy="2023.6" r="6"/><circle cx="1733.5" cy="2136.9" r="6"/><circle cx="1734.7" cy="2198.1" r="6"/><circle cx="1735.8" cy="2107.4" r="6"/><circle cx="1736.9" cy="2069.0" r="6"/><circle cx="1738.1" cy="2107.0" r="6"/><circle cx="1739.2" cy="2012.0" r="6"/><circle cx="1740.3" cy="2007.6" r="6"/><circle cx="1741.5" cy="2157.2" r="6"/><circle cx="1742.6" cy="2075.7" r="6"/><circle cx="1743.7" cy="2171.9" r="6"/><circle cx="1744.8" cy="2086.7" r="6"/><circle cx="1747.1" cy="2034.1" r="6"/><circle cx="1748.2" cy="2132.5" r="6"/><circle cx="1749.4" cy="2031.9" r="6"/><circle cx="1750.5" cy="2115.5" r="6"/><circle cx="1751.6" cy="2027.3" r="6"/><circle cx="1752.8" cy="2147.4" r="6"/><circle cx="1753.9" cy="2147.9" r="6"/><circle cx="1755.0" cy="2031.4" r="6"/><circle cx="1756.1" cy="2064.2" r="6"/><circle cx="1757.3" cy="2080.6" r="6"/><circle cx="1758.4" cy="2167.1" r="6"/><circle cx="1759.5" cy="2125.0" r="6"/><circle cx="1760.7" cy="2157.1" r="6"/><circle cx="1761.8" cy="2044.6" r="6"/><circle cx="1762.9" cy="2107.7" r="6"/><circle cx="1764.1" cy="2164.1" r="6"/><circle cx="1765.2" cy="2168.7" r="6"/><circle cx="1767.5" cy="2196.9" r="6"/><circle cx="1768.6" cy="2169.5" r="6"/><circle cx="1769.7" cy="2133.0" r="6"/><circle cx="1770.8" cy="2116.9" r="6"/><circle cx="1773.1" cy="2087.7" r="6"/><circle cx="1774.2" cy="2160.1" r="6"/><circle cx="1775.4" cy="2070.7" r="6"/><circle cx="1776.5" cy="2242.8" r="6"/><circle cx="1777.6" cy="2137.1" r="6"/><circle cx="1778.8" cy="2094.3" r="6"/><circle cx="1779.9" cy="2172.0" r="6"/><circle cx="1782.1" cy="2144.8" r="6"/><circle cx="1783.3" cy="2109.9" r="6"/><circle cx="1784.4" cy="2179.4" r="6"/><circle cx="1785.5" cy="2148.3" r="6"/><circle cx="1786.7" cy="2096.8" r="6"/><circle cx="1787.8" cy="2229.0" r="6"/><circle cx="1788.9" cy="2107.1" r="6"/><circle cx="1790.1" cy="2173.0" r="6"/><circle cx="1791.2" cy="2241.6" r="6"/><circle cx="1792.3" cy="2139.6" r="6"/><circle cx="1793.4" cy="2130.0" r="6"/><circle cx="1794.6" cy="2175.2" r="6"/><circle cx="1795.7" cy="2156.6" r="6"/><circle cx="1796.8" cy="2141.4" r="6"/><circle cx="1798.0" cy="2161.3" r="6"/><circle cx="1799.1" cy="2166.0" r="6"/><circle cx="1800.2" cy="2112.1" r="6"/><circle cx="1801.4" cy="2122.5" r="6"/><circle cx="1802.5" cy="2169.4" r="6"/><circle cx="1803.6" cy="2271.8" r="6"/><circle cx="1804.8" cy="2237.6" r="6"/><circle cx="1805.9" cy="2188.9" r="6"/><circle cx="1807.0" cy="2113.8" r="6"/><circle cx="1808.1" cy="2142.2" r="6"/><circle cx="1809.3" cy="2065.8" r="6"/><circle cx="1811.5" cy="2126.7" r="6"/><circle cx="1812.7" cy="2131.0" r="6"/><circle cx="1813.8" cy="2179.1" r="6"/><circle cx="1814.9" cy="2105.5" r="6"/><circle cx="1817.2" cy="2236.5" r="6"/><circle cx="1818.3" cy="2136.1" r="6"/><circle cx="1819.4" cy="2147.6" r="6"/><circle cx="1820.6" cy="2180.9" r="6"/><circle cx="1821.7" cy="2116.6" r="6"/><circle cx="1822.8" cy="2138.5" r="6"/><circle cx="1824.0" cy="2145.9" r="6"/><circle cx="1825.1" cy="2177.6" r="6"/><circle cx="1826.2" cy="2246.6" r="6"/><circle cx="1827.4" cy="2250.2" r="6"/><circle cx="1828.5" cy="2174.1" r="6"/><circle cx="1829.6" cy="2248.0" r="6"/><circle cx="1830.8" cy="2170.6" r="6"/><circle cx="1831.9" cy="2101.3" r="6"/><circle cx="1834.1" cy="2235.6" r="6"/><circle cx="1835.3" cy="2125.8" r="6"/><circle cx="1836.4" cy="2093.2" r="6"/><circle cx="1837.5" cy="2118.7" r="6"/><circle cx="1838.7" cy="2085.2" r="6"/><circle cx="1839.8" cy="2178.9" r="6"/><circle cx="1840.9" cy="2192.0" r="6"/><circle cx="1842.1" cy="2154.7" r="6"/><circle cx="1843.2" cy="2118.8" r="6"/><circle cx="1844.3" cy="2146.2" r="6"/><circle cx="1845.4" cy="2161.4" r="6"/><circle cx="1846.6" cy="2120.3" r="6"/><circle cx="1847.7" cy="2218.9" r="6"/><circle cx="1850.0" cy="2121.2" r="6"/><circle cx="1851.1" cy="2260.5" r="6"/><circle cx="1852.2" cy="2089.6" r="6"/><circle cx="551.6" cy="1809.1" r="6"/><circle cx="473.7" cy="1854.7" r="6"/><circle cx="448.8" cy="1885.3" r="6"/><circle cx="550.5" cy="1876.1" r="6"/><circle cx="492.3" cy="1893.7" r="6"/><circle cx="535.8" cy="1912.3" r="6"/><circle cx="514.0" cy="1919.6" r="6"/><circle cx="494.0" cy="1923.9" r="6"/><circle cx="509.5" cy="1929.8" r="6"/><circle cx="548.8" cy="1931.2" r="6"/><circle cx="620.7" cy="1932.6" r="6"/><circle cx="576.1" cy="1942.5" r="6"/><circle cx="583.2" cy="1947.7" r="6"/><circle cx="598.9" cy="1957.5" r="6"/><circle cx="446.3" cy="1948.1" r="6"/><circle cx="378.9" cy="1963.9" r="6"/><circle cx="664.6" cy="1973.3" r="6"/><circle cx="362.1" cy="1984.6" r="6"/><circle cx="273.3" cy="2159.6" r="6"/><circle cx="353.7" cy="2187.4" r="6"/><circle cx="400.0" cy="2176.5" r="6"/><circle cx="398.9" cy="2207.0" r="6"/><circle cx="627.0" cy="2260.0" r="6"/><circle cx="648.8" cy="2245.3" r="6"/><circle cx="625.3" cy="2221.4" r="6"/><circle cx="626.3" cy="2206.7" r="6"/><circle cx="637.5" cy="2231.2" r="6"/><circle cx="655.1" cy="2229.5" r="6"/><circle cx="670.9" cy="2207.4" r="6"/><circle cx="683.9" cy="2194.7" r="6"/><circle cx="266.7" cy="2058.2" r="6"/><circle cx="809.5" cy="1868.1" r="6"/><circle cx="931.2" cy="1889.1" r="6"/><circle cx="892.6" cy="1907.4" r="6"/><circle cx="894.4" cy="1918.9" r="6"/><circle cx="833.0" cy="1922.5" r="6"/><circle cx="837.9" cy="1935.1" r="6"/><circle cx="886.3" cy="1934.7" r="6"/><circle cx="932.3" cy="1921.1" r="6"/><circle cx="942.5" cy="1935.8" r="6"/><circle cx="934.4" cy="1942.8" r="6"/><circle cx="937.9" cy="1961.8" r="6"/><circle cx="1112.3" cy="1976.1" r="6"/><circle cx="979.3" cy="1987.4" r="6"/><circle cx="1256.1" cy="1889.5" r="6"/><circle cx="1296.8" cy="1866.3" r="6"/><circle cx="1300.4" cy="1864.9" r="6"/><circle cx="1317.9" cy="1860.0" r="6"/><circle cx="1291.9" cy="1894.7" r="6"/><circle cx="1288.1" cy="1934.7" r="6"/><circle cx="1267.0" cy="1949.5" r="6"/><circle cx="1236.1" cy="1979.6" r="6"/><circle cx="1067.0" cy="2328.4" r="6"/><circle cx="1068.1" cy="2307.4" r="6"/><circle cx="997.9" cy="2312.6" r="6"/><circle cx="998.9" cy="2294.4" r="6"/><circle cx="1038.9" cy="2294.4" r="6"/><circle cx="997.2" cy="2269.8" r="6"/><circle cx="1026.7" cy="2277.5" r="6"/><circle cx="1070.5" cy="2276.8" r="6"/><circle cx="1039.6" cy="2266.3" r="6"/><circle cx="1095.1" cy="2267.0" r="6"/><circle cx="1126.7" cy="2265.3" r="6"/><circle cx="1138.2" cy="2262.1" r="6"/><circle cx="1190.5" cy="2265.6" r="6"/><circle cx="1180.0" cy="2254.0" r="6"/><circle cx="962.8" cy="2243.5" r="6"/><circle cx="968.8" cy="2256.5" r="6"/><circle cx="967.0" cy="2263.9" r="6"/><circle cx="777.9" cy="2200.7" r="6"/><circle cx="770.9" cy="2176.1" r="6"/><circle cx="1340.7" cy="1763.3" r="6"/><circle cx="1319.2" cy="1860.1" r="6"/><circle cx="1337.0" cy="1868.7" r="6"/><circle cx="1301.8" cy="1866.4" r="6"/><circle cx="1316.6" cy="1907.1" r="6"/><circle cx="1318.5" cy="1912.3" r="6"/><circle cx="1328.8" cy="1920.0" r="6"/><circle cx="1334.0" cy="1924.1" r="6"/><circle cx="1332.5" cy="1952.6" r="6"/><circle cx="1341.4" cy="1966.2" r="6"/><circle cx="1690.0" cy="1866.1" r="6"/><circle cx="1759.5" cy="1943.7" r="6"/><circle cx="1758.8" cy="1969.6" r="6"/><circle cx="1610.5" cy="1976.6" r="6"/><circle cx="1434.2" cy="2016.5" r="6"/><circle cx="1505.5" cy="2026.5" r="6"/><circle cx="1535.1" cy="2029.5" r="6"/><circle cx="1843.1" cy="2036.9" r="6"/><circle cx="1786.1" cy="2015.8" r="6"/><circle cx="1361.0" cy="2375.9" r="6"/><circle cx="1371.0" cy="2351.8" r="6"/><circle cx="1354.3" cy="2332.6" r="6"/><circle cx="1345.1" cy="2309.3" r="6"/><circle cx="1356.2" cy="2304.5" r="6"/><circle cx="1328.8" cy="2287.1" r="6"/><circle cx="1373.9" cy="2290.8" r="6"/><circle cx="1441.2" cy="2327.8" r="6"/><circle cx="1444.9" cy="2314.9" r="6"/><circle cx="1462.7" cy="2314.1" r="6"/><circle cx="1429.4" cy="2295.3" r="6"/><circle cx="1468.2" cy="2289.7" r="6"/><circle cx="1442.3" cy="2282.7" r="6"/><circle cx="1626.4" cy="2266.1" r="6"/><circle cx="1851.6" cy="2311.2" r="6"/><circle cx="1849.3" cy="2262.4" r="6"/><circle cx="1819.4" cy="2266.1" r="6"/><circle cx="1817.6" cy="2255.7" r="6"/><circle cx="1773.6" cy="2243.1" r="6"/><circle cx="1800.2" cy="2246.5" r="6"/><circle cx="1524.8" cy="2262.4" r="6"/><circle cx="1488.5" cy="2261.3" r="6"/>
</g>
<path d="M258.1 2118.6 L261.3 2117.2 L264.5 2115.8 L267.6 2114.5 L270.8 2113.2 L274.0 2111.9 L277.2 2110.6 L280.4 2109.4 L283.6 2108.2 L286.8 2107.0 L290.0 2105.9 L293.2 2104.9 L296.4 2103.9 L299.6 2102.9 L302.8 2102.0 L306.0 2101.1 L309.2 2100.2 L312.4 2099.4 L315.5 2098.6 L318.7 2097.7 L321.9 2096.9 L325.1 2096.1 L328.3 2095.2 L331.5 2094.3 L334.7 2093.4 L337.9 2092.4 L341.1 2091.4 L344.3 2090.3 L347.5 2089.1 L350.7 2087.8 L353.9 2086.4 L357.1 2085.0 L360.3 2083.4 L363.4 2081.7 L366.6 2079.9 L369.8 2078.0 L373.0 2076.0 L376.2 2073.9 L379.4 2071.7 L382.6 2069.3 L385.8 2066.9 L389.0 2064.3 L392.2 2061.7 L395.4 2058.9 L398.6 2056.2 L401.8 2053.3 L405.0 2050.4 L408.2 2047.5 L411.3 2044.6 L414.5 2041.6 L417.7 2038.7 L420.9 2035.8 L424.1 2033.0 L427.3 2030.2 L430.5 2027.5 L433.7 2025.0 L436.9 2022.5 L440.1 2020.2 L443.3 2018.1 L446.5 2016.1 L449.7 2014.4 L452.9 2012.8 L456.1 2011.5 L459.2 2010.4 L462.4 2009.5 L465.6 2009.0 L468.8 2008.7 L472.0 2008.6 L475.2 2008.9 L478.4 2009.5 L481.6 2010.3 L484.8 2011.4 L488.0 2012.9 L491.2 2014.6 L494.4 2016.6 L497.6 2018.9 L500.8 2021.4 L504.0 2024.2 L507.1 2027.3 L510.3 2030.6 L513.5 2034.1 L516.7 2037.8 L519.9 2041.7 L523.1 2045.7 L526.3 2050.0 L529.5 2054.3 L532.7 2058.7 L535.9 2063.2 L539.1 2067.8 L542.3 2072.4 L545.5 2077.1 L548.7 2081.7 L551.9 2086.3 L555.0 2090.8 L558.2 2095.3 L561.4 2099.7 L564.6 2103.9 L567.8 2108.0 L571.0 2112.0 L574.2 2115.8 L577.4 2119.4 L580.6 2122.9 L583.8 2126.1 L587.0 2129.1 L590.2 2131.9 L593.4 2134.5 L596.6 2136.8 L599.8 2138.8 L602.9 2140.7 L606.1 2142.3 L609.3 2143.6 L612.5 2144.7 L615.7 2145.6 L618.9 2146.3 L622.1 2146.7 L625.3 2146.9 L628.5 2147.0 L631.7 2146.8 L634.9 2146.5 L638.1 2146.0 L641.3 2145.4 L644.5 2144.6 L647.7 2143.7 L650.8 2142.7 L654.0 2141.6 L657.2 2140.4 L660.4 2139.2 L663.6 2137.9 L666.8 2136.6 L670.0 2135.2 L673.2 2133.9 L676.4 2132.5 L679.6 2131.2 L682.8 2129.8 L686.0 2128.5 L689.2 2127.2 L692.4 2126.0 L695.6 2124.8 L698.7 2123.6 L701.9 2122.5 L705.1 2121.5 L708.3 2120.4 L711.5 2119.5 L714.7 2118.5 L717.9 2117.6 L721.1 2116.7 L724.3 2115.9 L727.5 2115.1 L730.7 2114.2 L733.9 2113.4 L737.1 2112.6 L740.3 2111.7 L743.5 2110.9 L746.6 2109.9 L749.8 2109.0 L753.0 2107.9 L756.2 2106.9 L759.4 2105.7 L762.6 2104.4 L765.8 2103.1 L769.0 2101.7 L772.2 2100.1 L775.4 2098.5 L778.6 2096.7 L781.8 2094.9 L785.0 2092.9 L788.2 2090.8 L791.4 2088.6 L794.5 2086.3 L797.7 2083.8 L800.9 2081.3 L804.1 2078.7 L807.3 2076.0 L810.5 2073.2 L813.7 2070.4 L816.9 2067.5 L820.1 2064.6 L823.3 2061.7 L826.5 2058.7 L829.7 2055.8 L832.9 2052.9 L836.1 2050.1 L839.3 2047.3 L842.4 2044.6 L845.6 2042.0 L848.8 2039.5 L852.0 2037.1 L855.2 2035.0 L858.4 2032.9 L861.6 2031.1 L864.8 2029.5 L868.0 2028.1 L871.2 2026.9 L874.4 2026.0 L877.6 2025.4 L880.8 2025.0 L884.0 2024.9 L887.2 2025.1 L890.3 2025.5 L893.5 2026.3 L896.7 2027.3 L899.9 2028.7 L903.1 2030.3 L906.3 2032.2 L909.5 2034.4 L912.7 2036.9 L915.9 2039.6 L919.1 2042.6 L922.3 2045.8 L925.5 2049.3 L928.7 2052.9 L931.9 2056.8 L935.1 2060.8 L938.2 2065.0 L941.4 2069.3 L944.6 2073.7 L947.8 2078.2 L951.0 2082.8 L954.2 2087.4 L957.4 2092.0 L960.6 2096.6 L963.8 2101.2 L967.0 2105.8 L970.2 2110.3 L973.4 2114.7 L976.6 2119.0 L979.8 2123.1 L983.0 2127.1 L986.1 2131.0 L989.3 2134.7 L992.5 2138.2 L995.7 2141.5 L998.9 2144.5 L1002.1 2147.4 L1005.3 2150.0 L1008.5 2152.4 L1011.7 2154.5 L1014.9 2156.4 L1018.1 2158.1 L1021.3 2159.5 L1024.5 2160.7 L1027.7 2161.6 L1030.9 2162.4 L1034.0 2162.9 L1037.2 2163.2 L1040.4 2163.3 L1043.6 2163.2 L1046.8 2162.9 L1050.0 2162.4 L1053.2 2161.8 L1056.4 2161.1 L1059.6 2160.2 L1062.8 2159.3 L1066.0 2158.2 L1069.2 2157.0 L1072.4 2155.8 L1075.6 2154.5 L1078.8 2153.2 L1081.9 2151.9 L1085.1 2150.5 L1088.3 2149.2 L1091.5 2147.8 L1094.7 2146.5 L1097.9 2145.1 L1101.1 2143.9 L1104.3 2142.6 L1107.5 2141.4 L1110.7 2140.2 L1113.9 2139.1 L1117.1 2138.0 L1120.3 2137.0 L1123.5 2136.0 L1126.7 2135.1 L1129.8 2134.1 L1133.0 2133.3 L1136.2 2132.4 L1139.4 2131.6 L1142.6 2130.7 L1145.8 2129.9 L1149.0 2129.1 L1152.2 2128.2 L1155.4 2127.4 L1158.6 2126.5 L1161.8 2125.5 L1165.0 2124.5 L1168.2 2123.4 L1171.4 2122.3 L1174.6 2121.1 L1177.7 2119.8 L1180.9 2118.4 L1184.1 2116.9 L1187.3 2115.3 L1190.5 2113.5 L1193.7 2111.7 L1196.9 2109.7 L1200.1 2107.7 L1203.3 2105.5 L1206.5 2103.2 L1209.7 2100.8 L1212.9 2098.3 L1216.1 2095.7 L1219.3 2093.1 L1222.5 2090.3 L1225.6 2087.5 L1228.8 2084.6 L1232.0 2081.7 L1235.2 2078.8 L1238.4 2075.9 L1241.6 2072.9 L1244.8 2070.0 L1248.0 2067.2 L1251.2 2064.3 L1254.4 2061.6 L1257.6 2059.0 L1260.8 2056.5 L1264.0 2054.1 L1267.2 2051.8 L1270.4 2049.8 L1273.5 2047.9 L1276.7 2046.2 L1279.9 2044.7 L1283.1 2043.5 L1286.3 2042.5 L1289.5 2041.8 L1292.7 2041.3 L1295.9 2041.1 L1299.1 2041.2 L1302.3 2041.6 L1305.5 2042.3 L1308.7 2043.3 L1311.9 2044.5 L1315.1 2046.1 L1318.3 2047.9 L1321.4 2050.0 L1324.6 2052.4 L1327.8 2055.1 L1331.0 2058.0 L1334.2 2061.1 L1337.4 2064.5 L1340.6 2068.1 L1343.8 2071.9 L1347.0 2075.9 L1350.2 2080.0 L1353.4 2084.3 L1356.6 2088.7 L1359.8 2093.1 L1363.0 2097.7 L1366.2 2102.3 L1369.3 2106.9 L1372.5 2111.5 L1375.7 2116.1 L1378.9 2120.7 L1382.1 2125.2 L1385.3 2129.7 L1388.5 2134.0 L1391.7 2138.2 L1394.9 2142.2 L1398.1 2146.2 L1401.3 2149.9 L1404.5 2153.4 L1407.7 2156.8 L1410.9 2159.9 L1414.1 2162.8 L1417.2 2165.5 L1420.4 2168.0 L1423.6 2170.2 L1426.8 2172.2 L1430.0 2173.9 L1433.2 2175.4 L1436.4 2176.6 L1439.6 2177.7 L1442.8 2178.4 L1446.0 2179.0 L1449.2 2179.4 L1452.4 2179.5 L1455.6 2179.5 L1458.8 2179.2 L1462.0 2178.8 L1465.1 2178.3 L1468.3 2177.6 L1471.5 2176.8 L1474.7 2175.8 L1477.9 2174.8 L1481.1 2173.6 L1484.3 2172.4 L1487.5 2171.2 L1490.7 2169.9 L1493.9 2168.5 L1497.1 2167.2 L1500.3 2165.8 L1503.5 2164.5 L1506.7 2163.1 L1509.9 2161.8 L1513.0 2160.5 L1516.2 2159.2 L1519.4 2158.0 L1522.6 2156.8 L1525.8 2155.7 L1529.0 2154.6 L1532.2 2153.6 L1535.4 2152.6 L1538.6 2151.6 L1541.8 2150.7 L1545.0 2149.8 L1548.2 2148.9 L1551.4 2148.1 L1554.6 2147.3 L1557.8 2146.4 L1560.9 2145.6 L1564.1 2144.8 L1567.3 2143.9 L1570.5 2143.0 L1573.7 2142.1 L1576.9 2141.1 L1580.1 2140.0 L1583.3 2138.9 L1586.5 2137.7 L1589.7 2136.4 L1592.9 2135.1 L1596.1 2133.6 L1599.3 2132.0 L1602.5 2130.3 L1605.7 2128.5 L1608.8 2126.6 L1612.0 2124.6 L1615.2 2122.4 L1618.4 2120.2 L1621.6 2117.8 L1624.8 2115.3 L1628.0 2112.8 L1631.2 2110.1 L1634.4 2107.4 L1637.6 2104.6 L1640.8 2101.7 L1644.0 2098.8 L1647.2 2095.9 L1650.4 2093.0 L1653.6 2090.0 L1656.7 2087.1 L1659.9 2084.2 L1663.1 2081.4 L1666.3 2078.7 L1669.5 2076.0 L1672.7 2073.4 L1675.9 2071.0 L1679.1 2068.7 L1682.3 2066.6 L1685.5 2064.7 L1688.7 2062.9 L1691.9 2061.4 L1695.1 2060.1 L1698.3 2059.1 L1701.5 2058.2 L1704.6 2057.7 L1707.8 2057.4 L1711.0 2057.4 L1714.2 2057.7 L1717.4 2058.3 L1720.6 2059.2 L1723.8 2060.4 L1727.0 2061.9 L1730.2 2063.6 L1733.4 2065.6 L1736.6 2068.0 L1739.8 2070.5 L1743.0 2073.4 L1746.2 2076.5 L1749.4 2079.8 L1752.5 2083.3 L1755.7 2087.1 L1758.9 2091.0 L1762.1 2095.1 L1765.3 2099.3 L1768.5 2103.6 L1771.7 2108.1 L1774.9 2112.6 L1778.1 2117.2 L1781.3 2121.8 L1784.5 2126.4 L1787.7 2131.1 L1790.9 2135.7 L1794.1 2140.2 L1797.3 2144.6 L1800.4 2149.0 L1803.6 2153.2 L1806.8 2157.3 L1810.0 2161.3 L1813.2 2165.1 L1816.4 2168.7 L1819.6 2172.1 L1822.8 2175.3 L1826.0 2178.3 L1829.2 2181.0 L1832.4 2183.5 L1835.6 2185.8 L1838.8 2187.9 L1842.0 2189.7 L1845.2 2191.2 L1848.3 2192.6 L1851.5 2193.6" fill="none" stroke="#f00" stroke-width="6.3" stroke-linejoin="round"/>
<path d="M292.7 1751.0 V1741.2 M292.7 2389.0 V2398.8 M396.0 1751.0 V1741.2 M396.0 2389.0 V2398.8 M499.2 1751.0 V1741.2 M499.2 2389.0 V2398.8 M602.4 1751.0 V1732.0 M602.4 2389.0 V2408.0 M705.6 1751.0 V1741.2 M705.6 2389.0 V2398.8 M808.8 1751.0 V1741.2 M808.8 2389.0 V2398.8 M912.1 1751.0 V1741.2 M912.1 2389.0 V2398.8 M1015.3 1751.0 V1732.0 M1015.3 2389.0 V2408.0 M1118.5 1751.0 V1741.2 M1118.5 2389.0 V2398.8 M1221.7 1751.0 V1741.2 M1221.7 2389.0 V2398.8 M1324.9 1751.0 V1741.2 M1324.9 2389.0 V2398.8 M1428.1 1751.0 V1732.0 M1428.1 2389.0 V2408.0 M1531.4 1751.0 V1741.2 M1531.4 2389.0 V2398.8 M1634.6 1751.0 V1741.2 M1634.6 2389.0 V2398.8 M1737.8 1751.0 V1741.2 M1737.8 2389.0 V2398.8 M1841.0 1751.0 V1732.0 M1841.0 2389.0 V2408.0 M226.0 1846.3 H207.0 M1884.0 1846.3 H1903.0 M226.0 1975.4 H207.0 M1884.0 1975.4 H1903.0 M226.0 2104.5 H207.0 M1884.0 2104.5 H1903.0 M226.0 2233.6 H207.0 M1884.0 2233.6 H1903.0 M226.0 2362.7 H207.0 M1884.0 2362.7 H1903.0" stroke="#000" stroke-width="2.5" fill="none"/>
<rect x="226.0" y="1751.0" width="1658.0" height="638.0" fill="none" stroke="#000" stroke-width="6"/>
<text transform="translate(190.8 1861.9) scale(1 1.035)" font-size="42.7" font-weight="bold" text-anchor="end">20</text>
<text transform="translate(190.8 1991.0) scale(1 1.035)" font-size="42.7" font-weight="bold" text-anchor="end">10</text>
<text transform="translate(190.8 2120.1) scale(1 1.035)" font-size="42.7" font-weight="bold" text-anchor="end">0</text>
<text transform="translate(190.8 2249.2) scale(1 1.035)" font-size="42.7" font-weight="bold" text-anchor="end">−10</text>
<text transform="translate(190.8 2378.3) scale(1 1.035)" font-size="42.7" font-weight="bold" text-anchor="end">−20</text>
<text transform="translate(602.4 2455.3) scale(1 1.035)" font-size="42.7" font-weight="bold" text-anchor="middle">2023</text>
<text transform="translate(1015.3 2455.3) scale(1 1.035)" font-size="42.7" font-weight="bold" text-anchor="middle">2024</text>
<text transform="translate(1428.1 2455.3) scale(1 1.035)" font-size="42.7" font-weight="bold" text-anchor="middle">2025</text>
<text transform="translate(1841.0 2455.3) scale(1 1.035)" font-size="42.7" font-weight="bold" text-anchor="middle">2026</text>
<text transform="translate(90.0 2069.5) rotate(-90) scale(1 1.035)" font-size="42.7" text-anchor="middle">Up (mm)</text>
<text transform="translate(1815.8 1790.0) scale(1 1.035)" font-size="35.5" font-weight="bold" text-anchor="end">-1.280+/- 1.142 mm/yr</text>
<text transform="translate(1054.5 2514.2) scale(1 1.035)" font-size="43.0416" text-anchor="middle">Time (year)</text>
<rect x="226.0" y="2618" width="1658.0" height="153" fill="none" stroke="#000" stroke-width="6"/>
<text transform="translate(1054.6 2667.0) scale(1 1.035)" font-size="35.5" font-weight="bold" text-anchor="middle">24 Hour Positions Using Final Orbits (blue) and Rapid Orbits (magenta).</text>
<text transform="translate(1054.6 2707.1) scale(1 1.035)" font-size="35.5" font-weight="bold" text-anchor="middle">Processed by the Nevada Geodetic Laboratory.</text>
<text transform="translate(1054.6 2747.2) scale(1 1.035)" font-size="35.5" font-weight="bold" text-anchor="middle">Plotted on 2026-Jan-26. Last data on 2026-Jan-10.</text>
</svg>
</body></html>
